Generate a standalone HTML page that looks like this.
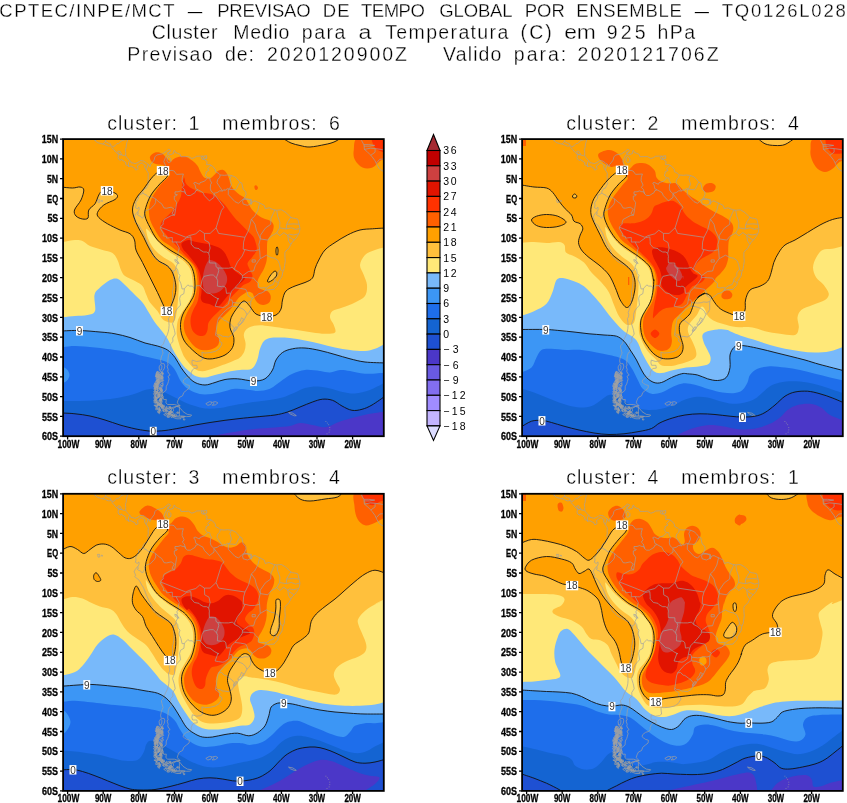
<!DOCTYPE html>
<html lang="pt"><head><meta charset="utf-8"><title>CPTEC/INPE/MCT - Previsao de Tempo Global por Ensemble</title>
<style>html,body{margin:0;padding:0;background:#fff}body{width:847px;height:803px;overflow:hidden}svg{display:block;will-change:transform}text{font-family:"Liberation Sans",sans-serif;fill:#000}.tk{font-weight:bold;font-size:10.4px;stroke:#000;stroke-width:.3px}.tt{stroke:#fff;stroke-width:.3px}.cl{font-size:10px;fill:#333}.cb{font-size:10.5px;font-weight:normal}</style></head><body>
<svg width="847" height="803" viewBox="0 0 847 803">
<rect width="847" height="803" fill="#fff"/>
<text class="tt" x="-0.67" y="16.8" font-size="18.5" textLength="175.18" lengthAdjust="spacing">CPTEC/INPE/MCT</text>
<text class="tt" x="187.85" y="16.8" font-size="18.5" textLength="14.53" lengthAdjust="spacingAndGlyphs">—</text>
<text class="tt" x="217.2" y="16.8" font-size="18.5" textLength="93.43" lengthAdjust="spacing">PREVISAO</text>
<text class="tt" x="322.87" y="16.8" font-size="18.5" textLength="26.71" lengthAdjust="spacing">DE</text>
<text class="tt" x="361.06" y="16.8" font-size="18.5" textLength="63.76" lengthAdjust="spacing">TEMPO</text>
<text class="tt" x="439.24" y="16.8" font-size="18.5" textLength="73.37" lengthAdjust="spacing">GLOBAL</text>
<text class="tt" x="524.87" y="16.8" font-size="18.5" textLength="39.9" lengthAdjust="spacing">POR</text>
<text class="tt" x="576.2" y="16.8" font-size="18.5" textLength="105.64" lengthAdjust="spacing">ENSEMBLE</text>
<text class="tt" x="694.7" y="16.8" font-size="18.5" textLength="14.25" lengthAdjust="spacingAndGlyphs">—</text>
<text class="tt" x="721.72" y="16.8" font-size="18.5" textLength="124.03" lengthAdjust="spacing">TQ0126L028</text>
<text class="tt" x="151.66" y="38.8" font-size="19.5" textLength="65.75" lengthAdjust="spacing">Cluster</text>
<text class="tt" x="233.31" y="38.8" font-size="19.5" textLength="55.99" lengthAdjust="spacing">Medio</text>
<text class="tt" x="301.82" y="38.8" font-size="19.5" textLength="43.63" lengthAdjust="spacing">para</text>
<text class="tt" x="358.44" y="38.8" font-size="19.5" textLength="12.89" lengthAdjust="spacingAndGlyphs">a</text>
<text class="tt" x="385.25" y="38.8" font-size="19.5" textLength="123" lengthAdjust="spacing">Temperatura</text>
<text class="tt" x="520.56" y="38.8" font-size="19.5" textLength="31.26" lengthAdjust="spacing">(C)</text>
<text class="tt" x="564.17" y="38.8" font-size="19.5" textLength="31.78" lengthAdjust="spacingAndGlyphs">em</text>
<text class="tt" x="606.74" y="38.8" font-size="19.5" textLength="38.99" lengthAdjust="spacing">925</text>
<text class="tt" x="657.38" y="38.8" font-size="19.5" textLength="37.85" lengthAdjust="spacing">hPa</text>
<text class="tt" x="127.31" y="60.6" font-size="19.5" textLength="85.38" lengthAdjust="spacing">Previsao</text>
<text class="tt" x="224.88" y="60.6" font-size="19.5" textLength="28.97" lengthAdjust="spacing">de:</text>
<text class="tt" x="266.92" y="60.6" font-size="19.5" textLength="140.08" lengthAdjust="spacing">2020120900Z</text>
<text class="tt" x="443.1" y="60.6" font-size="19.5" textLength="58.29" lengthAdjust="spacing">Valido</text>
<text class="tt" x="513.86" y="60.6" font-size="19.5" textLength="52.33" lengthAdjust="spacing">para:</text>
<text class="tt" x="577.6" y="60.6" font-size="19.5" textLength="141.04" lengthAdjust="spacing">2020121706Z</text>
<defs>
<clipPath id="cp1"><rect x="63.1" y="139.1" width="320.7" height="297.1"/></clipPath>
<clipPath id="cp2"><rect x="522.1" y="139.1" width="320.7" height="297.1"/></clipPath>
<clipPath id="cp3"><rect x="63.1" y="493.8" width="320.7" height="297.1"/></clipPath>
<clipPath id="cp4"><rect x="522.1" y="493.8" width="320.7" height="297.1"/></clipPath>
<g id="map" fill="none" stroke="#a0a0a0" stroke-width="0.7" stroke-linejoin="round">
<path d="M148.3 164.2L149.9 166.8L150.6 164.5L152 162.9L154.1 160.1L154.9 156.9L156.6 155.1L159.1 154.5L162.7 153.8L166.3 151.4L168.4 149.2L170.5 150.2L169.8 151.8L167.5 152.6L168.8 155.1L170.9 154.5L173.7 153.4L173.4 151.6L174.5 150.2L175.3 152.4L177.3 153.2L180.2 154.4L180.9 156.7L185.1 156.7L188.4 156.5L191.9 158.5L194.8 157.5L196.5 156.3L200.5 156.1L203.3 156.1L201.2 157.3L201.9 159.1L204.4 159.5L207.2 161.7L206.5 164.7L210.1 164.7L213.3 166.8L215.4 169.6L215.4 171.6L219 173.6L220.2 175L224.3 175.3L227.5 175L231.5 175.5L235 176.9L237.5 179.1L239.8 182.1L241.8 183.1L243.2 189.4L245.7 191.6L246.1 194.2L244.3 198.5L248.2 199.1L251.4 199.7L251.1 204.5L252.8 201.3L255 200.9L257.8 202.3L261.4 203.9L264.3 205.5L265.3 208.8L267.1 208.2L269.2 207.8L273.2 209.6L276.7 210.2L281.4 209.8L284.9 211.8L286.7 213.2L289.9 216.5L292 217.9L295.6 218.5L297.7 219.1L298.6 222.3L299.5 226.1L299.9 228.4L299.5 231.8L298.1 235L296 238.1L294.2 240.1L292 242.5L290.6 244.9L288.5 248.8L286.7 250L284.9 252.4L284.9 257.1L285.3 261.1L284.6 265.5L284.2 268.6L282.8 271.8L282.1 276.2L280.6 278.5L278.5 281.7L277.8 285.3L274.6 288.4L274.2 289.4L270.3 289.6L267.1 289.8L265 290.8L262.1 292.8L258.9 293.6L256.4 295.6L253.2 297.9L251.4 299.5L250.7 302.3L250.7 306.3L250.7 309.4L249.3 312.2L246.8 314.6L245 318.2L242.9 322.1L240 324.9L238.2 326.1L236.5 329.6L233.6 332.2L232.2 334.8L228.3 337L224.7 336.4L222.9 336.4L220.4 335L217.6 334.8L215.8 333.2L215.4 335.2L218.6 337.2L220.1 339.1L219.4 341.1L221.8 342.7L221.8 344.7L219 349.1L215.1 351.4L210.1 352.6L204.7 353L201.9 352.2L202.2 356.2L202.6 359.4L200.5 360.9L196.5 361.5L192.3 360.1L191.9 362.9L192.6 365.3L196.9 365.3L197.3 368.1L194.1 368.5L192.3 370L191.2 372.8L191.2 375.2L189.8 376.8L186.6 377.6L183.7 379.9L183 381.9L184.8 383.5L186.6 384.7L189.4 385.5L189.1 388.3L186.6 390.2L183.7 392.6L182.6 395.8L179.4 397.4L178 400.2L177.3 402.9L178.4 404.1L180.2 405.9L176.2 406.5L172.7 407.3L171.2 410.1L170.2 411.8L167.3 410.8L163.8 408.5L160.9 406.9L157.7 404.5L157 402.5L155.6 398.6L154.9 394.6L154.9 390.6L155.6 387.9L158.4 386.7L154.5 383.5L156.3 380.7L158.8 379.6L160.2 376.8L160.9 373.6L162.7 370.8L164.1 368.9L164.8 366.1L164.1 363.7L161.3 363.7L160.6 360.9L161.3 357L162.3 354.6L163.1 353L162 349.1L161.4 345.9L163.4 343.9L164.5 340.7L165.5 338.4L167.3 334.8L168.4 331.2L168.8 328.8L169.1 325.3L168.8 321.3L168.4 318.5L169.5 317L169.8 314.2L169.1 312.6L170.5 309L171.2 305.9L172.3 301.9L172.7 298.7L172.7 294.8L172.3 291.6L173 290L173.7 286.1L174.1 281.7L173.9 278.5L173.4 274.6L173.2 271.4L171.2 269.4L169.5 267.4L167 265.9L164.1 264.3L160.9 262.7L157.7 260.7L155.6 258.7L153.1 256L152 253.6L152 251.6L150.2 248L149 246.3L147.7 243.3L146.3 240.1L144.9 236.5L143.5 233L141.7 230.2L139.9 227L138.8 225.1L135.6 222.7L134.7 221.9L135.6 220.7L134.9 218.7L134.1 217.1L135.3 214.8L137 212.4L138.1 211.8L139.2 209.2L138.8 207.2L137.4 208.8L135.4 207.6L136 205.3L135.6 202.7L137 200.9L137.2 199.9L138.5 198.5L138.6 195.4L140.6 194.4L142.7 193.4L142.9 191.4L144.5 188.6L146.3 188.2L147.7 185.4L148.8 183.1L147.7 181.9L148.3 178.7L148.1 176.3L148.4 173.6L147.7 172L146.3 170"/>
<path d="M146.3 170L145.2 168.4L144.5 166.4L145.4 165.2L144.2 164.8L142.4 163.1L140.6 163.1L139.5 164.5L137.4 165.8L138.1 168.4L137.4 169.6L135.6 170L134.9 168L133.1 167.2L131 166L128.5 166.6L128.1 165.6L126 165L125.6 164.1L126 162.9L123.9 161.1L122.1 160.3L121.4 159.1L120.6 160.5L118.7 159.3L118 157.3L118.5 155.1L118.2 154.2L115.7 152L113.9 149.8L111.7 147.4L112.5 146.2L111 145.8L108.5 146.2L105.7 145L103.2 144.1L100.3 143.5L97.8 142.7L95.3 140.9L93.2 138.3"/>
<path d="M148.3 164.2L146.7 163.3L144.2 161.3L142.4 160.7L140.2 160.7L139.2 161.7L137 162.9L134.9 163.7L132.8 162.9L131 162.9L131 161.7L129.6 160.5L128.1 158.9L126.3 156.9L125.6 155.1L125.8 152.6L125.3 149.8L126.2 147.4L126.3 145L127.1 141.9L127.6 139.1L127.4 137.9"/>
<path d="M128.5 166.6L128.5 162.9L129.6 160.5"/>
<path d="M118.5 154.5L121.4 154.9L124.6 155.7L125.6 155.1"/>
<path d="M112.8 147L114.9 145.8L117.1 143.5L118.5 143.7L121 141.1L122.8 140.3L127.6 139.1"/>
<path d="M111 145.4L110.3 143.5L108.5 143.1L105.5 141.5L106 138.3"/>
<path d="M102.8 144.1L104.3 142.7L105.5 141.5"/>
<path d="M95.3 140.9L95.7 138.3"/>
<path d="M146.3 170L148.3 164.2"/>
<path d="M169.6 151.6L167.3 154.5L165.5 157.3L163.8 161.7L165.5 165.2L165.9 168.8L167.3 170.8L172 170.4L174.1 171L176.6 174.4L183.4 174L182.3 177.5L182.1 180.7L184.1 185.1L182.3 187.4L184.4 189.4L185.5 193.8"/>
<path d="M185.5 193.8L184.8 191.8L181.9 191.6L180.9 190.8L178 191.8L175 191.8L175 194.3L177.3 194.6L176.6 195.7L174.3 196.2L174.3 199.3L176.6 202.5L176.4 204.5L174.6 215.2"/>
<path d="M174.6 215.2L172 213.6L174.3 209.2L171.2 207.2L166.6 208.2L164.1 208L161.6 203.7L159.1 202.1L155.6 198.9"/>
<path d="M155.6 198.9L154.5 198.3L152 196.9L148.1 196.9L147 195.4L143.8 193.8L142.9 192.8"/>
<path d="M155.6 198.9L155.7 202.3L154.5 204.7L150.6 208.8L146.5 210.4L144.5 212L144.9 214L143.5 216.7L142.4 218.3L140.6 216.3L138.5 215.6L137.2 214.4L138.3 214L137.8 212"/>
<path d="M174.6 215.2L171.6 215.4L164.1 219.5L163.1 222.5L163.2 224.3L161.1 225.9L160.2 228.2L163.8 234.2L163.1 235.8L166.3 236.4L166.6 238.1L172.3 237.5L172.3 242.1L176 241.9"/>
<path d="M176 241.9L179.3 248L178 252.4L178.4 254.8L176.8 257.1L177.5 259.1L176.6 260.3L178 262.7L175.9 267.1L176.2 267.8"/>
<path d="M176.2 267.8L175.2 270.2L173.2 271.2"/>
<path d="M176.2 267.8L177.7 269.8L178.2 273.4L180 275.4L178.9 279.3L180.9 283.7L182.1 289L184.4 288.8"/>
<path d="M176 241.9L178.7 242.1L180.5 242.1L186.6 237.7L190.8 236.9L191.2 241.7L191.2 244.1L194.4 247.8L199 248.6L200.1 250L203.7 252L206.5 252L208.7 253.2L209.4 256.4L209.2 258.3L209.4 262.9L215.8 263.1L216 266.7L217.9 268L218.8 270.6L217.9 273.8L216.7 277L216.7 278.3"/>
<path d="M216.7 278.3L213.3 275L210.1 275L203.9 276.4L202.1 279.9L200.6 286.7"/>
<path d="M200.6 286.7L200.1 285.7L196 285.7L194.8 289L192.4 286.1L189.6 286.1L187.8 284.9L185.1 287.8L184.4 288.8"/>
<path d="M184.4 288.8L183.9 293.6L180.5 295.6L179.6 298.7L180.2 302.3L180.5 305.1L177.7 308.2L175.7 311L174.6 314.2L174.5 318.9L173.4 321.7L172.5 323.7L174.1 328.8L174.5 330.4L175.2 334L172.7 338L173 341.5L170.5 343.9L171.1 351.8L169.5 352.6L168.4 355.4L168 359L167.7 363.3L168.2 365.3L167 366.1L168.2 369.6L167.7 371.2L168.8 373.6L170.2 374.8L168 376.4L169.1 378.8L168.4 381.5L167.7 383.9L166.3 386.3L166.1 390.2L162 393.8L163.2 397.8L163.8 399.6L166.3 399.4L165.9 402.9L167.7 404.5L174.5 404.5L176.2 405.1L180 405.9"/>
<path d="M200.6 286.7L206.5 292.8L210.1 293.6L214.4 296.8L218.6 299.1L218.1 298.3L215.1 306.3L218.6 306.9L222.9 307.5L224.7 306.9L228.6 304.1L229.3 299.9"/>
<path d="M216.7 278.3L217.7 280.7L217.4 286.1L221.8 286.7L222.9 286.1L224.9 286.9L225.8 288.2L226.5 293.4L229.3 293L230.6 293.8L229.3 299.9"/>
<path d="M229.3 299.9L231.8 299.9L232.7 302.3L232.2 306.1L227.9 308.6L225.4 310.6L223.3 312.6L218.6 318.2"/>
<path d="M218.6 318.2L221.5 317.8L224.3 320.5L225.8 320.7L229.3 323.3L232.2 325.5L234.3 328.1L233.6 332.2"/>
<path d="M218.6 318.2L217.6 321.3L216.9 325.3L216.5 329.2L215.8 333.2"/>
<path d="M210.1 164.7L210.8 165.6L207.6 168.8L209 170.4L206 172L206.2 174L205.1 175L207.6 177.9"/>
<path d="M207.6 177.9L204.7 181.1L200.1 182.7L199.4 184.3L195.1 182.3L193.7 183.1L195.1 185.1L195.8 188.6L198 189.8L195.7 190.8L195.1 192.6L191.2 195L190.3 195.5L187.6 195.5L185.5 193.8"/>
<path d="M207.6 177.9L209.7 177.9L210.3 180.7L211.7 182.9L210.6 184.3L210.3 188.2L211 191L213.7 193.4L217.2 192.6L219.7 190.8L222.6 191"/>
<path d="M220.2 175L219.7 177.5L217.6 179.5L217 182.7L218.6 185.2L220.1 187.4L222.6 191"/>
<path d="M222.6 191L224.3 189.4L224.7 190.6L227.9 188.4L229.3 189.4"/>
<path d="M231.5 175.5L229.9 178.7L231.5 184.3L229.3 189.4"/>
<path d="M229.3 189.4L232.2 189.4L235.4 189.8L236.6 188.2L239.8 182.1"/>
<path d="M214 193.8L224 207.2L221.5 210.4L216.1 227.8"/>
<path d="M198 189.8L203 192.6L204.4 195.7L209.4 200.9L214 197.3L214 193.8"/>
<path d="M160.9 227.4L185.9 237.3"/>
<path d="M185.9 237.3L188.7 235.8L195.8 233.8L199.8 230.2L204.4 233.4"/>
<path d="M204.4 233.4L210.1 233.4L216.1 227.8"/>
<path d="M216.1 227.8L218.6 233.4L245 237.3"/>
<path d="M245 237.3L248.6 230.2L251.4 219.1L254.6 216.3L257.8 210.4L259.6 202.9"/>
<path d="M228.3 189L228.3 194.6L235 201.7L238.6 203.3L242.2 199.7L244.3 198.5"/>
<path d="M274.9 210L271 218.3L270.7 224.3L265.3 228.2L260.3 235.4L260.3 238.9"/>
<path d="M251.4 219.1L255 224.3L256.4 230.2L260.3 238.9"/>
<path d="M276.7 210.2L277.8 216.3L279.9 222.3L279.6 227.8"/>
<path d="M279.6 227.8L276.7 233L271 236.2L267.8 240.1L260.3 238.9"/>
<path d="M291 217.1L288.1 221.5L286.7 224.3L286.3 228.2L286 229L279.6 227.8"/>
<path d="M299.2 224.3L293.8 223.9L286.7 224.3"/>
<path d="M299.7 228.4L295.6 229.4L291.3 227.8L286 229"/>
<path d="M298.5 233.8L293.8 235L289.2 234.2L287.8 235.4"/>
<path d="M294.2 240.1L289.2 236.9L287.8 235.4"/>
<path d="M290.6 244.1L288.5 240.9L287.8 235.4L283.8 232.6L279.9 235.8L276.7 233"/>
<path d="M260.3 238.9L258.9 244.5L259.6 249.6L260 255.2L260.3 258.7"/>
<path d="M260.3 258.7L266.4 255.2L271 257.5L274.9 258.3L278.1 260.7L279.6 264.3L280.6 269.4L282.4 271.2"/>
<path d="M245 237.3L243.6 242.1L243.2 249.2L245 249.6"/>
<path d="M245 249.6L250 250.8L254.6 250.8L259.6 249.6"/>
<path d="M245 249.6L242.2 256L237.5 261.9L234.7 267.8L234.7 269.8"/>
<path d="M234.7 269.8L238.6 271.8L242.2 275L242.5 275.8"/>
<path d="M242.5 275.8L248.6 271.4L253.6 271L255.3 265.5L260 258.7"/>
<path d="M252.1 259.9L255.3 259.9L255.3 262.1L252.1 262.1L252.1 259.9"/>
<path d="M217.9 268L224.3 268.2L228.6 268.2L232.5 267.4L234.7 269.8"/>
<path d="M204.4 233.4L204.7 240.1L209 242.5L210.1 248L208.7 253.2"/>
<path d="M242.5 275.8L242.2 278.9L239 283.3L235 287.6L231.5 291.2L230.6 293.8"/>
<path d="M242.5 277.4L248.2 277.7L253.6 278.1L255.7 280.9L258.5 283.3L258.2 287.3L261 288L264.3 287.6L266.4 288L264.6 291"/>
<path d="M266.4 288L269.6 285.7L273.2 284.5L274.6 281.3L275.3 280.9L277.8 282.9"/>
<path d="M274.6 281.3L274.9 278.9L277.8 275.8L277.8 273L279.2 270.6L280.6 269.4"/>
<path d="M235 287.8L240.4 288.4L245.7 289.4L247.1 292L248.2 296L251.1 297.6L252.5 298.7"/>
<path d="M232.5 302.5L238.6 303.1L242.2 302.7L244.7 301.9L247.9 302.3L250.7 301.5"/>
<path d="M232.2 306.1L236.8 306.7L240.4 307.9L242.9 309L245.7 311.8L246.8 314.6"/>
<path d="M179.4 407.1L179.4 416"/>
<path d="M363.3 137.9L361.5 140.3L364 145L364.4 149.4L366.9 151.4L370.4 154.9L372.2 156.9L375.1 160.9L376.9 164.8L379.3 168.8L382.9 171.2L384.7 172.4"/>
<path d="M364 144.6L368.7 144.6L374.7 145.4"/>
<path d="M364 146.2L369.4 146.2L374.7 145.4"/>
<path d="M364.4 149.4L370.4 148.2L375.1 148.6L375.1 152.2L370.8 155.3"/>
<path d="M375.1 148.6L381.1 149.4L384.7 150.2"/>
<path d="M376.5 162.9L379.7 159.3L384.7 158.9"/>
<path d="M382.9 171.2L384.7 167.6"/>
<path d="M168.8 156.5L170.9 158.9L170.9 161.7L168.4 162.7L167 160.5L167.3 157.7Z"/>
<path d="M118.2 153.8L121 154.9L121.7 154.2L119.6 151L117.8 151.4Z"/>
<path d="M174.8 259.5L176.9 260.3L179.1 263.5L177.7 263.1L175.2 261.5Z"/>
<path d="M241.4 317.8L243.6 318.9L241.1 323.3L238.2 325.3L237.9 324.1L240.4 320.9Z"/>
<path d="M236.1 326.5L233.2 330.4L234.3 331.2L236.5 328.1Z"/>
<path d="M203.3 158.7L206.7 158.5L206.7 155.7L204 156.1Z"/>
<path d="M243.6 199.3L247.9 199.3L251.1 200.5L250.7 203.7L247.5 205.3L243.2 204.1L242.5 201.3Z"/>
<path d="M179.4 407.1L180.5 408.5L183 411.6L187.3 414.4L191.6 415L190.5 416.4L186.6 416.6L181.6 416L179.4 416L174.5 416L170.9 414.8L167.7 414L171.2 412.8L173.7 410.8L173 408.5L176.6 406.5Z"/>
<path d="M180.9 416.4L184.8 416.4L184.1 417.6L181.2 417.4Z"/>
<path d="M174.5 416.8L180.2 417.2L180.9 418.8L176.9 418.8L173.4 417.6Z"/>
<path d="M183 418.8L185.1 419.2L184.1 420.4Z"/>
<path d="M205.8 403.7L209.4 401.7L211.9 402.1L210.8 404.5L207.9 405.3Z"/>
<path d="M212.6 402.1L215.8 401.7L217.9 402.9L215.4 404.9L212.2 405.3L213.7 403.7Z"/>
<path d="M288.5 412.4L292.8 413.2L296.3 415.6L294.5 415.8L290.6 414.2Z"/>
<path d="M160.6 364.3L162 365.7L161.6 369.6L159.5 370.4L159.1 366.9Z"/>
<path d="M97.5 199.7L99.6 199.7L100 202.1L98.2 202.5Z"/>
<path d="M101.4 200.5L102.5 200.7L102.1 201.7Z"/>
<path d="M163 373.1L162.7 371.9L162.3 372.9L162.6 374.3Z"/>
<path d="M162.4 373.4L161.6 372.5L161.2 373.6L161.6 374.3Z"/>
<path d="M158.4 372.5L158.1 371.3L157.5 371.4L157.2 372.3L157.5 373.5L158.1 373.2Z"/>
<path d="M157.5 372.2L157.2 371.5L156.6 371.8L156.6 372.8L157 373Z"/>
<path d="M161.5 372.5L160.9 370.8L160.1 371.5L159.6 373.1L160.6 374Z"/>
<path d="M159.1 372.8L158.7 372L157.6 372L156.7 372.4L157.2 373.3L158.5 373.7Z"/>
<path d="M157.4 374.2L157 373.7L156 374L156.3 374.5L156.9 374.8Z"/>
<path d="M159.9 374L159.4 373.6L158.4 373.7L158.6 374.3L159.4 374.5Z"/>
<path d="M163.7 374.1L163.1 373.2L162.1 373.3L162 374.2L162.7 374.6Z"/>
<path d="M156.8 374.5L156.4 372.9L156.1 373.3L155.8 374.3L156.1 375.5L156.5 375.9Z"/>
<path d="M160.2 375.2L159.4 374.4L158.8 374.4L158.1 374.9L158.6 375.9L159.5 375.7Z"/>
<path d="M160.8 375.2L159.5 374.4L158.6 375.4L159.4 376.3Z"/>
<path d="M158.9 375.5L158.2 374.1L157.1 374.9L156.8 376.6L158.1 377.6Z"/>
<path d="M161.5 376.5L160.6 375.3L159.3 375.6L158.6 376L159.2 377L161 376.8Z"/>
<path d="M159.7 374.9L158.6 374L157.4 374.8L158.6 375.5Z"/>
<path d="M157.2 375.2L156.8 374.1L156.4 374.2L156.3 375.2L156.5 376.3L157 376.4Z"/>
<path d="M163.2 377.3L162.6 375.9L161.2 376.1L160.9 377.5L161.3 378.5L162.1 379.1Z"/>
<path d="M158 376.7L157.3 375.6L156 376.5L156.1 377.1L156.9 377.8Z"/>
<path d="M156.2 376.1L156.1 375.5L155.5 375.5L155.3 376L155.6 377.1L156.2 376.8Z"/>
<path d="M157.8 377L157.6 376L156.2 376.3L156.2 377.2L157.4 377.5Z"/>
<path d="M162.7 375.7L162.3 374.7L161.5 375.1L161.7 376.8L162.3 377.2Z"/>
<path d="M159.2 377.1L158.5 376.1L157.4 376.5L157.9 377.8L158.4 377.9Z"/>
<path d="M161.9 376.9L161.8 376.3L161.1 376.2L161 376.9L161.2 377.9L161.6 378.2Z"/>
<path d="M162.7 378.7L161.5 378L160.5 378.6L161.6 379.2Z"/>
<path d="M156.9 378.5L156.6 378L156 378.3L156 379.2L156.4 379.1Z"/>
<path d="M160.4 377.5L159.7 376.6L158.5 377L158.5 377.8L159.8 377.9Z"/>
<path d="M163 377.4L162.4 376.9L160.9 377.4L160.7 378.1L162.1 378.6Z"/>
<path d="M160.5 379.1L160.1 378.2L159.7 378.7L159.8 379.5L160.1 379.5Z"/>
<path d="M159.2 379.3L158.7 378.9L157.9 378.8L157.4 379.3L157.6 380L158.9 379.8Z"/>
<path d="M163.1 378.6L162.7 377.6L162 377.4L161.2 379.2L161.8 380.3L162.6 380.2Z"/>
<path d="M160.7 378.6L159.7 377.4L159.1 377.8L157.8 379L158.7 379.9L159.6 379.8Z"/>
<path d="M160.2 379.6L159.5 378.7L158.8 379.5L159.5 380.5Z"/>
<path d="M158.2 379L157.8 377.7L157 378.4L157.2 379.7L157.6 380.1Z"/>
<path d="M161 381.5L160.7 380.3L159.9 380.3L159.1 381.4L159.8 382.1L160.5 382.2Z"/>
<path d="M158.9 381.5L157.8 380.1L157.1 380L157 382L158.1 382.9Z"/>
<path d="M158.3 381.3L157.7 380.2L157 380.6L157 381.8L157.7 382.2Z"/>
<path d="M159 380.7L158.1 379.5L157 380.8L158 382.3Z"/>
<path d="M159.3 381.1L159 380.6L158.6 380.6L158.2 381L158.6 381.7L159.1 381.6Z"/>
<path d="M163.8 380.6L163.5 380.1L161.9 380L161.7 380.6L162.1 381L163.1 381.1Z"/>
<path d="M159.3 382.6L158.8 380.9L157.8 382.4L158.9 383.9Z"/>
<path d="M159.5 382.5L159.2 381.9L158.6 382.2L158.6 382.9L159.2 383Z"/>
<path d="M158.5 381.8L157.8 380.3L157 380.9L156.8 382.1L157.9 382.9Z"/>
<path d="M162.4 381.3L162 380.9L161.8 380.8L161.5 381.5L161.7 381.8L162.2 381.7Z"/>
<path d="M157.3 381.1L157 380L156.6 379.7L156.1 381L156.5 382.4L156.8 382.4Z"/>
<path d="M160.8 381.5L160.7 381.2L160.2 381.1L159.9 381.8L160 382.2L160.5 382.2Z"/>
<path d="M157 383.4L155.8 382.9L154.5 383.5L155.7 383.8Z"/>
<path d="M159.2 383.3L158.7 382.6L157.1 382.9L157.2 383.7L158.5 384Z"/>
<path d="M163.2 383.1L162.9 382.4L162.4 382.9L162.2 383.7L162.9 383.8Z"/>
<path d="M159.6 382.8L159.1 382.2L158.4 383L159 383.5Z"/>
<path d="M158.9 383.7L158.4 383.1L157.9 383.3L158 383.9L158.6 383.9Z"/>
<path d="M157.7 384.4L157.6 383.7L156.6 384L156.4 384.3L156.8 385.2L157.7 385.3Z"/>
<path d="M159.6 384.8L158.2 383.9L156.8 384.4L156.9 386L158.2 386.3Z"/>
<path d="M157.4 383.9L156.8 383.1L155.7 382.9L155.5 385L156.5 385.4Z"/>
<path d="M163.4 384.9L162.6 384L161.7 383.5L160.5 384.5L161.6 386L162.4 385.5Z"/>
<path d="M157.4 384.8L156.1 383.8L155 384.6L156.5 385.7Z"/>
<path d="M158.4 385.1L158 384.4L157.1 384.6L157.2 385.3L158.2 385.6Z"/>
<path d="M158.5 384.6L157.5 382.6L156 384L157.2 385.3Z"/>
<path d="M163.2 385.9L162.6 385.2L160.7 385.7L160.7 386.4L161.9 387.3Z"/>
<path d="M156.1 385.6L155.1 384.5L154 384.4L153.8 386.3L155.5 386.8Z"/>
<path d="M156.7 385.9L156.3 384.8L154.9 385.2L154.8 386.3L156.4 386.8Z"/>
<path d="M158.3 386.4L157.6 385.8L156.3 386.4L157.5 386.9Z"/>
<path d="M156.1 386.4L155.4 385.8L154.4 385.6L153.9 386.6L154.2 387.4L155.7 387Z"/>
<path d="M162.3 387.7L161.5 387.1L160.3 387.4L159.9 388L160.2 388.7L161.8 388.4Z"/>
<path d="M157.4 387.6L156.1 386.6L155.1 387.6L156.3 388.3Z"/>
<path d="M157.8 387.3L157.4 386.2L156.4 386.4L156.4 387.8L157.5 388.5Z"/>
<path d="M159 387.1L158.5 385.8L156.9 386.4L157.3 387.7L158.1 388.7Z"/>
<path d="M157.5 386.7L157.2 386L156.5 386.1L156.6 387.3L157.2 387.8Z"/>
<path d="M160.4 388L160 387L159.5 387.3L159.1 388.2L159.5 389.1L160.2 389.3Z"/>
<path d="M155.3 389.2L155 387.8L154.5 388.1L154.1 389.4L154.5 390.3L155.2 390.5Z"/>
<path d="M158.1 388.7L156.8 387.3L155.4 387.9L155.2 389.1L156.5 389.9Z"/>
<path d="M158 388L156.9 387.4L155.9 387.2L155.2 388.2L155.5 389.1L157.1 389Z"/>
<path d="M155.7 388.6L155.2 387.6L154.5 387.5L154.1 388.1L154.5 389.1L155.1 389.5Z"/>
<path d="M158.1 389.9L157.9 389.1L157.4 389.2L157.3 390L157.4 390.8L157.8 391.1Z"/>
<path d="M162.5 390.7L161.6 389.2L160.4 390.6L161.5 391.5Z"/>
<path d="M158.1 390.5L157.7 389.2L156.5 389.1L155.2 390.2L156 391.7L157.3 392.1Z"/>
<path d="M162.4 389.1L162 388.6L161.5 388.6L161.2 389.2L161.6 389.5L162 389.5Z"/>
<path d="M161.3 389.2L160.4 388.2L159.2 388.7L159.6 389.8L161 389.9Z"/>
<path d="M162.3 389.7L161.5 388.8L160.6 389.3L160.1 390.4L161.4 391.3Z"/>
<path d="M155.6 391.6L154.7 391.2L153.5 391.8L154.9 392.1Z"/>
<path d="M162.3 390.5L160.9 389.8L160.2 390.5L161.5 391.1Z"/>
<path d="M159.4 391.8L158.8 390.8L157.3 390.8L157.3 392.3L158.9 392.7Z"/>
<path d="M161.5 390.9L161.3 390.2L160.8 390.4L160.9 391.6L161.3 391.8Z"/>
<path d="M157.3 392L156.9 391.2L156.2 391.9L156.7 393.1Z"/>
<path d="M158 392.6L156.7 391.6L155.8 392.9L156.6 393.7Z"/>
<path d="M162.7 392L162.6 390.9L161.2 391L160.8 392L161.2 392.6L162.6 392.6Z"/>
<path d="M160.4 392.6L159.9 392.1L158.9 392.4L158.9 392.9L159.9 393.1Z"/>
<path d="M157.4 392.5L155.8 391.3L155 392.6L156.3 393.9Z"/>
<path d="M156.5 393.4L155.8 392.9L155.3 393.5L155.7 394.1Z"/>
<path d="M155.8 393.6L155.5 393.1L154.2 393.2L153.4 393.7L154.3 395.1L155.6 395.1Z"/>
<path d="M161.1 393.2L160.3 392.4L159.2 392.3L158.5 393.2L159.2 394.7L160.4 394.3Z"/>
<path d="M159.1 393.7L158.1 393L157.5 392.8L157 394L157.3 394.4L158.6 394.7Z"/>
<path d="M159.3 395.7L158.9 394.7L158.1 394.6L157.3 395.6L157.9 396.5L159.4 396.5Z"/>
<path d="M159.9 395.1L159.3 393.8L158.7 394.8L159.2 395.8Z"/>
<path d="M162.4 395L161.9 393.9L161.4 394.5L161.3 396L162.1 396Z"/>
<path d="M161 394.4L159.9 393.6L158.8 394.2L158.7 395.2L160.5 395.4Z"/>
<path d="M159.5 394.7L159 393.8L157.6 393.9L156.9 394.8L157.3 395.3L159.2 395.3Z"/>
<path d="M159.7 396.2L158.8 395.6L157.8 396.4L158.8 397.7Z"/>
<path d="M157.1 395.7L156.3 395L154.8 395.1L154.4 395.6L155 396.4L156.4 396.4Z"/>
<path d="M159.5 396.7L158.9 396L158.5 396.4L158.3 397.2L158.9 397.3Z"/>
<path d="M160.8 396.4L160.4 395.5L159.5 396L159.3 397L160.3 397.1Z"/>
<path d="M163.1 396.6L162.4 395.2L161.4 396.5L162.4 397.8Z"/>
<path d="M157.5 398L157 397.4L156.2 397.5L156.3 398.4L157 398.3Z"/>
<path d="M158 398L157 396.8L156.2 397.9L156.7 399.3Z"/>
<path d="M158.7 397.2L158.5 396.2L157.9 396.3L157.7 397L157.9 398.2L158.3 398.1Z"/>
<path d="M155.9 397L155.4 396L153.8 396.8L153.8 397.5L155.3 398.4Z"/>
<path d="M162.8 397.6L161.9 396.7L160.9 396.7L160.9 399L161.9 398.9Z"/>
<path d="M156.5 399.4L156 397.8L154.1 397.9L154.2 399.4L155.6 399.9Z"/>
<path d="M160.6 399.3L160.4 398.3L160 398.3L159.7 399.6L160.1 400.5L160.3 400.5Z"/>
<path d="M162.3 398.6L161.5 397.8L160.8 398L160.6 399.2L161.8 399.3Z"/>
<path d="M162 399.2L161.1 398.2L159.9 398.7L159.8 399.8L161.2 400.4Z"/>
<path d="M161.9 399.9L161.5 399.4L160.9 399.4L160.9 400.2L161.5 400.4Z"/>
<path d="M157.7 401L156.2 399.2L155 400.5L156.8 402.1Z"/>
<path d="M161.4 400.1L160.8 399L159.9 399.5L159.9 401L160.7 401.2Z"/>
<path d="M161.1 399.7L160.7 399.1L159.6 399.6L159.6 400.2L160.5 400.3Z"/>
<path d="M156.8 399.7L156.3 398.8L155.2 399.2L155.3 400.5L156 401Z"/>
<path d="M155.9 400.4L154.7 400L153.6 400.5L154.7 401.3Z"/>
<path d="M157 402.5L156.5 401.6L155.8 402.3L156.7 403.1Z"/>
<path d="M160.7 400.9L159.6 400.3L158.7 400.6L158.2 401.2L160.1 401.3Z"/>
<path d="M155.4 401.7L154.7 400.4L153.8 402.1L154.6 403.1Z"/>
<path d="M161.6 400.9L160.9 400.2L160 400.2L159.3 400.8L160 401.8L161.2 401.5Z"/>
<path d="M162.3 400.7L161.5 400L161.2 401.1L161.8 402.7Z"/>
<path d="M159.2 403.2L158.4 402.4L157.3 402.1L157 403.1L157.5 403.9L158.4 404.2Z"/>
<path d="M157.4 402.3L156.8 401.9L156.1 402.2L156.2 402.7L156.9 402.9Z"/>
<path d="M157.3 403.4L155.8 401.9L154.8 403.3L156.4 404.3Z"/>
<path d="M161.3 403.2L161.2 402.8L160.6 402.8L160.3 403.2L160.5 403.4L161.2 403.6Z"/>
<path d="M161 404.5L160.8 404L160.1 403.8L160 404.8L160.3 405.8L160.9 405.8Z"/>
<path d="M159.5 405.1L158.8 404.1L158 404.1L157.4 405L157.7 405.8L158.9 405.7Z"/>
<path d="M161.4 403.5L160.4 403L159.7 402.8L159.1 403.7L159.7 404.3L160.5 404.3Z"/>
<path d="M160.2 405.1L159.3 403.8L158.6 405L159.3 405.7Z"/>
<path d="M158.5 404.6L158.1 403.9L157.7 403.9L157.5 404.7L158.2 404.9Z"/>
<path d="M159.6 403.9L159.2 402.5L158.7 402.3L158.5 404L158.6 404.8L159.3 405.3Z"/>
<path d="M161.8 403.7L160.7 402.2L159.5 403.9L160.5 404.6Z"/>
<path d="M155.9 405.6L154.8 405.1L153.9 405.4L155.2 406Z"/>
<path d="M162.9 405.3L161.8 404.4L160.6 404.3L160.1 405.6L160.4 406.3L161.7 406.5Z"/>
<path d="M162.6 405.2L162.4 404.4L161.5 404.7L161.2 405.3L161.8 406.3L162.4 406.4Z"/>
<path d="M157.2 405.8L156.5 405L155.9 405L155 405.7L155.6 406.6L156.6 406.7Z"/>
<path d="M157.8 406L157.2 404.7L156.4 406.1L156.9 407.1Z"/>
<path d="M162.7 406.2L162.4 405.2L161.3 405L160.9 406.8L161.4 407.9L162.6 407.8Z"/>
<path d="M164.7 406.4L163.8 404.8L162.7 406L164 407.5Z"/>
<path d="M170.3 407.1L169.7 406.6L168.5 406.8L168.8 407.5L169.9 407.8Z"/>
<path d="M163.3 407.1L163 405.7L161.5 406.1L161.5 408.4L162.5 408.4Z"/>
<path d="M170.7 407.7L170.5 406.5L169.8 406.8L169.9 408.3L170.4 408.4Z"/>
<path d="M167.2 407L166.8 406.3L166.2 406.9L166.9 407.4Z"/>
<path d="M164.3 406.5L164 406L162.9 405.9L161.7 406.4L162.4 407.2L164.2 407.2Z"/>
<path d="M167.1 408.1L166 407.5L164.8 408.1L166.3 408.8Z"/>
<path d="M157.7 409L157.3 408.2L155.9 408L155.7 409.7L157.4 409.8Z"/>
<path d="M159.6 408.5L159.4 408.2L158.2 408L157.6 408.6L158.2 408.9L159.4 409Z"/>
<path d="M168.1 408.1L167.5 407.7L166.9 408.4L167.3 409.1Z"/>
<path d="M168.6 409.1L168 408.2L167.5 409L168 409.6Z"/>
<path d="M172.4 408L171.5 407.5L170.1 407.8L170.3 408.6L171.2 408.8Z"/>
<path d="M157.5 407.5L157 406.9L156.1 406.7L156.1 407.9L156.8 408.3Z"/>
<path d="M163.5 409.6L163.2 408.2L162.7 409.5L163.3 411.3Z"/>
<path d="M160.4 409.8L159.5 409L158.6 409L158 409.8L158.7 410.5L159.5 410.4Z"/>
<path d="M167.2 410.1L166.3 409.2L165.4 409.2L164.8 409.8L165.2 410.5L166.5 410.3Z"/>
<path d="M159.9 408.6L159.6 407.7L159.2 407.2L159 408.7L159.3 410.2L159.8 410.1Z"/>
<path d="M170.3 408.6L170 408.1L169.2 407.8L168.8 408.7L169.2 409.3L169.8 409.6Z"/>
<path d="M167.7 411.4L167.2 410.8L166.7 411.5L167.3 412Z"/>
<path d="M165.1 410.8L164.6 409.4L163.7 409.8L162.7 411L163.2 411.4L164.5 412Z"/>
<path d="M161.2 410L160.2 409.6L159.2 409.6L158.7 410.2L159.1 410.5L160.6 410.6Z"/>
<path d="M167.3 410.7L166.9 410.1L165.7 410L165.1 410.8L165.4 411.5L166.6 411.3Z"/>
<path d="M161 411.4L160.3 410.5L159.5 411.4L160.1 412.4Z"/>
<path d="M171.3 412.2L170.6 411.1L169.8 412.2L170.7 413.5Z"/>
<path d="M172.1 411.6L171.7 411.1L171 410.9L170.5 411.6L170.8 412L171.7 412.1Z"/>
<path d="M159.6 413.1L159.2 411.1L158.9 411.5L158.8 413.5L159.3 413.8Z"/>
<path d="M171.5 411.6L171.2 410.6L170.2 410.4L169.4 411.5L170.1 413.3L171.2 413Z"/>
<path d="M159 411.9L158.4 410.7L157.6 411.1L157.7 412.4L158.2 412.9Z"/>
<path d="M178.1 412.3L177.1 411.8L176.4 412.5L177.2 413.6Z"/>
<path d="M179.4 413L178.5 412L177.7 412.4L177.7 413.3L178.6 413.4Z"/>
<path d="M170.3 413.2L169.1 411.5L168.1 413.1L169.4 414.6Z"/>
<path d="M170.2 413.1L169.3 412.8L168.2 412.9L168.2 413.6L169.7 413.8Z"/>
<path d="M173.5 413.4L172.7 412.1L172 413.3L172.9 415.4Z"/>
<path d="M169 413.9L168 413.1L167.3 413.9L167.8 414.5Z"/>
<path d="M167.3 413.3L166.5 412.6L165.5 412.8L165.4 413.5L165.7 414L167 414Z"/>
<path d="M170.8 414.3L169.9 412.6L168.9 414L169.6 415.5Z"/>
<path d="M172.5 414.9L171.9 414L171.4 414L171.4 415.7L172.4 416.4Z"/>
<path d="M175.1 415.3L174.5 414.9L174 414.9L173.5 415.4L173.7 416.1L174.7 415.9Z"/>
<path d="M166.5 414.5L165.5 413.8L163.7 414.5L165.5 415.9Z"/>
<path d="M172.9 416.1L172.3 415.4L170.5 415.4L171.1 417.1L172 417.9Z"/>
<path d="M174.4 416.2L173.5 415.6L172.8 415.8L172.8 416.6L173.4 416.7Z"/>
<path d="M168.9 416.1L168.3 415.3L167.2 415.3L167.2 416.6L168.4 416.7Z"/>
<path d="M170.2 416.6L168.7 416L167.6 415.8L166.8 416.9L167.8 417.5L169 417.4Z"/>
<path d="M176.5 415.1L175.9 414L174.2 414.3L174.4 416.1L175.9 416.6Z"/>
<path d="M325.5 421.5L326.3 421.5"/>
<path d="M326.9 423.1L327.7 423.1"/>
<path d="M328.3 424.7L329.1 424.7"/>
<path d="M329.4 427.5L330.2 427.5"/>
<path d="M329.4 429.9L330.2 429.9"/>
<path d="M328.7 432.2L329.5 432.2"/>
<path d="M326.6 433.8L327.4 433.8"/>
</g>
</defs>
<g clip-path="url(#cp1)">
<rect x="63.1" y="139.1" width="320.7" height="297.1" fill="#ffa000"/>
<path d="M386 228C383.8 228.1 376.8 228.4 372.5 228.8C368.2 229.1 364.2 229 360 230C355.8 231 351.7 232.9 347.5 235C343.3 237.1 338.8 240 335 242.5C331.2 245 327.7 247.1 325 250C322.3 252.9 320.4 256.9 318.8 260C317.1 263.1 316 265.8 315 268.8C314 271.8 314.2 275.7 312.5 278C310.8 280.3 307.9 281.2 305 282.5C302.1 283.8 298.2 284.6 295 286C291.8 287.4 288.1 288.7 286 291C283.9 293.3 283.3 297 282.5 300C281.7 303 282.1 306.5 281 309C279.9 311.5 278.4 313.8 276 315C273.6 316.2 270.1 316.7 266.8 316.5C263.4 316.3 258.8 315.7 256 314C253.2 312.3 252 308.7 250 306.5C248 304.3 245.8 300.8 243.8 301C241.7 301.2 239.6 304.8 237.5 307.5C235.4 310.2 232.5 314.2 231.2 317.5C230 320.8 229.6 324.2 230 327.5C230.4 330.8 233.3 334.2 233.8 337.5C234.2 340.8 234 344.6 232.5 347.5C231 350.4 228.3 353.1 225 355C221.7 356.9 216.2 358.3 212.5 358.8C208.8 359.2 205.8 359 202.5 357.5C199.2 356 195.6 352.9 192.5 350C189.4 347.1 185.8 343.8 183.8 340C181.8 336.2 180.7 331.7 180.5 327.5C180.3 323.3 180.9 319.2 182.5 315C184.1 310.8 188 306.2 190 302.5C192 298.8 193.8 296.7 194.5 292.5C195.2 288.3 195.1 281.9 194.5 277.5C193.9 273.1 193 269.3 191 266C189 262.7 186 260.2 182.5 257.5C179 254.8 174.2 252.9 170 250C165.8 247.1 160.8 243.8 157.5 240C154.2 236.2 152.1 231.5 150 227.5C147.9 223.5 145.7 219.3 145 216C144.3 212.7 144.8 211 145.8 207.5C146.8 204 148.6 199 151 195C153.4 191 157.2 186.9 160 183.8C162.8 180.6 166.7 178.2 167.5 176C168.3 173.8 166.7 171.1 165 170.5C163.3 169.9 159.8 171.1 157.5 172.5C155.2 173.9 153.3 176 151 178.8C148.7 181.5 146.2 185.4 143.8 188.8C141.2 192.1 137.9 195.2 136 198.8C134.1 202.3 132.5 206 132.5 210C132.5 214 134.1 217.9 136 222.5C137.9 227.1 141.4 232.9 143.8 237.5C146.1 242.1 147.7 246.2 150 250C152.3 253.8 154.6 257.3 157.5 260C160.4 262.7 164.9 263.7 167.5 266C170.1 268.3 171.6 270.6 173 273.8C174.4 276.9 175.4 281.5 175.8 285C176.1 288.5 175.8 291.5 175 295C174.2 298.5 172.3 303.2 171 306C169.7 308.8 168.2 312 167 312C165.8 312 165.3 309.2 163.8 306C162.2 302.8 159.8 297.2 157.5 292.5C155.2 287.8 152.5 282.5 150 277.5C147.5 272.5 144.8 267.1 142.5 262.5C140.2 257.9 137.3 253.8 136 250C134.7 246.2 135.5 242.7 134.5 240C133.5 237.3 132.4 235.4 130 233.8C127.6 232.1 123.8 231.7 120 230C116.2 228.3 111 225.8 107.5 223.8C104 221.7 100.4 219.4 98.8 217.5C97.1 215.6 96.7 214.6 97.5 212.5C98.3 210.4 100.8 207.2 103.8 205C106.7 202.8 112.7 201.1 115 199.5C117.3 197.9 117.7 196.7 117.5 195.5C117.3 194.3 115.5 193.3 113.8 192.5C112 191.7 109 190.8 107 190.5C105 190.2 103.4 190.2 102 191C100.6 191.8 99.9 192.9 98.8 195C97.6 197.1 96.7 201.2 95 203.8C93.3 206.2 89.9 207.6 88.8 210C87.6 212.4 89 216.5 88 218C87 219.5 84.5 219.3 82.5 219C80.5 218.7 77.3 217.5 76 216C74.7 214.5 73.7 212.7 74.5 210C75.3 207.3 79.5 203.3 81 200C82.5 196.7 83.9 192.2 83.8 190C83.6 187.8 81.9 187.3 80 187C78.1 186.7 75.7 188 72.5 188C69.3 188 62.9 187.2 61 187L61 438L386 438Z" fill="#ffc03c"/>
<path d="M61 242.5C63.3 242.1 71.4 240.2 75 240C78.6 239.8 80 240 82.5 241C85 242 86.7 244.5 90 246C93.3 247.5 98.8 248.8 102.5 250C106.2 251.2 110 251.3 112.5 253C115 254.7 116.1 257.2 117.5 260C118.9 262.8 119.8 267.3 121 270C122.2 272.7 122.7 274.2 125 276C127.3 277.8 132.1 279.3 135 281C137.9 282.7 140.7 283.8 142.5 286C144.3 288.2 144.8 291.2 146 294C147.2 296.8 148.1 299.7 150 302.5C151.9 305.3 155.4 308.2 157.5 311C159.6 313.8 160.8 317.2 162.5 319C164.2 320.8 166.2 321.5 168 322C169.8 322.5 172.1 323.2 173.5 322C174.9 320.8 175.5 318.7 176.2 315C177 311.3 177.6 305 178 300C178.4 295 178.8 289.6 178.8 285C178.7 280.4 178.3 276 177.5 272.5C176.7 269 176 266.2 173.8 263.8C171.5 261.2 166.9 259.8 163.8 257.5C160.6 255.2 157.5 252.9 155 250C152.5 247.1 150.2 243.5 148.8 240C147.3 236.5 145.6 229.6 146.2 228.8C146.9 227.9 150.2 232.5 152.5 235C154.8 237.5 157.1 240.8 160 243.8C162.9 246.7 166.2 249.8 170 252.5C173.8 255.2 179.2 257.3 182.5 260C185.8 262.7 188.3 265.4 190 268.8C191.7 272.1 192.1 276 192.5 280C192.9 284 193.2 288.8 192.5 292.5C191.8 296.2 190.4 298.9 188.5 302.5C186.6 306.1 182.8 310.8 181 314C179.2 317.2 178.2 318.8 177.5 322C176.8 325.2 176.5 329.7 176.7 333C176.9 336.3 177.7 339.2 178.5 342C179.3 344.8 180.3 347.6 181.2 350C182.2 352.4 182.8 354.4 184 356.5C185.2 358.6 186.7 360.4 188.5 362.5C190.3 364.6 192.7 367.5 195 369C197.3 370.5 199.6 371.3 202.5 371.2C205.4 371.2 209.2 369.8 212.5 368.8C215.8 367.7 219.2 366.2 222.5 365C225.8 363.8 229.6 362.5 232.5 361.2C235.4 360 238 359.2 240 357.5C242 355.8 243.5 353.5 244.4 351.2C245.3 349 245.7 346.5 245.6 343.8C245.5 341 243.6 337.4 243.8 335C243.9 332.6 244.8 330.9 246.2 329.4C247.7 327.9 250.2 326.9 252.5 326.2C254.8 325.6 257.1 325.2 260 325.2C262.9 325.2 267.2 325.9 270 326.2C272.8 326.6 274.1 326.8 277 327.2C279.9 327.6 283.7 328.2 287.5 328.8C291.3 329.3 295.8 329.9 300 330.5C304.2 331.1 308.3 332 312.5 332.5C316.7 333 321.2 333.8 325 333.8C328.8 333.8 333.5 334 335 332.5C336.5 331 334.6 327.5 333.8 325C332.9 322.5 330.2 319.8 330 317.5C329.8 315.2 330.4 312.7 332.5 311C334.6 309.3 338.8 308.9 342.5 307.5C346.2 306.1 351.2 304.4 355 302.5C358.8 300.6 363 298.9 365 296C367 293.1 367.2 288.5 367 285C366.8 281.5 364.9 278.3 363.8 275C362.6 271.7 359.8 268.3 360 265C360.2 261.7 362.5 257.5 365 255C367.5 252.5 371.5 251.3 375 250C378.5 248.7 384.2 247.5 386 247L386 438L61 438Z" fill="#ffe878"/>
<path d="M61 317.5C63.3 317.2 70.6 316.4 75 316C79.4 315.6 84.2 315.8 87.5 315C90.8 314.2 93.8 314.3 95 311C96.2 307.7 93.7 298.9 94.5 295C95.3 291.1 97.4 290 100 287.5C102.6 285 107.1 281.5 110 280C112.9 278.5 115 277.9 117.5 278.8C120 279.6 122.1 282.3 125 285C127.9 287.7 132.1 292.1 135 295C137.9 297.9 140.2 299.6 142.5 302.5C144.8 305.4 146.7 309.2 148.8 312.5C150.8 315.8 153 319.6 155 322.5C157 325.4 158.9 327.3 161 330C163.1 332.7 165.6 335.6 167.5 338.8C169.4 341.9 170.8 345.6 172.5 348.8C174.2 351.9 175.6 354.6 177.5 357.5C179.4 360.4 181.7 363.9 183.8 366.2C185.8 368.6 187.9 370.2 190 371.9C192.1 373.6 193.8 375.3 196.2 376.2C198.8 377.2 201.9 377.7 205 377.5C208.1 377.3 211.2 375.9 215 375C218.8 374.1 223.3 372.7 227.5 371.9C231.7 371.1 236.2 370.4 240 370C243.8 369.6 247.5 370.2 250 369.4C252.5 368.6 253.7 367 255 365C256.3 363 257.2 360.2 258 357.5C258.8 354.8 259 351.5 260 348.8C261 346 262.1 343 263.8 341.2C265.4 339.5 267.3 338.6 270 338C272.7 337.4 276.7 337.5 280 337.5C283.3 337.5 285.8 337.5 290 338C294.2 338.5 300 339.5 305 340.5C310 341.5 315 342.6 320 343.8C325 344.9 330 346.5 335 347.5C340 348.5 345 349.4 350 350C355 350.6 360.8 351.2 365 351C369.2 350.8 371.5 350.1 375 348.8C378.5 347.4 384.2 344 386 343L386 438L61 438Z" fill="#78b9fa"/>
<path d="M61 331C64.1 330.9 73 330.3 79.5 330.5C86 330.7 94.1 331.5 100 332C105.9 332.5 110 332.8 115 333.8C120 334.7 125 336 130 337.5C135 339 140.4 341.6 145 343C149.6 344.4 153.8 344.8 157.5 346C161.2 347.2 164.6 348.1 167.5 350C170.4 351.9 172.8 354.6 175 357.5C177.2 360.4 178.9 364.4 181 367.5C183.1 370.6 185.2 373.5 187.5 376C189.8 378.5 192.1 381 195 382.5C197.9 384 201.7 385 205 385C208.3 385 211.7 383.4 215 382.5C218.3 381.6 221.2 380.1 225 379.5C228.8 378.9 232.8 378.5 237.5 378.8C242.2 379 248.9 381 253.5 381C258.1 381 261.8 380.6 265 378.8C268.2 376.9 270.7 373.1 272.5 370C274.3 366.9 274.3 362.9 276 360C277.7 357.1 279.8 354.4 282.5 352.5C285.2 350.6 288.8 349.5 292.5 348.8C296.2 348 300.4 347.7 305 348C309.6 348.3 315 349.4 320 350.5C325 351.6 330 353.1 335 354.5C340 355.9 345 357.5 350 358.8C355 360 359 361.3 365 362C371 362.7 382.5 362.8 386 363L386 438L61 438Z" fill="#3c96f5"/>
<path d="M61 347.5C63.3 347.2 69.3 346 75 346C80.7 346 88.3 346.8 95 347.5C101.7 348.2 109.2 349.2 115 350C120.8 350.8 125.4 351.5 130 352.5C134.6 353.5 138.3 355 142.5 356C146.7 357 150.8 357.7 155 358.8C159.2 359.8 164.2 360.6 167.5 362.5C170.8 364.4 172.9 367.1 175 370C177.1 372.9 178.2 377.1 180 380C181.8 382.9 183.5 385.4 186 387.5C188.5 389.6 191.8 391.3 195 392.5C198.2 393.7 200.8 394.5 205 394.5C209.2 394.5 215 393.5 220 392.5C225 391.5 230 389.2 235 388.8C240 388.3 246.2 389.6 250 390C253.8 390.4 254.7 391.2 258 391C261.3 390.8 265.9 390.6 270 388.8C274.1 386.9 278.8 382.5 282.5 380C286.2 377.5 288.8 375.4 292.5 373.8C296.2 372.1 300.4 370.5 305 370C309.6 369.5 315.8 370.6 320 371C324.2 371.4 326.7 372.7 330 372.5C333.3 372.3 336.7 370.2 340 370C343.3 369.8 345.8 370.4 350 371C354.2 371.6 359 373.5 365 373.8C371 374 382.5 372.7 386 372.5L386 438L61 438Z" fill="#1e6eeb"/>
<path d="M62 368C62.8 365.9 65.8 368.3 67 369.5C68.2 370.7 69.5 373.2 69.5 375C69.5 376.8 68.2 379.3 67 380.5C65.8 381.7 62.8 384.1 62 382C61.2 379.9 61.2 370.1 62 368Z" fill="#3c96f5"/>
<path d="M61 401C64.2 401 73.5 401.2 80 401C86.5 400.8 93.3 400.6 100 400C106.7 399.4 114.2 398.5 120 397.5C125.8 396.5 130.8 395 135 393.8C139.2 392.5 141.7 390.8 145 390C148.3 389.2 151.7 388.3 155 388.8C158.3 389.2 161.7 391 165 392.5C168.3 394 171.7 395.8 175 397.5C178.3 399.2 181.7 401.1 185 402.5C188.3 403.9 191.7 405 195 406C198.3 407 200.8 408.2 205 408.5C209.2 408.8 215 408.6 220 408C225 407.4 230 405.9 235 405C240 404.1 245.5 403.2 250 402.5C254.5 401.8 258.7 401.4 262 401C265.3 400.6 266.6 400.6 270 400C273.4 399.4 278.3 398.8 282.5 397.5C286.7 396.2 291.2 394.1 295 392.5C298.8 390.9 301.2 389 305 388C308.8 387 313.3 386.4 317.5 386.5C321.7 386.6 325.8 387.6 330 388.5C334.2 389.4 338.3 391.2 342.5 392C346.7 392.8 350.4 393.8 355 393.5C359.6 393.2 364.8 391.9 370 390C375.2 388.1 383.3 383.3 386 382L386 438L61 438Z" fill="#1464d2"/>
<path d="M61 413C63.3 413.1 70.2 413.2 75 413.8C79.8 414.2 85 415 90 416C95 417 100 418.5 105 420C110 421.5 115 423.5 120 425C125 426.5 130.8 427.8 135 428.8C139.2 429.7 142 430.1 145 430.5C148 430.9 149.9 431.2 153.2 431.2C156.6 431.2 160.5 431 165 430.5C169.5 430 175 428.9 180 428C185 427.1 190 425.9 195 425C200 424.1 205 423.3 210 422.5C215 421.7 220 421 225 420.3C230 419.6 235 419.1 240 418.5C245 417.9 249.2 417.6 255 417C260.8 416.4 269.6 415.8 275 415C280.4 414.2 283.3 413.3 287.5 412C291.7 410.7 295.8 408.7 300 407C304.2 405.3 308.8 403.3 312.5 402C316.2 400.7 319.2 399.5 322.5 399.2C325.8 398.9 329.2 399.2 332.5 400.3C335.8 401.4 338.8 404.3 342 406C345.2 407.7 348.7 409.8 352 410.3C355.3 410.9 358.7 410.2 362 409.3C365.3 408.4 368 407.3 372 405C376 402.7 383.7 397.1 386 395.5L386 438L61 438Z" fill="#1e50d2"/>
<path d="M207.5 437C210.4 436.4 217.9 434.8 225 433.5C232.1 432.2 241.7 430.5 250 429.5C258.3 428.5 268.3 428.1 275 427.5C281.7 426.9 285.8 426.8 290 426C294.2 425.2 296.2 423.2 300 423C303.8 422.8 308.8 424.3 312.5 425C316.2 425.7 319.6 427 322.5 427.2C325.4 427.4 327.4 426.8 330 426C332.6 425.2 334.7 423.6 338 422.3C341.3 421.1 346 419.6 350 418.5C354 417.4 357.8 416.3 362 415.4C366.2 414.5 371 413.6 375 413C379 412.4 384.2 411.8 386 411.5L386 438Z" fill="#4b37c8"/>
<path d="M150 156.7C150.6 155.2 153.1 153.1 155 152.5C156.9 151.9 159.8 152.3 161.7 153.3C163.6 154.3 165.2 156.9 166.7 158.3C168.2 159.7 169.7 161.3 170.8 161.5C171.9 161.7 171.9 160 173.3 159.2C174.7 158.4 177.1 157.1 179.2 156.7C181.3 156.3 183.6 156 185.8 156.7C188 157.4 190.6 159.3 192.5 160.8C194.4 162.3 196.1 163.9 197.5 165.8C198.9 167.8 199.7 170.6 200.8 172.5C201.9 174.4 202.7 176.5 204.2 177.5C205.7 178.5 208.3 178.7 210 178.3C211.7 177.9 212.8 176.2 214.2 175C215.6 173.8 216.8 171.6 218.3 170.8C219.8 170 221.9 169.6 223.3 170C224.7 170.4 225.7 171.8 226.7 173.3C227.7 174.8 228.5 177.2 229.2 179.2C229.9 181.1 229.8 183.1 230.8 185C231.8 186.9 233.5 189.1 235 190.8C236.5 192.5 238.3 193.8 240 195C241.7 196.2 243.6 196.9 245 198.3C246.4 199.7 247.2 201.5 248.3 203.3C249.4 205.1 250.3 207.4 251.7 209.2C253.1 211 254.8 212.7 256.7 214.2C258.6 215.7 261.1 217.2 263.3 218.3C265.5 219.4 268.3 219.8 270 220.8C271.7 221.8 272.8 222.8 273.3 224.2C273.9 225.6 273.7 227.4 273.3 229.2C272.9 231 271.8 233.1 270.8 235C269.8 236.9 268.1 238.3 267.5 240.8C266.9 243.3 267.1 246.8 267 250C266.9 253.2 267.2 256.9 266.7 260C266.2 263.1 265.3 265.7 264.2 268.3C263.1 270.9 261.1 273.6 260 275.8C258.9 278 257.8 279.8 257.5 281.7C257.2 283.6 257.3 286.1 258.3 287.5C259.3 288.9 261.6 289.3 263.3 290C265 290.7 267.1 290.6 268.3 291.7C269.6 292.8 270.7 294.9 270.8 296.7C270.9 298.5 270.4 301.1 269.2 302.5C267.9 303.9 265.1 304.9 263.3 305C261.5 305.1 259.7 304.3 258.3 303.3C256.9 302.3 256 300.9 255 299.2C254 297.5 253.6 294.6 252.5 293.3C251.4 292.1 249.8 291.6 248.3 291.7C246.8 291.8 245 293.1 243.3 294.2C241.6 295.3 239.8 296.6 238.3 298.3C236.8 300 235.7 302.1 234.2 304.2C232.7 306.3 230.9 308.9 229.2 310.8C227.5 312.7 225.9 314.1 224.2 315.8C222.5 317.5 220.4 319 219.2 320.8C217.9 322.6 217.1 324.6 216.7 326.7C216.3 328.8 216.3 331.1 216.7 333.3C217.1 335.5 219.1 337.9 219.2 340C219.3 342.1 218.8 344.3 217.5 345.8C216.2 347.3 214.1 348.4 211.7 349.2C209.3 349.9 206 350.6 203.3 350.3C200.7 350 198.1 349.1 195.8 347.5C193.5 345.9 191.5 343.3 189.7 340.8C187.9 338.3 186 335.6 185 332.5C184 329.4 183.4 326 183.8 322.5C184.2 319 185.9 315.2 187.5 311.7C189.1 308.2 191.8 305.3 193.3 301.7C194.8 298.1 196 293.8 196.7 290C197.4 286.2 197.6 282.8 197.3 279.2C197 275.6 196.3 271.4 195 268.3C193.7 265.2 191.7 263.3 189.2 260.8C186.7 258.3 183.2 255.8 180 253.3C176.8 250.8 173.1 248 170 245.8C166.9 243.6 164.2 242.6 161.7 240C159.2 237.4 156.8 233.1 155 230C153.2 226.9 151.8 224.2 150.8 221.7C149.8 219.2 149.5 217.5 149.2 215C148.9 212.5 148.8 209.5 149.2 206.7C149.6 203.9 150.4 201.1 151.7 198.3C152.9 195.5 155 192.5 156.7 190C158.4 187.5 159.9 185.3 161.7 183.3C163.5 181.3 166.1 179.7 167.5 178C168.9 176.3 170.4 175 170 173C169.6 171 167.2 167.5 165 166C162.8 164.5 158.9 164.9 156.7 164.2C154.5 163.5 152.8 162.9 151.7 161.7C150.6 160.4 149.4 158.2 150 156.7Z" fill="#ff6000"/>
<path d="M184.2 177.5C184.8 177.5 184.8 181.6 185.8 183.3C186.8 185 188.5 186.4 190 187.5C191.5 188.6 193.3 189.2 195 190C196.7 190.8 198.1 191.9 200 192.5C201.9 193.1 204.5 192.9 206.7 193.3C208.9 193.7 211.1 193.9 213.3 195C215.5 196.1 218.1 198.3 220 200C221.9 201.7 223.3 203.1 225 205C226.7 206.9 228.3 209.5 230 211.7C231.7 213.9 233.1 216.1 235 218.3C236.9 220.5 239.5 222.8 241.7 225C243.9 227.2 246.4 229.8 248.3 231.7C250.2 233.6 252.1 234.8 253.3 236.7C254.6 238.6 255.2 241.1 255.8 243.3C256.4 245.5 257.2 247.8 256.7 250C256.1 252.2 254 254.5 252.5 256.7C251 258.9 247.9 261.1 247.5 263.3C247.1 265.5 249.2 267.9 250 270C250.8 272.1 252.5 273.9 252.5 275.8C252.5 277.8 251.5 280.2 250 281.7C248.5 283.2 245.2 283.6 243.3 285C241.4 286.4 240 288.3 238.3 290C236.6 291.7 235 293.2 233.3 295C231.6 296.8 230 298.9 228.3 300.8C226.6 302.8 225.2 304.6 223.3 306.7C221.4 308.8 218.6 311.4 216.7 313.3C214.8 315.2 213.1 316.6 211.7 318.3C210.3 320 209 321.4 208.3 323.3C207.6 325.2 208.1 328.1 207.5 330C206.9 331.9 206.4 334 205 335C203.6 336 201.1 336.4 199.2 335.8C197.2 335.2 194.7 333.5 193.3 331.7C191.9 329.9 191.2 327.4 190.8 325C190.4 322.6 190.4 320 190.8 317.5C191.2 315 192.2 312.6 193.3 310C194.4 307.4 196.5 304.8 197.5 301.7C198.5 298.6 198.9 295 199.2 291.7C199.5 288.4 199.6 285.3 199.3 281.7C199 278.1 198.5 273.3 197.3 270C196.1 266.7 194.1 264.5 192 262C189.9 259.5 187.4 257.6 185 255C182.6 252.4 179.9 249.2 177.5 246.7C175.1 244.2 172.9 242.2 170.8 240C168.7 237.8 166.7 235.5 165 233.3C163.3 231.1 161.4 228.6 160.8 226.7C160.2 224.8 160.7 223.4 161.7 221.7C162.7 220 164.8 218.6 166.7 216.7C168.6 214.8 171.5 212.2 173.3 210C175.1 207.8 176.2 205.5 177.5 203.3C178.8 201.1 180.1 198.9 180.8 196.7C181.5 194.5 181.4 192.2 181.7 190C182 187.8 182.1 185.4 182.5 183.3C182.9 181.2 183.6 177.5 184.2 177.5Z" fill="#ff3200"/>
<path d="M181.7 243.3C182.6 241.8 186.1 240.3 188.3 240C190.5 239.7 192.5 241.1 195 241.7C197.5 242.2 200.5 242.8 203.3 243.3C206.1 243.9 208.9 244.2 211.7 245C214.5 245.8 217.8 246.9 220 248.3C222.2 249.7 223.6 251.4 225 253.3C226.4 255.2 227.3 257.8 228.3 260C229.3 262.2 229.6 264.8 230.8 266.7C232.1 268.6 234.1 270.2 235.8 271.7C237.5 273.2 239.5 274.5 241 275.5C242.5 276.5 244.6 276.6 245 277.5C245.4 278.4 244.4 279.6 243.3 280.8C242.2 282.1 240 283.5 238.3 285C236.6 286.5 235 288.3 233.3 290C231.6 291.7 229.8 293.3 228.3 295C226.8 296.7 225.6 298.3 224.2 300C222.8 301.7 221.4 303.9 220 305C218.6 306.1 217.5 306.8 215.8 306.7C214.1 306.6 212.1 304.9 210 304.2C207.9 303.5 204.8 303.5 203.3 302.5C201.8 301.5 201.1 300.1 200.8 298.3C200.5 296.5 201.4 294.5 201.5 291.7C201.6 288.9 201.8 285 201.5 281.7C201.2 278.4 200.6 274.8 199.5 271.7C198.4 268.6 196.9 266.1 195 263.3C193.1 260.5 190.3 257.4 188.3 255C186.3 252.6 184.1 250.9 183 249C181.9 247.1 180.8 244.8 181.7 243.3Z" fill="#e11400"/>
<path d="M210 260C211.7 259.9 214.6 261.1 216.7 262.5C218.8 263.9 220.8 266.1 222.5 268.3C224.2 270.5 226 273.4 226.7 275.8C227.4 278.2 227.3 280.4 226.7 282.5C226.1 284.6 224.8 286.6 223.3 288.3C221.8 290 219.7 291.7 217.5 292.5C215.3 293.3 212.2 293.7 210 293.3C207.8 292.9 205.7 291.5 204.5 290C203.3 288.5 203.1 286.3 202.8 284.2C202.5 282.1 202.6 279.9 202.8 277.5C203 275.1 203.5 272.4 204.2 270C204.8 267.6 205.7 265 206.7 263.3C207.7 261.6 208.3 260.1 210 260Z" fill="#cd4040"/>
<path d="M358.8 137C353 139.2 354.4 146.2 353.8 150C353.1 153.8 353.5 157.1 355 160C356.5 162.9 359.6 166.2 362.5 167.5C365.4 168.8 369.6 168.6 372.5 167.5C375.4 166.4 377.4 162.9 380 161C382.6 159.1 386.7 160 388 156C389.3 152 392.9 140.2 388 137C383.1 133.8 364.5 134.8 358.8 137Z" fill="#ff6000"/>
<path d="M372.5 137C370.2 138.5 372.9 143.8 374 146C375.1 148.2 376.7 149.5 379 150.5C381.3 151.5 386.5 154.2 388 152C389.5 149.8 390.6 139.5 388 137C385.4 134.5 374.8 135.5 372.5 137Z" fill="#ff3200"/>
<path d="M254.5 186C254.8 185.4 255.9 185.2 256.5 185.5C257.1 185.8 258 187.2 258 188C258 188.8 257 189.8 256.5 190C256 190.2 255.1 189.7 254.8 189C254.5 188.3 254.2 186.6 254.5 186Z" fill="#ff6000"/>
<path d="M282.5 138C283.9 138.8 288.1 141.8 291 143C293.9 144.2 296.8 144.8 300 145.5C303.2 146.2 305.8 147.2 310 147C314.2 146.8 321 145.3 325 144.5C329 143.7 331.3 143.1 334 142C336.7 140.9 339.8 138.7 341 138Z" fill="#ffc03c"/>
<path d="M267.5 281C267.7 280 268.9 277.6 270 276C271.1 274.4 272.9 272.2 274 271.5C275.1 270.8 276.1 271.2 276.5 272C276.9 272.8 277 274.7 276.3 276C275.6 277.3 273.7 279 272.5 280C271.3 281 269.8 281.8 269 282C268.2 282.2 267.3 282 267.5 281Z" fill="#ffc03c"/>
<path d="M276.3 248C276.5 247.2 277 246.7 277.3 247C277.6 247.3 277.9 248.8 278 250C278.1 251.2 277.8 253.7 277.6 254.5C277.4 255.3 276.9 255.4 276.6 255C276.3 254.6 276.1 253.2 276 252C275.9 250.8 276.1 248.8 276.3 248Z" fill="#ffc03c"/>
<use href="#map" x="0" y="0"/>
<path d="M386 228C383.8 228.1 376.8 228.4 372.5 228.8C368.2 229.1 364.2 229 360 230C355.8 231 351.7 232.9 347.5 235C343.3 237.1 338.8 240 335 242.5C331.2 245 327.7 247.1 325 250C322.3 252.9 320.4 256.9 318.8 260C317.1 263.1 316 265.8 315 268.8C314 271.8 314.2 275.7 312.5 278C310.8 280.3 307.9 281.2 305 282.5C302.1 283.8 298.2 284.6 295 286C291.8 287.4 288.1 288.7 286 291C283.9 293.3 283.3 297 282.5 300C281.7 303 282.1 306.5 281 309C279.9 311.5 278.4 313.8 276 315C273.6 316.2 270.1 316.7 266.8 316.5C263.4 316.3 258.8 315.7 256 314C253.2 312.3 252 308.7 250 306.5C248 304.3 245.8 300.8 243.8 301C241.7 301.2 239.6 304.8 237.5 307.5C235.4 310.2 232.5 314.2 231.2 317.5C230 320.8 229.6 324.2 230 327.5C230.4 330.8 233.3 334.2 233.8 337.5C234.2 340.8 234 344.6 232.5 347.5C231 350.4 228.3 353.1 225 355C221.7 356.9 216.2 358.3 212.5 358.8C208.8 359.2 205.8 359 202.5 357.5C199.2 356 195.6 352.9 192.5 350C189.4 347.1 185.8 343.8 183.8 340C181.8 336.2 180.7 331.7 180.5 327.5C180.3 323.3 180.9 319.2 182.5 315C184.1 310.8 188 306.2 190 302.5C192 298.8 193.8 296.7 194.5 292.5C195.2 288.3 195.1 281.9 194.5 277.5C193.9 273.1 193 269.3 191 266C189 262.7 186 260.2 182.5 257.5C179 254.8 174.2 252.9 170 250C165.8 247.1 160.8 243.8 157.5 240C154.2 236.2 152.1 231.5 150 227.5C147.9 223.5 145.7 219.3 145 216C144.3 212.7 144.8 211 145.8 207.5C146.8 204 148.6 199 151 195C153.4 191 157.2 186.9 160 183.8C162.8 180.6 166.7 178.2 167.5 176C168.3 173.8 166.7 171.1 165 170.5C163.3 169.9 159.8 171.1 157.5 172.5C155.2 173.9 153.3 176 151 178.8C148.7 181.5 146.2 185.4 143.8 188.8C141.2 192.1 137.9 195.2 136 198.8C134.1 202.3 132.5 206 132.5 210C132.5 214 134.1 217.9 136 222.5C137.9 227.1 141.4 232.9 143.8 237.5C146.1 242.1 147.7 246.2 150 250C152.3 253.8 154.6 257.3 157.5 260C160.4 262.7 164.9 263.7 167.5 266C170.1 268.3 171.6 270.6 173 273.8C174.4 276.9 175.4 281.5 175.8 285C176.1 288.5 175.8 291.5 175 295C174.2 298.5 172.3 303.2 171 306C169.7 308.8 168.2 312 167 312C165.8 312 165.3 309.2 163.8 306C162.2 302.8 159.8 297.2 157.5 292.5C155.2 287.8 152.5 282.5 150 277.5C147.5 272.5 144.8 267.1 142.5 262.5C140.2 257.9 137.3 253.8 136 250C134.7 246.2 135.5 242.7 134.5 240C133.5 237.3 132.4 235.4 130 233.8C127.6 232.1 123.8 231.7 120 230C116.2 228.3 111 225.8 107.5 223.8C104 221.7 100.4 219.4 98.8 217.5C97.1 215.6 96.7 214.6 97.5 212.5C98.3 210.4 100.8 207.2 103.8 205C106.7 202.8 112.7 201.1 115 199.5C117.3 197.9 117.7 196.7 117.5 195.5C117.3 194.3 115.5 193.3 113.8 192.5C112 191.7 109 190.8 107 190.5C105 190.2 103.4 190.2 102 191C100.6 191.8 99.9 192.9 98.8 195C97.6 197.1 96.7 201.2 95 203.8C93.3 206.2 89.9 207.6 88.8 210C87.6 212.4 89 216.5 88 218C87 219.5 84.5 219.3 82.5 219C80.5 218.7 77.3 217.5 76 216C74.7 214.5 73.7 212.7 74.5 210C75.3 207.3 79.5 203.3 81 200C82.5 196.7 83.9 192.2 83.8 190C83.6 187.8 81.9 187.3 80 187C78.1 186.7 75.7 188 72.5 188C69.3 188 62.9 187.2 61 187" fill="none" stroke="#111" stroke-width="0.9"/>
<path d="M61 331C64.1 330.9 73 330.3 79.5 330.5C86 330.7 94.1 331.5 100 332C105.9 332.5 110 332.8 115 333.8C120 334.7 125 336 130 337.5C135 339 140.4 341.6 145 343C149.6 344.4 153.8 344.8 157.5 346C161.2 347.2 164.6 348.1 167.5 350C170.4 351.9 172.8 354.6 175 357.5C177.2 360.4 178.9 364.4 181 367.5C183.1 370.6 185.2 373.5 187.5 376C189.8 378.5 192.1 381 195 382.5C197.9 384 201.7 385 205 385C208.3 385 211.7 383.4 215 382.5C218.3 381.6 221.2 380.1 225 379.5C228.8 378.9 232.8 378.5 237.5 378.8C242.2 379 248.9 381 253.5 381C258.1 381 261.8 380.6 265 378.8C268.2 376.9 270.7 373.1 272.5 370C274.3 366.9 274.3 362.9 276 360C277.7 357.1 279.8 354.4 282.5 352.5C285.2 350.6 288.8 349.5 292.5 348.8C296.2 348 300.4 347.7 305 348C309.6 348.3 315 349.4 320 350.5C325 351.6 330 353.1 335 354.5C340 355.9 345 357.5 350 358.8C355 360 359 361.3 365 362C371 362.7 382.5 362.8 386 363" fill="none" stroke="#111" stroke-width="0.9"/>
<path d="M61 413C63.3 413.1 70.2 413.2 75 413.8C79.8 414.2 85 415 90 416C95 417 100 418.5 105 420C110 421.5 115 423.5 120 425C125 426.5 130.8 427.8 135 428.8C139.2 429.7 142 430.1 145 430.5C148 430.9 149.9 431.2 153.2 431.2C156.6 431.2 160.5 431 165 430.5C169.5 430 175 428.9 180 428C185 427.1 190 425.9 195 425C200 424.1 205 423.3 210 422.5C215 421.7 220 421 225 420.3C230 419.6 235 419.1 240 418.5C245 417.9 249.2 417.6 255 417C260.8 416.4 269.6 415.8 275 415C280.4 414.2 283.3 413.3 287.5 412C291.7 410.7 295.8 408.7 300 407C304.2 405.3 308.8 403.3 312.5 402C316.2 400.7 319.2 399.5 322.5 399.2C325.8 398.9 329.2 399.2 332.5 400.3C335.8 401.4 338.8 404.3 342 406C345.2 407.7 348.7 409.8 352 410.3C355.3 410.9 358.7 410.2 362 409.3C365.3 408.4 368 407.3 372 405C376 402.7 383.7 397.1 386 395.5" fill="none" stroke="#111" stroke-width="0.9"/>
<path d="M282.5 138C283.9 138.8 288.1 141.8 291 143C293.9 144.2 296.8 144.8 300 145.5C303.2 146.2 305.8 147.2 310 147C314.2 146.8 321 145.3 325 144.5C329 143.7 331.3 143.1 334 142C336.7 140.9 339.8 138.7 341 138" fill="none" stroke="#111" stroke-width="0.9"/>
<path d="M267.5 281C267.7 280 268.9 277.6 270 276C271.1 274.4 272.9 272.2 274 271.5C275.1 270.8 276.1 271.2 276.5 272C276.9 272.8 277 274.7 276.3 276C275.6 277.3 273.7 279 272.5 280C271.3 281 269.8 281.8 269 282C268.2 282.2 267.3 282 267.5 281Z" fill="none" stroke="#111" stroke-width="0.9"/>
<path d="M276.3 248C276.5 247.2 277 246.7 277.3 247C277.6 247.3 277.9 248.8 278 250C278.1 251.2 277.8 253.7 277.6 254.5C277.4 255.3 276.9 255.4 276.6 255C276.3 254.6 276.1 253.2 276 252C275.9 250.8 276.1 248.8 276.3 248Z" fill="none" stroke="#111" stroke-width="0.9"/>
<rect x="100.8" y="186.1" width="12.4" height="9.4" fill="#fff"/>
<text class="cl" x="107" y="194.6" text-anchor="middle">18</text>
<rect x="156.8" y="166.1" width="12.4" height="9.4" fill="#fff"/>
<text class="cl" x="163" y="174.6" text-anchor="middle">18</text>
<rect x="160.6" y="306.6" width="12.4" height="9.4" fill="#fff"/>
<text class="cl" x="166.8" y="315.1" text-anchor="middle">18</text>
<rect x="260.6" y="312.1" width="12.4" height="9.4" fill="#fff"/>
<text class="cl" x="266.8" y="320.6" text-anchor="middle">18</text>
<rect x="76" y="326.1" width="6.9" height="9.4" fill="#fff"/>
<text class="cl" x="79.5" y="334.6" text-anchor="middle">9</text>
<rect x="250.1" y="376.6" width="6.9" height="9.4" fill="#fff"/>
<text class="cl" x="253.5" y="385.1" text-anchor="middle">9</text>
<rect x="149.8" y="426.8" width="6.9" height="9.4" fill="#fff"/>
<text class="cl" x="153.2" y="435.3" text-anchor="middle">0</text>
</g>
<rect x="63.1" y="139.1" width="320.7" height="297.1" fill="none" stroke="#000" stroke-width="1.8"/>
<text class="tk" x="41.8" y="143.2" textLength="16.3" lengthAdjust="spacingAndGlyphs">15N</text>
<text class="tk" x="41.8" y="163" textLength="16.3" lengthAdjust="spacingAndGlyphs">10N</text>
<text class="tk" x="47" y="182.8" textLength="11.1" lengthAdjust="spacingAndGlyphs">5N</text>
<text class="tk" x="47.1" y="202.6" textLength="11" lengthAdjust="spacingAndGlyphs">EQ</text>
<text class="tk" x="47.4" y="222.4" textLength="10.8" lengthAdjust="spacingAndGlyphs">5S</text>
<text class="tk" x="42.1" y="242.2" textLength="16" lengthAdjust="spacingAndGlyphs">10S</text>
<text class="tk" x="42.1" y="262" textLength="16" lengthAdjust="spacingAndGlyphs">15S</text>
<text class="tk" x="42.1" y="281.8" textLength="16" lengthAdjust="spacingAndGlyphs">20S</text>
<text class="tk" x="42.1" y="301.7" textLength="16" lengthAdjust="spacingAndGlyphs">25S</text>
<text class="tk" x="42.1" y="321.5" textLength="16" lengthAdjust="spacingAndGlyphs">30S</text>
<text class="tk" x="42.1" y="341.3" textLength="16" lengthAdjust="spacingAndGlyphs">35S</text>
<text class="tk" x="42.1" y="361.1" textLength="16" lengthAdjust="spacingAndGlyphs">40S</text>
<text class="tk" x="42.1" y="380.9" textLength="16" lengthAdjust="spacingAndGlyphs">45S</text>
<text class="tk" x="42.1" y="400.7" textLength="16" lengthAdjust="spacingAndGlyphs">50S</text>
<text class="tk" x="42.1" y="420.5" textLength="16" lengthAdjust="spacingAndGlyphs">55S</text>
<text class="tk" x="42.1" y="440.3" textLength="16" lengthAdjust="spacingAndGlyphs">60S</text>
<text class="tk" x="57.5" y="447.7" textLength="21.8" lengthAdjust="spacingAndGlyphs">100W</text>
<text class="tk" x="94.9" y="447.7" textLength="16.5" lengthAdjust="spacingAndGlyphs">90W</text>
<text class="tk" x="130.6" y="447.7" textLength="16.5" lengthAdjust="spacingAndGlyphs">80W</text>
<text class="tk" x="166.2" y="447.7" textLength="16.5" lengthAdjust="spacingAndGlyphs">70W</text>
<text class="tk" x="201.8" y="447.7" textLength="16.5" lengthAdjust="spacingAndGlyphs">60W</text>
<text class="tk" x="237.5" y="447.7" textLength="16.5" lengthAdjust="spacingAndGlyphs">50W</text>
<text class="tk" x="273.1" y="447.7" textLength="16.5" lengthAdjust="spacingAndGlyphs">40W</text>
<text class="tk" x="308.7" y="447.7" textLength="16.5" lengthAdjust="spacingAndGlyphs">30W</text>
<text class="tk" x="344.4" y="447.7" textLength="16.5" lengthAdjust="spacingAndGlyphs">20W</text>
<path d="M63.1 139.1h-3.1M63.1 158.9h-3.1M63.1 178.7h-3.1M63.1 198.5h-3.1M63.1 218.3h-3.1M63.1 238.1h-3.1M63.1 257.9h-3.1M63.1 277.7h-3.1M63.1 297.6h-3.1M63.1 317.4h-3.1M63.1 337.2h-3.1M63.1 357h-3.1M63.1 376.8h-3.1M63.1 396.6h-3.1M63.1 416.4h-3.1M63.1 436.2h-3.1M67.6 436.2v3.2M103.2 436.2v3.2M138.8 436.2v3.2M174.5 436.2v3.2M210.1 436.2v3.2M245.7 436.2v3.2M281.4 436.2v3.2M317 436.2v3.2M352.6 436.2v3.2" stroke="#000" stroke-width="1.3" fill="none"/>
<text class="tt" x="107.37" y="129.6" font-size="19.5" textLength="69.48" lengthAdjust="spacing">cluster:</text>
<text class="tt" x="222.3" y="129.6" font-size="19.5" textLength="94.4" lengthAdjust="spacing">membros:</text>
<text class="tt" x="188.4" y="129.6" font-size="19.5">1</text>
<text class="tt" x="329.1" y="129.6" font-size="19.5">6</text>
<g clip-path="url(#cp2)">
<rect x="522.1" y="139.1" width="320.7" height="297.1" fill="#ffa000"/>
<path d="M845 217C842.9 217.4 836.7 218.2 832.5 219.5C828.3 220.8 824.2 222.8 820 225C815.8 227.2 811.7 230 807.5 232.5C803.3 235 798.8 237.9 795 240C791.2 242.1 787.7 242.9 785 245C782.3 247.1 780.6 249.6 778.8 252.5C776.9 255.4 775 259.2 773.8 262.5C772.5 265.8 772.3 269.4 771.2 272.5C770.2 275.6 769.4 279 767.5 281.2C765.6 283.5 762.9 284.8 760 286.2C757.1 287.7 752.4 287.7 750 290C747.6 292.3 746.3 296.7 745.5 300C744.7 303.3 745.9 307.3 745 310C744.1 312.7 743.1 315.9 740 316.2C736.9 316.6 729.8 313.5 726.2 312C722.7 310.5 720.8 309.3 718.8 307.5C716.7 305.7 715.3 303.3 713.8 301.2C712.2 299.2 711.2 296.2 709.5 295C707.8 293.8 705.8 293.3 703.8 293.8C701.8 294.2 697.3 297.6 697.5 297.5C697.7 297.4 704.6 293.4 705 293.1C705.4 292.8 701.7 294.3 700 295.6C698.3 297 696.2 299.3 695 301.2C693.8 303.2 693.3 305.4 692.5 307.5C691.7 309.6 691.2 311.9 690 313.8C688.8 315.6 686.7 317.1 685 318.8C683.3 320.4 680.9 321.7 680 323.8C679.1 325.8 679.2 328.8 679.4 331.2C679.6 333.8 680.6 336.2 681.2 338.8C681.9 341.2 683 344 683.1 346.2C683.2 348.5 682.8 350.7 681.9 352.5C680.9 354.3 679.5 355.8 677.5 356.9C675.5 357.9 672.7 358.5 670 358.8C667.3 359 664 359 661.2 358.1C658.5 357.3 656 355.7 653.8 353.8C651.5 351.8 649.4 349 647.5 346.2C645.6 343.5 643.6 340.6 642.5 337.5C641.4 334.4 640.8 330.6 640.6 327.5C640.4 324.4 640.5 321.5 641.2 318.8C642 316 643.4 314.2 645 311.2C646.6 308.3 649.3 304.8 650.6 301.2C652 297.7 652.6 293.5 653.1 290C653.6 286.5 653.7 281.7 653.8 280C653.8 278.3 654.1 282.1 653.5 280C652.9 277.9 652.2 271 650.2 267.5C648.2 264 645 261.7 641.5 258.8C638 255.8 633 252.9 629 250C625 247.1 621.1 244.8 617.8 241.2C614.4 237.7 611.3 232.9 609 228.8C606.7 224.6 604.6 219.8 604 216.2C603.4 212.7 604.2 211 605.2 207.5C606.3 204 608 199 610.2 195C612.5 191 616.3 186.9 619 183.8C621.7 180.6 625.9 178.3 626.5 176.2C627.1 174.2 624.4 171.9 622.8 171.2C621.1 170.6 619 171 616.5 172.5C614 174 610.7 176.9 607.8 180C604.8 183.1 601.5 187.7 599 191.2C596.5 194.8 594.1 197.7 592.8 201.2C591.4 204.8 590.5 209 590.8 212.5C591 216 592.4 218.8 594 222.5C595.6 226.2 598.2 230.8 600.2 235C602.3 239.2 604.2 244 606.5 247.5C608.8 251 611.1 253.5 614 256.2C616.9 259 621.1 261.2 624 263.8C626.9 266.2 629.7 268.5 631.5 271.2C633.3 274 634.2 276.9 634.8 280C635.3 283.1 635.3 286.2 634.8 290C634.2 293.8 632.9 299.6 631.5 302.5C630.1 305.4 628.4 307.9 626.5 307.5C624.6 307.1 622.1 303.3 620.2 300C618.4 296.7 617.1 291.7 615.2 287.5C613.4 283.3 611.7 278.8 609 275C606.3 271.2 602.3 267.9 599 265C595.7 262.1 591.9 260 589 257.5C586.1 255 583.2 252.5 581.5 250C579.8 247.5 578.7 245 578.5 242.5C578.3 240 579.5 237.3 580.2 235C581 232.7 582.8 230.6 582.8 228.8C582.8 226.9 581.7 225 580.2 223.8C578.8 222.5 575.5 222.7 574 221.2C572.5 219.8 573 217.1 571.5 215C570 212.9 567.3 211 565.2 208.8C563.2 206.5 561.1 204 559 201.2C556.9 198.5 554.8 194.7 552.8 192.5C550.7 190.3 549.6 188.9 546.5 188C543.4 187.1 538.4 187.5 534 187C529.6 186.5 522.5 185.1 520.2 184.8L520 438L845 438Z" fill="#ffc03c"/>
<path d="M531.5 220C531.5 218.5 534 217.2 536.5 216.2C539 215.3 543 214.5 546.5 214.5C550 214.5 554.5 215 557.8 216.2C561 217.5 565.8 220.3 566 222C566.2 223.7 562.2 225.3 559 226.2C555.8 227.2 550.2 227.6 546.5 227.5C542.8 227.4 539 226.8 536.5 225.5C534 224.2 531.5 221.5 531.5 220Z" fill="#ffa000"/>
<path d="M572.5 196C572.7 195.4 573.8 194 574.5 194C575.2 194 576.5 195.1 576.8 195.8C577 196.4 576.6 197.4 576 197.8C575.4 198.1 573.8 198 573.2 197.8C572.7 197.5 572.3 196.6 572.5 196Z" fill="#ffc03c"/>
<path d="M522 139L526 139L526 146L522 146Z" fill="#ff6000"/>
<path d="M628 277L629.3 277L629.3 285L628 285Z" fill="#ff6000"/>
<path d="M520.2 243C522.5 242.8 529.6 242 534 242C538.4 242 542.3 243 546.5 243C550.7 243 556 241.7 559 242C562 242.3 563.3 243.2 564.5 245C565.7 246.8 564.4 250.6 566 252.5C567.6 254.4 571 254.6 574 256.2C577 257.9 581.1 259.8 584 262.5C586.9 265.2 588.6 269.2 591.5 272.5C594.4 275.8 598.6 279.2 601.5 282.5C604.4 285.8 606.9 288.8 609 292.5C611.1 296.2 612.3 301 614 305C615.7 309 617.1 313.1 619 316.2C620.9 319.4 623.5 322.3 625.2 323.8C627 325.2 628 325.2 629.5 325C631 324.8 632.9 324.6 634 322.5C635.1 320.4 635.4 316.7 636 312.5C636.6 308.3 637.3 302.5 637.8 297.5C638.2 292.5 638.7 286.7 638.5 282.5C638.3 278.3 637.7 275.6 636.5 272.5C635.3 269.4 634 266.5 631.5 263.8C629 261 624.6 259 621.5 256.2C618.4 253.5 615.2 250.6 612.8 247.5C610.3 244.4 608.2 240.8 607 237.5C605.8 234.2 605.1 228.8 605.2 227.5C605.4 226.2 606.3 228.1 607.8 230C609.2 231.9 611.5 235.8 614 238.8C616.5 241.7 619.4 244.8 622.8 247.5C626.1 250.2 630.5 252.5 634 255C637.5 257.5 641.3 259.8 644 262.5C646.7 265.2 648.9 267.9 650.2 271.2C651.6 274.6 651.7 278.5 652 282.5C652.3 286.5 652.7 290.9 652 295C651.3 299.1 649.5 303.3 647.8 307C646 310.7 643 313.6 641.5 317C640 320.4 638.9 324 638.8 327.5C638.6 331 639.3 334.2 640.8 338C642.2 341.8 644.6 346.8 647.2 350.5C649.9 354.2 654.2 357.5 656.5 360C658.8 362.5 658.8 364.2 661.2 365.2C663.7 366.2 668.1 366.2 671.2 366C674.4 365.8 677.1 364.8 680 364C682.9 363.2 686.2 362.3 688.8 361.2C691.3 360.2 694 359.3 695.2 357.8C696.5 356.2 696.6 354.3 696.2 351.9C695.9 349.4 694.3 345.8 693.1 343.1C692 340.4 690.3 337.8 689.4 335.6C688.5 333.4 687.9 331.8 687.8 330C687.6 328.2 688 326.7 688.8 325C689.5 323.3 691.1 321.7 692.5 320C693.9 318.3 695.7 316.7 696.9 315C698 313.3 698.5 311.4 699.4 310C700.2 308.6 700.9 306.7 701.9 306.6C702.8 306.5 704 307.8 705 309.4C706 311 706.5 314.3 708.1 316.2C709.8 318.2 712.2 319.9 715 321.2C717.8 322.6 721.5 323.4 725 324.4C728.5 325.3 731.3 326.4 735.9 326.9C740.5 327.4 747.6 326.8 752.5 327.5C757.4 328.2 760.4 330.2 765 331.2C769.6 332.3 775 333.1 780 333.8C785 334.4 791.9 336 795 335C798.1 334 798.3 330.4 798.8 327.5C799.2 324.6 797.1 320.4 797.5 317.5C797.9 314.6 798.8 312.1 801.2 310C803.8 307.9 808.5 306.7 812.5 305C816.5 303.3 822.3 301.9 825 300C827.7 298.1 829 296.2 828.8 293.8C828.5 291.2 825.8 287.7 823.8 285C821.7 282.3 818 280.4 816.2 277.5C814.5 274.6 813 270.8 813 267.5C813 264.2 814.7 260.4 816.2 257.5C817.8 254.6 819.8 251.5 822.5 250C825.2 248.5 828.8 249.5 832.5 248.8C836.2 248 842.9 246 845 245.5L845 438L520 438Z" fill="#ffe878"/>
<path d="M520.2 316.2C522.5 315.4 529.6 313.3 534 311.2C538.4 309.2 543.4 307.1 546.5 303.8C549.6 300.4 551.1 295.2 552.8 291.2C554.4 287.3 554.8 282.2 556.5 280C558.2 277.8 559.8 277.8 562.8 278C565.7 278.2 570.5 279.9 574 281.2C577.5 282.6 580.7 283.8 584 286.2C587.3 288.8 591.1 293.1 594 296.2C596.9 299.4 599 301.9 601.5 305C604 308.1 606.5 311.9 609 315C611.5 318.1 614 321 616.5 323.8C619 326.5 620.7 328.5 624 331.2C627.3 334 633.2 336.2 636.2 340C639.3 343.8 640.4 349.6 642.5 353.8C644.6 357.9 646.9 362.1 648.8 365C650.6 367.9 651.7 369.9 653.8 371.2C655.8 372.6 657.9 373.3 661.2 373.1C664.6 372.9 669.6 370.9 673.8 370C677.9 369.1 681.9 368.1 686.2 367.5C690.6 366.9 696.2 366.9 700 366.2C703.8 365.6 707 365.2 708.8 363.8C710.5 362.3 710.8 359.8 710.6 357.5C710.4 355.2 708.6 352.5 707.5 350C706.4 347.5 704.6 345 703.8 342.5C702.9 340 701.9 336.9 702.5 335C703.1 333.1 705 332.2 707.5 331.2C710 330.3 714.2 329.6 717.5 329.4C720.8 329.2 725.4 329.7 727.5 330C729.6 330.3 727.5 330.2 730 331.2C732.5 332.3 738.3 334.8 742.5 336.2C746.7 337.7 750.4 338.5 755 340C759.6 341.5 765 343.5 770 345C775 346.5 780 347.7 785 348.8C790 349.8 795 350.6 800 351.2C805 351.9 810 352.5 815 352.5C820 352.5 825 352.3 830 351.2C835 350.2 842.5 347.1 845 346.2L845 438L520 438Z" fill="#78b9fa"/>
<path d="M520.2 329.5C524.5 329.5 539.3 329.3 545.8 329.5C552.2 329.7 554.3 330.1 559 330.5C563.7 330.9 569 331.5 574 332C579 332.5 584 333.2 589 333.8C594 334.2 599.4 334.6 604 335C608.6 335.4 613.2 335.2 616.5 336.2C619.8 337.3 621.7 339 624 341.2C626.3 343.5 628.2 346.9 630.2 350C632.3 353.1 634.6 356.7 636.5 360C638.4 363.3 639.8 367.1 641.5 370C643.2 372.9 644.4 375.4 646.5 377.5C648.6 379.6 651.5 381.7 654 382.5C656.5 383.3 658.6 383.3 661.5 382.5C664.4 381.7 668.2 379 671.5 377.5C674.8 376 678.8 374.4 681.5 373.8C684.2 373.1 684.8 373.5 687.5 373.8C690.2 374 694.2 374.2 697.5 375C700.8 375.8 704.2 377.8 707.5 378.8C710.8 379.7 714.4 380.7 717.5 380.5C720.6 380.3 724.2 379.7 726.2 377.5C728.3 375.3 729.4 371.2 730 367.5C730.6 363.8 729.4 358.3 730 355C730.6 351.7 732.3 349.1 733.8 347.5C735.2 345.9 736.5 345.7 738.8 345.5C741 345.3 744 345.7 747.5 346.2C751 346.8 755.4 347.7 760 348.8C764.6 349.8 770 351.2 775 352.5C780 353.8 785 355 790 356.2C795 357.5 800 358.6 805 360C810 361.4 813.3 362.7 820 364.5C826.7 366.3 840.8 369.9 845 371L845 438L520 438Z" fill="#3c96f5"/>
<path d="M520.2 373C522.1 372.1 528.8 370.1 531.5 367.5C534.2 364.9 534.8 360.4 536.5 357.5C538.2 354.6 539 351.5 541.5 350C544 348.5 547.3 348.8 551.5 348.8C555.7 348.8 561.5 349.8 566.5 350C571.5 350.2 576.5 349.6 581.5 350C586.5 350.4 591.9 351.7 596.5 352.5C601.1 353.3 605.2 354.2 609 355C612.8 355.8 616.1 356.5 619 357.5C621.9 358.5 624.2 359.2 626.5 361.2C628.8 363.3 630.9 366.9 632.8 370C634.6 373.1 636.1 376.9 637.8 380C639.4 383.1 640.5 386.5 642.8 388.8C645 391 648.4 393.1 651.5 393.8C654.6 394.4 658.2 393.5 661.5 392.5C664.8 391.5 668.2 389 671.5 387.5C674.8 386 678.4 384.4 681.5 383.8C684.6 383.1 686.9 383.3 690 383.8C693.1 384.2 696.7 385.3 700 386.2C703.3 387.2 706.2 388.5 710 389.5C713.8 390.5 718.3 391.9 722.5 392.5C726.7 393.1 731.7 393.4 735 393C738.3 392.6 740.4 391.8 742.5 390C744.6 388.2 746.2 385 747.5 382.5C748.8 380 748.3 377.3 750 375C751.7 372.7 754.2 370.2 757.5 368.8C760.8 367.3 765.4 366.5 770 366.2C774.6 366 780 366.9 785 367.5C790 368.1 795 369 800 370C805 371 810 372.5 815 373.8C820 375 825 376.3 830 377.5C835 378.7 842.5 380.4 845 381L845 438L520 438Z" fill="#1e6eeb"/>
<path d="M520.2 388.2C522.5 389 529.6 391 534 392.5C538.4 394 542.3 395.8 546.5 397.5C550.7 399.2 554.8 401 559 402.5C563.2 404 567.3 405.4 571.5 406.2C575.7 407.1 580.2 407.7 584 407.5C587.8 407.3 590.9 406.5 594 405C597.1 403.5 600.2 400.4 602.8 398.8C605.2 397.1 606.7 395.4 609 395C611.3 394.6 613.6 395 616.5 396.2C619.4 397.5 623.2 400.6 626.5 402.5C629.8 404.4 632.8 406.2 636.5 407.5C640.2 408.8 644.8 409.8 649 410C653.2 410.2 657.3 409.6 661.5 408.8C665.7 407.9 670.2 406.5 674 405C677.8 403.5 680.5 401.3 684 400C687.5 398.7 691.1 397.4 695 397C698.9 396.6 703.3 396.8 707.5 397.5C711.7 398.2 715.8 400.2 720 401.2C724.2 402.3 728.3 403.5 732.5 403.8C736.7 404 741.2 403.3 745 402.5C748.8 401.7 752.1 400.4 755 398.8C757.9 397.1 760 394.6 762.5 392.5C765 390.4 767.1 387.9 770 386.2C772.9 384.6 776.2 383.3 780 382.5C783.8 381.7 787.9 381.2 792.5 381.2C797.1 381.2 802.5 381.7 807.5 382.5C812.5 383.3 816.2 384.4 822.5 386.2C828.8 388.1 841.2 392.5 845 393.8L845 438L520 438Z" fill="#1464d2"/>
<path d="M520.2 427.5C522.1 426.5 527.9 422.4 531.5 421.2C535.1 420.1 538.7 420.3 542 420.5C545.3 420.7 547.8 421.5 551.5 422.5C555.2 423.5 559.4 425 564 426.2C568.6 427.5 574 428.9 579 430C584 431.1 589 432.2 594 433C599 433.8 604 434.4 609 434.5C614 434.6 619 434.2 624 433.8C629 433.2 634.4 432.4 639 431.5C643.6 430.6 648 430 651.5 428.5C655 427 656.5 424.5 660 422.8C663.5 421 668.3 419.3 672.5 418C676.7 416.7 680.4 415.7 685 415C689.6 414.3 695 413.8 700 413.8C705 413.7 710 414.1 715 414.5C720 414.9 725.4 415.8 730 416.2C734.6 416.7 738.3 417 742.5 417C746.7 417 751.2 417 755 416.2C758.8 415.5 761.7 414.4 765 412.5C768.3 410.6 771.7 407.7 775 405C778.3 402.3 781.7 398.4 785 396.2C788.3 394.1 791.2 392.8 795 392C798.8 391.2 803.3 391 807.5 391.2C811.7 391.5 815.8 392.6 820 393.8C824.2 394.9 828.3 396.4 832.5 398C836.7 399.6 842.9 402.4 845 403.2L845 438L520 438Z" fill="#1e50d2"/>
<path d="M672.5 438C674.6 436.9 680.8 433.1 685 431.2C689.2 429.4 693.3 428 697.5 427C701.7 426 705.8 425.1 710 425C714.2 424.9 718.3 425.6 722.5 426.2C726.7 426.9 731.2 428.2 735 428.8C738.8 429.3 741.2 429.6 745 429.5C748.8 429.4 753.3 429 757.5 428C761.7 427 766.2 425.5 770 423.8C773.8 422 777.1 419.8 780 417.5C782.9 415.2 784.6 412.1 787.5 410C790.4 407.9 793.8 406 797.5 405C801.2 404 806 403.3 810 403.8C814 404.2 817.9 405.6 821.2 407.5C824.6 409.4 826 412.8 830 415C834 417.2 842.5 420 845 421L845 438Z" fill="#4b37c8"/>
<path d="M599 153.3C600.7 151.9 605.9 150 609 150C612.1 150 615.1 151.7 617.3 153.3C619.6 155 621.2 157.9 622.3 160C623.4 162.1 623 164.2 624 165.8C625 167.5 626.4 170.3 628.2 170C630 169.7 632.5 165.3 634.8 164.2C637.2 163 640 162.9 642.3 163C644.7 163.1 646.9 163.7 649 165C651.1 166.3 653.6 168.8 654.8 170.8C656.1 172.9 655.4 175.7 656.5 177.5C657.6 179.3 659.4 180.7 661.5 181.7C663.6 182.6 666.6 183.1 669 183.3C671.4 183.6 673.7 182.6 675.7 183.3C677.6 184 679 186 680.7 187.5C682.3 189 683.7 190.8 685.7 192.5C687.6 194.2 690.1 196 692.3 197.5C694.6 199 696.8 200.1 699 201.7C701.2 203.2 703.2 205 705.7 206.7C708.2 208.3 711.2 210.1 714 211.7C716.8 213.2 719.7 214.3 722.3 215.8C725 217.4 728 219 729.8 220.8C731.6 222.6 732.8 224.6 733.2 226.7C733.6 228.8 733 231.1 732.3 233.3C731.6 235.6 729.7 237.2 729 240C728.3 242.8 728.3 246.9 728.2 250C728 253.1 728.6 255.6 728.2 258.3C727.8 261.1 726.9 264.2 725.7 266.7C724.4 269.2 722.3 271.4 720.7 273.3C719 275.3 717.1 276.6 715.7 278.3C714.3 280.1 716.8 279.2 712.3 283.7C707.8 288.1 693.5 300.6 688.8 305C684 309.4 685.4 308.3 683.8 310C682.1 311.7 680.4 313.3 678.8 315C677.1 316.7 674.9 318.1 673.8 320C672.6 321.9 672.3 324 671.9 326.2C671.5 328.5 671.2 331.2 671.2 333.8C671.2 336.2 672.1 339 671.9 341.2C671.7 343.5 671.1 345.9 670 347.5C668.9 349.1 667.1 350.2 665 350.6C662.9 351 660 351.1 657.5 350C655 348.9 652.1 346 650 343.8C647.9 341.5 646.1 339 645 336.2C643.9 333.5 643.3 330.6 643.1 327.5C642.9 324.4 643 320.4 643.8 317.5C644.5 314.6 646 312.7 647.5 310C649 307.3 651.1 304.6 652.5 301.2C653.9 297.9 655 293.5 655.6 290C656.2 286.5 656.5 283.3 656.2 280C656 276.7 655.2 272.8 654 270C652.8 267.2 651.1 265.7 649 263.3C646.9 261 644.3 258.3 641.5 255.8C638.7 253.3 635.5 250.8 632.3 248.3C629.1 245.8 625.1 243.6 622.3 240.8C619.6 238.1 617.6 234.6 615.7 231.7C613.7 228.8 611.9 226 610.7 223.3C609.4 220.7 608.6 218.3 608.2 215.8C607.8 213.3 607.6 211 608.2 208.3C608.7 205.7 610 202.8 611.5 200C613 197.2 615.2 194.4 617.3 191.7C619.4 188.9 622.3 185.5 624 183.3C625.7 181.2 627.4 180.3 627.7 178.7C627.9 177 626.8 175.5 625.7 173.3C624.5 171.2 622.3 167 620.7 165.8C619 164.7 617.3 166.2 615.7 166.3C614 166.5 612.6 167.2 610.7 166.7C608.7 166.2 605.9 164.7 604 163.3C602.1 161.9 599.8 160 599 158.3C598.2 156.7 597.3 154.7 599 153.3Z" fill="#ff6000"/>
<path d="M654 206.7C655.2 205.1 657.1 205 659 204.2C660.9 203.3 663.4 202.2 665.7 201.7C667.9 201.1 670.4 200.6 672.3 200.8C674.3 201.1 675.8 202.2 677.3 203.3C678.9 204.4 680.4 206 681.5 207.5C682.6 209 682.8 210.7 684 212.5C685.2 214.3 687.1 216.5 689 218.3C690.9 220.1 693.4 221.9 695.7 223.3C697.9 224.7 700.1 225.6 702.3 226.7C704.6 227.8 706.9 228.6 709 230C711.1 231.4 713.4 233.2 714.8 235C716.2 236.8 717.1 238.7 717.3 240.8C717.6 242.9 716.6 246.2 716.5 247.5C716.4 248.8 717.3 247.4 716.5 248.3C715.7 249.3 713.9 251.7 711.5 253.3C709.1 255 705 256.4 702.3 258.3C699.7 260.3 696.9 262.8 695.7 265C694.4 267.2 694 270 694.8 271.7C695.7 273.3 699 274.1 700.7 275C702.3 275.9 704.6 275.9 704.8 277C705.1 278.1 703.9 280.3 702.3 281.7C700.8 283 697.6 283.9 695.7 285C693.7 286.1 692.7 285.6 690.7 288.3C688.7 291 685.5 298.5 683.8 301.2C682 304 681.7 304.1 680 305C678.3 305.9 676 306.4 673.8 306.9C671.5 307.4 668.5 307.4 666.2 308.1C664 308.9 661.9 309.9 660 311.2C658.1 312.6 656.2 315.2 655 316.2C653.8 317.3 653 319.4 652.9 317.5C652.8 315.6 653.7 309.2 654.4 305C655 300.8 656.3 296.7 656.9 292.5C657.4 288.3 658.1 283.9 657.8 280C657.4 276.1 656.2 272.2 654.8 269.2C653.5 266.1 651.9 264.2 649.8 261.7C647.8 259.2 645.1 256.8 642.3 254.2C639.6 251.5 635.8 248.5 633.2 245.8C630.5 243.2 628.4 240.7 626.5 238.3C624.6 236 622.6 233.8 621.5 231.7C620.4 229.6 619.4 227.2 619.8 225.8C620.2 224.4 621.9 223.7 624 223.3C626.1 222.9 629.6 223.6 632.3 223.3C635.1 223.1 638.2 222.5 640.7 221.7C643.2 220.8 645.5 219.7 647.3 218.3C649.1 216.9 650.4 215.3 651.5 213.3C652.6 211.4 652.8 208.2 654 206.7Z" fill="#ff3200"/>
<path d="M652.3 250C653 248.5 655.4 247.9 657.3 247.5C659.3 247.1 661.8 247.2 664 247.5C666.2 247.8 668.4 248.5 670.7 249.2C672.9 249.9 675.2 250.6 677.3 251.7C679.4 252.8 681.5 254.2 683.2 255.8C684.8 257.5 686.2 259.6 687.3 261.7C688.4 263.8 688.9 266.4 689.8 268.3C690.8 270.3 691.9 271.9 693.2 273.3C694.4 274.7 698.7 274.3 697.3 276.7C696 279 687.3 284.9 685 287.5C682.7 290.1 684.8 291.2 683.8 292.5C682.7 293.8 680.6 294.7 678.8 295C676.9 295.3 674.6 295 672.5 294.4C670.4 293.8 668 292.6 666.2 291.2C664.5 289.9 662.7 288.1 661.9 286.2C661 284.4 661.3 281.6 661.2 280C661.2 278.4 661.7 278.3 661.5 276.7C661.3 275 660.7 272.2 659.8 270C659 267.8 657.6 265.6 656.5 263.3C655.4 261.1 653.9 258.9 653.2 256.7C652.5 254.4 651.6 251.5 652.3 250Z" fill="#e11400"/>
<path d="M669 263.3C670.2 262.8 672.5 263.5 674 264.2C675.5 264.9 676.9 266 678.2 267.5C679.4 269 680.7 271.4 681.5 273.3C682.3 275.3 682.9 278.7 683.2 279.2C683.4 279.6 683.7 275.6 683.2 275.8C682.6 276.1 681.1 280.1 679.8 280.8C678.6 281.5 677.2 280.8 675.7 280C674.1 279.2 672.2 277.5 670.7 275.8C669.1 274.2 667.2 271.7 666.5 270C665.8 268.3 666.2 266.2 666.2 265.8C666.2 265.4 666 267.9 666.5 267.5C667 267.1 667.8 263.9 669 263.3Z" fill="#cd4040"/>
<path d="M655 329.4C656.5 329.4 659.4 332.3 659.4 333.8C659.4 335.2 656.5 338.1 655 338.1C653.5 338.1 650.6 335.2 650.6 333.8C650.6 332.3 653.5 329.4 655 329.4Z" fill="#ff3200"/>
<path d="M703.2 187.5C703.5 186.2 705 184.5 706.5 183.8C708 183.1 710.8 182.9 712.3 183.3C713.9 183.8 715.4 185.1 715.7 186.3C715.9 187.6 715.2 189.8 714 190.8C712.8 191.9 709.8 192.4 708.2 192.5C706.6 192.6 705.2 192.2 704.3 191.3C703.5 190.5 702.8 188.8 703.2 187.5Z" fill="#ff6000"/>
<path d="M721.5 295C721.8 293.9 722.8 292 724 291.3C725.2 290.6 727.6 290.4 729 290.8C730.4 291.3 732.1 292.9 732.3 294.2C732.6 295.4 731.8 297.5 730.7 298.3C729.6 299.2 727.1 299.4 725.7 299.3C724.3 299.3 723 298.7 722.3 298C721.6 297.3 721.2 296.1 721.5 295Z" fill="#ff6000"/>
<path d="M815 137.5C809 139.6 811 146.2 810.5 150C810 153.8 810.8 156.9 812 160C813.2 163.1 815.3 166.8 817.5 168.8C819.7 170.8 822.5 172 825 172C827.5 172 830.2 170.3 832.5 168.8C834.8 167.2 836.5 164.4 838.8 162.5C841 160.6 845 161.7 846.2 157.5C847.5 153.3 851.5 140.8 846.2 137.5C841 134.2 821 135.4 815 137.5Z" fill="#ff6000"/>
<path d="M827.5 137.5C824.2 138.8 825.8 142.7 826.2 145C826.7 147.3 828.5 149.8 830 151.2C831.5 152.7 832.3 153.8 835 153.8C837.7 153.8 844.4 154 846.2 151.2C848.1 148.5 849.4 139.8 846.2 137.5C843.1 135.2 830.8 136.2 827.5 137.5Z" fill="#ff3200"/>
<path d="M757.5 138C758.8 139 762.1 142.5 765 143.8C767.9 145 771.7 145.4 775 145.5C778.3 145.6 781.7 145.8 785 144.5C788.3 143.2 793.3 139.1 795 138Z" fill="#ffc03c"/>
<use href="#map" x="459" y="0"/>
<path d="M845 217C842.9 217.4 836.7 218.2 832.5 219.5C828.3 220.8 824.2 222.8 820 225C815.8 227.2 811.7 230 807.5 232.5C803.3 235 798.8 237.9 795 240C791.2 242.1 787.7 242.9 785 245C782.3 247.1 780.6 249.6 778.8 252.5C776.9 255.4 775 259.2 773.8 262.5C772.5 265.8 772.3 269.4 771.2 272.5C770.2 275.6 769.4 279 767.5 281.2C765.6 283.5 762.9 284.8 760 286.2C757.1 287.7 752.4 287.7 750 290C747.6 292.3 746.3 296.7 745.5 300C744.7 303.3 745.9 307.3 745 310C744.1 312.7 743.1 315.9 740 316.2C736.9 316.6 729.8 313.5 726.2 312C722.7 310.5 720.8 309.3 718.8 307.5C716.7 305.7 715.3 303.3 713.8 301.2C712.2 299.2 711.2 296.2 709.5 295C707.8 293.8 705.8 293.3 703.8 293.8C701.8 294.2 697.3 297.6 697.5 297.5C697.7 297.4 704.6 293.4 705 293.1C705.4 292.8 701.7 294.3 700 295.6C698.3 297 696.2 299.3 695 301.2C693.8 303.2 693.3 305.4 692.5 307.5C691.7 309.6 691.2 311.9 690 313.8C688.8 315.6 686.7 317.1 685 318.8C683.3 320.4 680.9 321.7 680 323.8C679.1 325.8 679.2 328.8 679.4 331.2C679.6 333.8 680.6 336.2 681.2 338.8C681.9 341.2 683 344 683.1 346.2C683.2 348.5 682.8 350.7 681.9 352.5C680.9 354.3 679.5 355.8 677.5 356.9C675.5 357.9 672.7 358.5 670 358.8C667.3 359 664 359 661.2 358.1C658.5 357.3 656 355.7 653.8 353.8C651.5 351.8 649.4 349 647.5 346.2C645.6 343.5 643.6 340.6 642.5 337.5C641.4 334.4 640.8 330.6 640.6 327.5C640.4 324.4 640.5 321.5 641.2 318.8C642 316 643.4 314.2 645 311.2C646.6 308.3 649.3 304.8 650.6 301.2C652 297.7 652.6 293.5 653.1 290C653.6 286.5 653.7 281.7 653.8 280C653.8 278.3 654.1 282.1 653.5 280C652.9 277.9 652.2 271 650.2 267.5C648.2 264 645 261.7 641.5 258.8C638 255.8 633 252.9 629 250C625 247.1 621.1 244.8 617.8 241.2C614.4 237.7 611.3 232.9 609 228.8C606.7 224.6 604.6 219.8 604 216.2C603.4 212.7 604.2 211 605.2 207.5C606.3 204 608 199 610.2 195C612.5 191 616.3 186.9 619 183.8C621.7 180.6 625.9 178.3 626.5 176.2C627.1 174.2 624.4 171.9 622.8 171.2C621.1 170.6 619 171 616.5 172.5C614 174 610.7 176.9 607.8 180C604.8 183.1 601.5 187.7 599 191.2C596.5 194.8 594.1 197.7 592.8 201.2C591.4 204.8 590.5 209 590.8 212.5C591 216 592.4 218.8 594 222.5C595.6 226.2 598.2 230.8 600.2 235C602.3 239.2 604.2 244 606.5 247.5C608.8 251 611.1 253.5 614 256.2C616.9 259 621.1 261.2 624 263.8C626.9 266.2 629.7 268.5 631.5 271.2C633.3 274 634.2 276.9 634.8 280C635.3 283.1 635.3 286.2 634.8 290C634.2 293.8 632.9 299.6 631.5 302.5C630.1 305.4 628.4 307.9 626.5 307.5C624.6 307.1 622.1 303.3 620.2 300C618.4 296.7 617.1 291.7 615.2 287.5C613.4 283.3 611.7 278.8 609 275C606.3 271.2 602.3 267.9 599 265C595.7 262.1 591.9 260 589 257.5C586.1 255 583.2 252.5 581.5 250C579.8 247.5 578.7 245 578.5 242.5C578.3 240 579.5 237.3 580.2 235C581 232.7 582.8 230.6 582.8 228.8C582.8 226.9 581.7 225 580.2 223.8C578.8 222.5 575.5 222.7 574 221.2C572.5 219.8 573 217.1 571.5 215C570 212.9 567.3 211 565.2 208.8C563.2 206.5 561.1 204 559 201.2C556.9 198.5 554.8 194.7 552.8 192.5C550.7 190.3 549.6 188.9 546.5 188C543.4 187.1 538.4 187.5 534 187C529.6 186.5 522.5 185.1 520.2 184.8" fill="none" stroke="#111" stroke-width="0.9"/>
<path d="M531.5 220C531.5 218.5 534 217.2 536.5 216.2C539 215.3 543 214.5 546.5 214.5C550 214.5 554.5 215 557.8 216.2C561 217.5 565.8 220.3 566 222C566.2 223.7 562.2 225.3 559 226.2C555.8 227.2 550.2 227.6 546.5 227.5C542.8 227.4 539 226.8 536.5 225.5C534 224.2 531.5 221.5 531.5 220Z" fill="none" stroke="#111" stroke-width="0.9"/>
<path d="M572.5 196C572.7 195.4 573.8 194 574.5 194C575.2 194 576.5 195.1 576.8 195.8C577 196.4 576.6 197.4 576 197.8C575.4 198.1 573.8 198 573.2 197.8C572.7 197.5 572.3 196.6 572.5 196Z" fill="none" stroke="#111" stroke-width="0.9"/>
<path d="M520.2 329.5C524.5 329.5 539.3 329.3 545.8 329.5C552.2 329.7 554.3 330.1 559 330.5C563.7 330.9 569 331.5 574 332C579 332.5 584 333.2 589 333.8C594 334.2 599.4 334.6 604 335C608.6 335.4 613.2 335.2 616.5 336.2C619.8 337.3 621.7 339 624 341.2C626.3 343.5 628.2 346.9 630.2 350C632.3 353.1 634.6 356.7 636.5 360C638.4 363.3 639.8 367.1 641.5 370C643.2 372.9 644.4 375.4 646.5 377.5C648.6 379.6 651.5 381.7 654 382.5C656.5 383.3 658.6 383.3 661.5 382.5C664.4 381.7 668.2 379 671.5 377.5C674.8 376 678.8 374.4 681.5 373.8C684.2 373.1 684.8 373.5 687.5 373.8C690.2 374 694.2 374.2 697.5 375C700.8 375.8 704.2 377.8 707.5 378.8C710.8 379.7 714.4 380.7 717.5 380.5C720.6 380.3 724.2 379.7 726.2 377.5C728.3 375.3 729.4 371.2 730 367.5C730.6 363.8 729.4 358.3 730 355C730.6 351.7 732.3 349.1 733.8 347.5C735.2 345.9 736.5 345.7 738.8 345.5C741 345.3 744 345.7 747.5 346.2C751 346.8 755.4 347.7 760 348.8C764.6 349.8 770 351.2 775 352.5C780 353.8 785 355 790 356.2C795 357.5 800 358.6 805 360C810 361.4 813.3 362.7 820 364.5C826.7 366.3 840.8 369.9 845 371" fill="none" stroke="#111" stroke-width="0.9"/>
<path d="M520.2 427.5C522.1 426.5 527.9 422.4 531.5 421.2C535.1 420.1 538.7 420.3 542 420.5C545.3 420.7 547.8 421.5 551.5 422.5C555.2 423.5 559.4 425 564 426.2C568.6 427.5 574 428.9 579 430C584 431.1 589 432.2 594 433C599 433.8 604 434.4 609 434.5C614 434.6 619 434.2 624 433.8C629 433.2 634.4 432.4 639 431.5C643.6 430.6 648 430 651.5 428.5C655 427 656.5 424.5 660 422.8C663.5 421 668.3 419.3 672.5 418C676.7 416.7 680.4 415.7 685 415C689.6 414.3 695 413.8 700 413.8C705 413.7 710 414.1 715 414.5C720 414.9 725.4 415.8 730 416.2C734.6 416.7 738.3 417 742.5 417C746.7 417 751.2 417 755 416.2C758.8 415.5 761.7 414.4 765 412.5C768.3 410.6 771.7 407.7 775 405C778.3 402.3 781.7 398.4 785 396.2C788.3 394.1 791.2 392.8 795 392C798.8 391.2 803.3 391 807.5 391.2C811.7 391.5 815.8 392.6 820 393.8C824.2 394.9 828.3 396.4 832.5 398C836.7 399.6 842.9 402.4 845 403.2" fill="none" stroke="#111" stroke-width="0.9"/>
<path d="M757.5 138C758.8 139 762.1 142.5 765 143.8C767.9 145 771.7 145.4 775 145.5C778.3 145.6 781.7 145.8 785 144.5C788.3 143.2 793.3 139.1 795 138" fill="none" stroke="#111" stroke-width="0.9"/>
<rect x="615.8" y="165.6" width="12.4" height="9.4" fill="#fff"/>
<text class="cl" x="622" y="174.1" text-anchor="middle">18</text>
<rect x="733" y="311.4" width="12.4" height="9.4" fill="#fff"/>
<text class="cl" x="739.2" y="319.9" text-anchor="middle">18</text>
<rect x="542.3" y="325.1" width="6.9" height="9.4" fill="#fff"/>
<text class="cl" x="545.8" y="333.6" text-anchor="middle">9</text>
<rect x="735.3" y="341.1" width="6.9" height="9.4" fill="#fff"/>
<text class="cl" x="738.8" y="349.6" text-anchor="middle">9</text>
<rect x="538.5" y="416.1" width="6.9" height="9.4" fill="#fff"/>
<text class="cl" x="542" y="424.6" text-anchor="middle">0</text>
<rect x="739" y="412.6" width="6.9" height="9.4" fill="#fff"/>
<text class="cl" x="742.5" y="421.1" text-anchor="middle">0</text>
</g>
<rect x="522.1" y="139.1" width="320.7" height="297.1" fill="none" stroke="#000" stroke-width="1.8"/>
<text class="tk" x="500.8" y="143.2" textLength="16.3" lengthAdjust="spacingAndGlyphs">15N</text>
<text class="tk" x="500.8" y="163" textLength="16.3" lengthAdjust="spacingAndGlyphs">10N</text>
<text class="tk" x="506.1" y="182.8" textLength="11.1" lengthAdjust="spacingAndGlyphs">5N</text>
<text class="tk" x="506.1" y="202.6" textLength="11" lengthAdjust="spacingAndGlyphs">EQ</text>
<text class="tk" x="506.4" y="222.4" textLength="10.8" lengthAdjust="spacingAndGlyphs">5S</text>
<text class="tk" x="501.1" y="242.2" textLength="16" lengthAdjust="spacingAndGlyphs">10S</text>
<text class="tk" x="501.1" y="262" textLength="16" lengthAdjust="spacingAndGlyphs">15S</text>
<text class="tk" x="501.1" y="281.8" textLength="16" lengthAdjust="spacingAndGlyphs">20S</text>
<text class="tk" x="501.1" y="301.7" textLength="16" lengthAdjust="spacingAndGlyphs">25S</text>
<text class="tk" x="501.1" y="321.5" textLength="16" lengthAdjust="spacingAndGlyphs">30S</text>
<text class="tk" x="501.1" y="341.3" textLength="16" lengthAdjust="spacingAndGlyphs">35S</text>
<text class="tk" x="501.1" y="361.1" textLength="16" lengthAdjust="spacingAndGlyphs">40S</text>
<text class="tk" x="501.1" y="380.9" textLength="16" lengthAdjust="spacingAndGlyphs">45S</text>
<text class="tk" x="501.1" y="400.7" textLength="16" lengthAdjust="spacingAndGlyphs">50S</text>
<text class="tk" x="501.1" y="420.5" textLength="16" lengthAdjust="spacingAndGlyphs">55S</text>
<text class="tk" x="501.1" y="440.3" textLength="16" lengthAdjust="spacingAndGlyphs">60S</text>
<text class="tk" x="516.5" y="447.7" textLength="21.8" lengthAdjust="spacingAndGlyphs">100W</text>
<text class="tk" x="553.9" y="447.7" textLength="16.5" lengthAdjust="spacingAndGlyphs">90W</text>
<text class="tk" x="589.6" y="447.7" textLength="16.5" lengthAdjust="spacingAndGlyphs">80W</text>
<text class="tk" x="625.2" y="447.7" textLength="16.5" lengthAdjust="spacingAndGlyphs">70W</text>
<text class="tk" x="660.8" y="447.7" textLength="16.5" lengthAdjust="spacingAndGlyphs">60W</text>
<text class="tk" x="696.5" y="447.7" textLength="16.5" lengthAdjust="spacingAndGlyphs">50W</text>
<text class="tk" x="732.1" y="447.7" textLength="16.5" lengthAdjust="spacingAndGlyphs">40W</text>
<text class="tk" x="767.7" y="447.7" textLength="16.5" lengthAdjust="spacingAndGlyphs">30W</text>
<text class="tk" x="803.4" y="447.7" textLength="16.5" lengthAdjust="spacingAndGlyphs">20W</text>
<path d="M522.1 139.1h-3.1M522.1 158.9h-3.1M522.1 178.7h-3.1M522.1 198.5h-3.1M522.1 218.3h-3.1M522.1 238.1h-3.1M522.1 257.9h-3.1M522.1 277.7h-3.1M522.1 297.6h-3.1M522.1 317.4h-3.1M522.1 337.2h-3.1M522.1 357h-3.1M522.1 376.8h-3.1M522.1 396.6h-3.1M522.1 416.4h-3.1M522.1 436.2h-3.1M526.6 436.2v3.2M562.2 436.2v3.2M597.8 436.2v3.2M633.5 436.2v3.2M669.1 436.2v3.2M704.7 436.2v3.2M740.4 436.2v3.2M776 436.2v3.2M811.6 436.2v3.2" stroke="#000" stroke-width="1.3" fill="none"/>
<text class="tt" x="566.37" y="129.6" font-size="19.5" textLength="69.48" lengthAdjust="spacing">cluster:</text>
<text class="tt" x="681.3" y="129.6" font-size="19.5" textLength="94.4" lengthAdjust="spacing">membros:</text>
<text class="tt" x="647.4" y="129.6" font-size="19.5">2</text>
<text class="tt" x="788.1" y="129.6" font-size="19.5">4</text>
<g clip-path="url(#cp3)">
<rect x="63.1" y="493.8" width="320.7" height="297.1" fill="#ffa000"/>
<path d="M386.2 573.5C384.4 573 378.5 570.2 375 570.2C371.5 570.3 368.3 572.1 365 574C361.7 575.9 358.3 578.8 355 581.5C351.7 584.2 348.3 587.3 345 590.2C341.7 593.2 338.3 596.3 335 599C331.7 601.7 328.1 604 325 606.5C321.9 609 318.5 611.5 316.2 614C314 616.5 312.5 618.4 311.2 621.5C310 624.6 310.2 629.8 308.8 632.8C307.3 635.7 305 636.9 302.5 639C300 641.1 296 642.8 293.8 645.2C291.5 647.8 290.4 651.1 288.8 654C287.1 656.9 285.6 660 283.8 662.8C281.9 665.5 279.7 668.5 277.5 670.2C275.3 672 273 673.2 270.5 673.2C268 673.3 264.9 671.8 262.5 670.7C260.1 669.5 257.6 668.2 255.8 666.5C254 664.8 252.8 662.5 251.7 660.7C250.6 658.8 250.4 656.5 249.2 655.3C247.9 654.2 245.8 653.3 244.2 653.7C242.5 654 240.8 655.6 239.2 657.3C237.5 659.1 235.8 661.5 234.2 664C232.5 666.5 230.3 669.6 229.2 672.3C228.1 675.1 227.4 677.9 227.5 680.7C227.6 683.4 229 685.9 229.7 689C230.3 692.1 231.6 695.9 231.3 699C231.1 702.1 230.1 705 228.3 707.3C226.6 709.7 223.6 711.8 220.8 713.2C218.1 714.5 214.9 715.5 211.7 715.3C208.5 715.2 204.7 713.9 201.7 712.3C198.6 710.7 195.8 708.2 193.3 705.7C190.8 703.2 188.5 700.4 186.7 697.3C184.9 694.3 183.3 690.8 182.5 687.3C181.7 683.9 181.2 679.8 181.7 676.5C182.1 673.2 183.5 670.4 185 667.3C186.5 664.3 189.3 661.5 190.8 658.2C192.4 654.8 193.4 651.1 194.2 647.3C194.9 643.6 195.5 639.4 195.3 635.7C195.2 631.9 194.6 628 193.3 624.8C192 621.6 189.3 618.7 187.5 616.5C185.7 614.3 185.6 613.8 182.5 611.5C179.4 609.2 172.9 605.7 168.8 602.8C164.6 599.8 160.6 597.3 157.5 594C154.4 590.7 152 586.5 150 582.8C148 579 146.4 575 145.8 571.5C145.1 568 145.3 565.2 146.2 561.5C147.2 557.8 149 553 151.2 549C153.5 545 157.3 540.9 160 537.8C162.7 534.6 166.9 532.3 167.5 530.2C168.1 528.2 165.6 525.7 163.8 525.2C161.9 524.8 158.5 525.9 156.2 527.8C154 529.6 152.1 533.4 150 536.5C147.9 539.6 145.8 543.6 143.8 546.5C141.7 549.4 139.6 552 137.5 554C135.4 556 133.3 557.6 131.2 558.2C129.2 558.9 127.1 558.7 125 557.8C122.9 556.8 121 554.6 118.8 552.8C116.5 550.9 113.8 548 111.2 546.5C108.8 545 106.2 544.2 103.8 544C101.2 543.8 98.5 544.3 96.2 545.2C94 546.2 92.1 548.1 90 549.5C87.9 550.9 85.8 553.5 83.8 553.5C81.7 553.5 79.8 550.7 77.5 549.5C75.2 548.3 72.7 546.3 70 546.5C67.3 546.7 62.7 549.8 61.2 550.5L61 793L386 793Z" fill="#ffc03c"/>
<path d="M136.2 586C137.6 586 139.4 591.2 141.2 594C143.1 596.8 145.2 599.8 147.5 602.8C149.8 605.7 152.3 609 155 611.5C157.7 614 161 615.7 163.8 617.8C166.5 619.8 169.4 621.3 171.2 624C173.1 626.7 174.2 630.7 175 634C175.8 637.3 175.9 640.7 175.8 644C175.6 647.3 175.1 651.2 174.2 654C173.4 656.8 172.3 660.8 170.8 661C169.2 661.2 167 657.7 165 655.2C163 652.8 160.8 649.6 158.8 646.5C156.7 643.4 154.6 639.8 152.5 636.5C150.4 633.2 147.9 629.8 146.2 626.5C144.6 623.2 144.2 619.2 142.5 616.5C140.8 613.8 137.9 612.5 136.2 610.2C134.6 608 133 605.5 132.5 602.8C132 600 132.4 596.8 133 594C133.6 591.2 134.9 586 136.2 586Z" fill="#ffa000"/>
<path d="M93.8 575.2C94.1 574.1 95.3 572.5 96.2 572.8C97.2 573 98.5 575.2 99.2 576.5C100 577.8 101 579.4 100.8 580.2C100.5 581.1 98.6 581.6 97.5 581.5C96.4 581.4 94.9 580.5 94.2 579.5C93.6 578.5 93.4 576.4 93.8 575.2Z" fill="#ffa000"/>
<path d="M276.7 599.3C277.4 599.1 279.4 598.7 280 600.3C280.6 601.9 280.5 605.9 280.3 609C280.2 612.1 279.4 615.9 279.2 619C279 622.1 279.6 624.8 279.2 627.3C278.8 629.8 277.6 632.6 276.7 634C275.7 635.4 274.4 635.8 273.3 635.7C272.3 635.5 270.7 634.6 270.3 633.2C270 631.8 270.7 629.7 271.3 627.3C272 625 273.4 622.1 274.2 619C274.9 615.9 275.6 611.9 275.8 609C276.1 606.1 275.7 603.1 275.8 601.5C276 599.9 276 599.5 276.7 599.3Z" fill="#ffc03c"/>
<path d="M61.2 600C63.1 599.5 69 597.2 72.5 597C76 596.8 79.4 597.5 82.5 598.5C85.6 599.5 88.3 601.4 91.2 602.8C94.2 604.1 96.9 605.5 100 606.5C103.1 607.5 107.3 607.8 110 609C112.7 610.2 114.4 611.7 116.2 614C118.1 616.3 119.4 619.8 121.2 622.8C123.1 625.7 124.8 628.8 127.5 631.5C130.2 634.2 134.4 636.7 137.5 639C140.6 641.3 143.8 642.8 146.2 645.2C148.8 647.8 150.4 650.9 152.5 654C154.6 657.1 156.9 661.3 158.8 664C160.6 666.7 161.9 668.5 163.8 670.2C165.6 672 168.1 674 170 674.5C171.9 675 173.8 675.8 175 673.2C176.2 670.8 176.9 663.9 177.5 659.5C178.1 655.1 178.5 651.2 178.8 647C179 642.8 179.2 638.2 178.8 634C178.3 629.8 177.9 624.8 176.2 621.5C174.6 618.2 171.5 616.5 168.8 614C166 611.5 162.7 609.2 160 606.5C157.3 603.8 154.6 600.7 152.5 597.8C150.4 594.8 148.6 591.9 147.5 589C146.4 586.1 145.5 581.1 145.8 580.2C146 579.4 147 581.7 148.8 584C150.5 586.3 153.3 590.9 156.2 594C159.2 597.1 162.7 600 166.2 602.8C169.8 605.5 174.2 607.8 177.5 610.2C180.8 612.8 183.8 614.8 186.2 617.8C188.7 620.7 190.8 624.2 192 627.8C193.2 631.3 193.3 635.1 193.2 639C193.2 642.9 192.7 647.2 191.5 651C190.3 654.8 187.8 658.1 186 661.5C184.2 664.9 181.8 668.2 180.5 671.2C179.2 674.3 178.6 676.9 178.5 680C178.4 683.1 179.1 686.9 180 690C180.9 693.1 182.3 695.8 183.8 698.8C185.2 701.7 186.9 704.6 188.8 707.5C190.6 710.4 192.7 713.9 195 716.2C197.3 718.6 199.6 720.7 202.5 721.9C205.4 723.1 209.2 723.4 212.5 723.5C215.8 723.6 219.2 723.1 222.5 722.8C225.8 722.4 229.6 722.1 232.5 721.2C235.4 720.4 238.4 719.4 240 717.5C241.6 715.6 242 712.9 242.2 710C242.5 707.1 241.8 703.3 241.2 700C240.7 696.7 239.5 692.9 239 690C238.5 687.1 237.9 684.6 238.1 682.5C238.3 680.4 238.8 678.5 240 677.5C241.2 676.5 243.3 676.3 245 676.2C246.7 676.2 247.1 676.8 250 677.3C252.9 677.8 258.3 678.3 262.5 679C266.7 679.7 270.8 680.4 275 681.3C279.2 682.2 283.3 683.3 287.5 684.5C291.7 685.7 295.8 687.2 300 688.2C304.2 689.3 308.3 689.9 312.5 690.8C316.7 691.6 321 692.6 325 693.2C329 693.9 333.8 695.1 336.2 694.5C338.8 693.9 340 691.6 340 689.5C340 687.4 337.3 684.5 336.2 682C335.2 679.5 333.5 677 333.8 674.5C334 672 335.2 669.3 337.5 667C339.8 664.7 344.2 662.4 347.5 660.8C350.8 659.1 354.6 658.5 357.5 657C360.4 655.5 363.5 654.1 365 652C366.5 649.9 366.7 647.4 366.2 644.5C365.8 641.6 363.8 637.6 362.5 634.5C361.2 631.4 359.5 628.2 358.8 625.8C358 623.2 357.2 621.8 358 619.5C358.8 617.2 361.3 614.3 363.8 612C366.2 609.7 369.8 607.4 372.5 605.8C375.2 604.1 379.6 602.3 380 602C380.4 601.7 374 604.6 375 604C376 603.4 384.4 599.4 386.2 598.5L386 793L61 793Z" fill="#ffe878"/>
<path d="M61.2 675.8C63.5 675.1 71.5 673.7 75 672C78.5 670.3 80 668.5 82.5 665.8C85 663 87.5 659.3 90 655.8C92.5 652.2 94.8 647.6 97.5 644.5C100.2 641.4 103.5 638.7 106.2 637C109 635.3 111 634.1 113.8 634.5C116.5 634.9 119.8 637.4 122.5 639.5C125.2 641.6 127.3 644.3 130 647C132.7 649.7 135.8 652.8 138.8 655.8C141.7 658.7 144.8 661.6 147.5 664.5C150.2 667.4 152.7 670.5 155 673.2C157.3 676 159.2 678.7 161.2 680.8C163.3 682.8 165.4 683.9 167.5 685.8C169.6 687.6 171.9 689.3 173.8 692C175.6 694.7 176.9 698.7 178.8 702C180.6 705.3 182.7 708.7 185 712C187.3 715.3 189.6 719.3 192.5 722C195.4 724.7 198.8 727 202.5 728.2C206.2 729.5 210.8 729.5 215 729.5C219.2 729.5 223.3 728.9 227.5 728.2C231.7 727.6 236.2 726.4 240 725.8C243.8 725.1 247.6 726 250 724.5C252.4 723 254.1 719.9 254.5 717C254.9 714.1 253.2 709.9 252.5 707C251.8 704.1 250 701.8 250 699.5C250 697.2 250.8 694.8 252.5 693.2C254.2 691.7 256.7 690.3 260 690C263.3 689.7 268.3 690.8 272.5 691.5C276.7 692.2 280.4 693.4 285 694.5C289.6 695.6 295 697 300 698.2C305 699.5 310 701 315 702C320 703 325 703.9 330 704.5C335 705.1 340 705.5 345 705.8C350 706 355 706 360 705.8C365 705.5 370.6 705.2 375 704.5C379.4 703.8 384.4 702 386.2 701.5L386 793L61 793Z" fill="#78b9fa"/>
<path d="M61.2 686.2C65.5 686 80.3 684.7 86.8 684.5C93.2 684.3 95.3 684.7 100 685C104.7 685.3 110 686 115 686.5C120 687 125 687.5 130 688.2C135 689 140.4 689.9 145 690.8C149.6 691.6 154 692 157.5 693.2C161 694.5 163.5 696 166.2 698.2C169 700.5 171.5 703.9 173.8 707C176 710.1 177.9 713.7 180 717C182.1 720.3 184 724.3 186.2 727C188.5 729.7 191 731.6 193.8 733.2C196.5 734.9 199.4 736.4 202.5 737C205.6 737.6 208.8 737.4 212.5 737C216.2 736.6 220.8 735.1 225 734.5C229.2 733.9 233.5 733 237.5 733.2C241.5 733.5 245.4 735.8 248.8 735.8C252.1 735.7 254.8 734.4 257.5 732.8C260.2 731.1 263.1 728.6 265 725.8C266.9 722.9 267.7 718.9 268.8 715.8C269.8 712.6 269.8 709.1 271.2 707C272.7 704.9 275.4 703.9 277.5 703.2C279.6 702.6 281.2 703.1 283.8 703.2C286.2 703.4 289 703.4 292.5 704C296 704.6 300.4 706 305 707C309.6 708 315 709.2 320 710C325 710.8 330 711.5 335 712C340 712.5 345 712.9 350 713.2C355 713.6 359 713.9 365 714C371 714.1 382.7 714 386.2 714L386 793L61 793Z" fill="#3c96f5"/>
<path d="M61.2 702C63.5 701.8 70.6 700.8 75 700.8C79.4 700.8 83.3 701.6 87.5 702C91.7 702.4 95.4 702.8 100 703.2C104.6 703.8 110 704.5 115 705C120 705.5 125 706 130 706.5C135 707 140.4 707.5 145 708.2C149.6 709 153.8 709.7 157.5 710.8C161.2 711.8 164.6 712.8 167.5 714.5C170.4 716.2 172.9 718.2 175 720.8C177.1 723.2 178.1 726.6 180 729.5C181.9 732.4 183.8 735.8 186.2 738.2C188.8 740.8 191.9 743 195 744.5C198.1 746 201.2 746.8 205 747C208.8 747.2 213.3 746.4 217.5 745.8C221.7 745.1 225.8 743.7 230 743.2C234.2 742.8 239.2 743 242.5 743.2C245.8 743.5 246.7 745.2 250 745C253.3 744.8 258.8 743.8 262.5 742C266.2 740.2 269.6 737 272.5 734.5C275.4 732 277.5 729.1 280 727C282.5 724.9 284.6 723 287.5 722C290.4 721 294.2 720.3 297.5 720.8C300.8 721.2 303.8 723 307.5 724.5C311.2 726 315.8 727.8 320 729.5C324.2 731.2 328.5 733.2 332.5 734.5C336.5 735.8 340.8 737.4 343.8 737C346.7 736.6 348.1 733.9 350 732C351.9 730.1 352.5 727.2 355 725.8C357.5 724.3 361.7 723.7 365 723.2C368.3 722.8 371.5 723.5 375 723.2C378.5 723 384.4 721.8 386.2 721.5L386 793L61 793Z" fill="#1e6eeb"/>
<path d="M62.5 712C63.2 709 65.7 712.1 67 713.8C68.3 715.4 70.5 719.2 70.5 722C70.5 724.8 68.3 728.6 67 730.2C65.7 731.9 63.2 735 62.5 732C61.8 729 61.8 715 62.5 712Z" fill="#3c96f5"/>
<path d="M61.2 750.8C63.5 750.9 70.6 751.1 75 751.5C79.4 751.9 83.3 752.7 87.5 753.2C91.7 753.8 95.8 754.2 100 755C104.2 755.8 108.3 757.3 112.5 758.2C116.7 759.2 120.8 760.5 125 760.8C129.2 761 134.4 761.5 137.5 760C140.6 758.5 142.3 754.6 143.8 752C145.2 749.4 145.2 746.4 146.2 744.5C147.3 742.6 148.1 741.2 150 740.8C151.9 740.3 154.8 741 157.5 742C160.2 743 163.3 745.3 166.2 747C169.2 748.7 171.9 750.1 175 752C178.1 753.9 181.7 756.4 185 758.2C188.3 760.1 191.2 761.8 195 763.2C198.8 764.7 203.3 766.4 207.5 767C211.7 767.6 215.8 767.4 220 767C224.2 766.6 229.6 765.1 232.5 764.5C235.4 763.9 234.6 763.9 237.5 763.2C240.4 762.6 245.8 761.8 250 760.8C254.2 759.7 258.8 758.7 262.5 757C266.2 755.3 269.6 753 272.5 750.8C275.4 748.5 277.5 745.3 280 743.2C282.5 741.2 284.6 739.5 287.5 738.2C290.4 737 294.2 736 297.5 735.8C300.8 735.5 303.8 736.2 307.5 737C311.2 737.8 315.8 739.3 320 740.8C324.2 742.2 328.3 744.1 332.5 745.8C336.7 747.4 340.8 749.5 345 750.8C349.2 752 353.8 753.2 357.5 753.2C361.2 753.2 364.4 752 367.5 750.8C370.6 749.5 373.1 747.4 376.2 745.8C379.4 744.1 384.6 741.6 386.2 740.8L386 793L61 793Z" fill="#1464d2"/>
<path d="M61.2 770C63.2 769.9 69.5 769.2 73 769.5C76.5 769.8 78.8 770.5 82.5 771.5C86.2 772.5 90.8 774.2 95 775.8C99.2 777.3 103.3 779.1 107.5 780.8C111.7 782.4 116.2 784.4 120 785.8C123.8 787.1 126.7 788.3 130 789C133.3 789.7 135.8 789.9 140 790C144.2 790.1 150 790.1 155 789.5C160 788.9 165 787.7 170 786.5C175 785.3 180.4 783.8 185 782.5C189.6 781.2 193.3 779.8 197.5 779C201.7 778.2 205.8 777.8 210 777.8C214.2 777.8 218.8 778.5 222.5 779C226.2 779.5 229.6 780.4 232.5 780.8C235.4 781.1 237.1 781.1 240 781C242.9 780.9 246.7 780.7 250 780C253.3 779.3 256.7 778.5 260 777C263.3 775.5 267.1 773 270 770.8C272.9 768.5 275 765.8 277.5 763.2C280 760.8 282.1 758 285 755.8C287.9 753.5 291.7 751.4 295 750C298.3 748.6 301.7 748 305 747.5C308.3 747 311.7 746.8 315 747C318.3 747.2 321.7 748 325 749C328.3 750 331.7 751.3 335 752.8C338.3 754.2 341.7 756 345 757.5C348.3 759 351.7 761 355 762C358.3 763 361.7 763.2 365 763.2C368.3 763.2 371.5 762.7 375 762C378.5 761.3 384.4 759.5 386.2 759L386 793L61 793Z" fill="#1e50d2"/>
<path d="M256.2 792C258.5 791 266 787.6 270 785.8C274 783.9 276.7 782.6 280 780.8C283.3 778.9 286.7 776.6 290 774.5C293.3 772.4 296.7 770.1 300 768.2C303.3 766.4 306.7 764.6 310 763.2C313.3 761.9 316.7 760.4 320 760C323.3 759.6 326.7 760 330 760.8C333.3 761.5 336.7 763.1 340 764.5C343.3 765.9 346.7 767.5 350 769C353.3 770.5 356.7 772.1 360 773.2C363.3 774.4 366.8 775 370 775.8C373.2 776.5 378.7 776.1 379.5 777.5C380.3 778.9 377.8 781.6 375 784C372.2 786.4 364.6 790.7 362.5 792Z" fill="#4b37c8"/>
<path d="M140 510.7C141.1 509.3 144.2 506.1 146.7 505.7C149.2 505.2 152.5 506.9 155 508.2C157.5 509.4 160 511.2 161.7 513.2C163.3 515.1 163.7 518 165 519.8C166.3 521.6 167.9 524.3 169.7 524C171.5 523.7 173.7 519.4 175.8 518.2C178 516.9 180.3 516.4 182.5 516.5C184.7 516.6 187.2 517.6 189.2 519C191.1 520.4 192.8 522.9 194.2 524.8C195.6 526.8 196 528.9 197.5 530.7C199 532.5 201.2 534.4 203.3 535.7C205.4 536.9 207.8 537.2 210 538.2C212.2 539.1 214.4 540.2 216.7 541.5C218.9 542.8 221.1 544.6 223.3 545.7C225.6 546.7 227.8 547.7 230 547.7C232.2 547.7 234.7 546.6 236.7 545.7C238.6 544.8 240.1 542.3 241.7 542.3C243.2 542.3 245 544 245.8 545.7C246.7 547.3 246 550.1 246.7 552.3C247.4 554.6 248.3 556.8 250 559C251.7 561.2 254.4 563.9 256.7 565.7C258.9 567.5 261 568.4 263.3 569.8C265.7 571.2 269 572.5 270.8 574C272.6 575.5 273.7 577.1 274.2 579C274.6 580.9 274 583.4 273.3 585.7C272.6 587.9 271 589.8 270 592.3C269 594.8 268.1 598.2 267.5 600.7C266.9 603.2 266.8 604.8 266.7 607.3C266.5 609.8 266.9 612.9 266.7 615.7C266.4 618.4 265.8 621.4 265 624C264.2 626.6 262.8 629.3 261.7 631.5C260.6 633.7 258.9 635.5 258.3 637.3C257.8 639.1 257.6 641.2 258.3 642.3C259 643.4 260.8 643.4 262.5 644C264.2 644.6 266.9 644.7 268.3 645.7C269.8 646.6 271.1 648.3 271.3 649.8C271.6 651.4 271.1 653.4 270 654.8C268.9 656.2 266.9 657.6 265 658.2C263.1 658.7 260.3 658.7 258.3 658.2C256.4 657.6 254.6 656.1 253.3 654.8C252.1 653.6 251.9 651.8 250.8 650.7C249.7 649.6 248.5 648.3 246.7 648.2C244.9 648 241.8 649 240 649.8C238.2 650.7 237.2 651.8 235.8 653.2C234.4 654.6 233.2 656.5 231.7 658.2C230.1 659.8 228.3 661.5 226.7 663.2C225 664.8 223.2 666.4 221.7 668.2C220.1 670 218.5 671.9 217.5 674C216.5 676.1 216 678.4 215.8 680.7C215.7 682.9 216.1 685.1 216.7 687.3C217.2 689.6 219 692.1 219.2 694C219.3 695.9 218.8 697.5 217.5 699C216.2 700.5 213.9 702.2 211.7 703.2C209.4 704.1 206.8 705 204.2 704.8C201.5 704.7 198.3 703.9 195.8 702.3C193.3 700.8 191 698.2 189.2 695.7C187.4 693.2 185.8 690.4 185 687.3C184.2 684.3 183.8 680.5 184.2 677.3C184.6 674.1 186 671.2 187.5 668.2C189 665.1 191.5 662.5 193 659C194.5 655.5 195.6 651.2 196.3 647.3C197.1 643.4 197.7 639.4 197.5 635.7C197.3 631.9 196.7 628.3 195.3 624.8C193.9 621.4 191.7 617.9 189.2 614.8C186.6 611.8 182.6 608.6 180 606.5C177.4 604.4 176.1 604.3 173.3 602.3C170.6 600.4 166.1 597.6 163.3 594.8C160.6 592.1 158.6 588.6 156.7 585.7C154.7 582.8 152.9 580 151.7 577.3C150.4 574.7 149.6 572.3 149.2 569.8C148.8 567.3 148.6 565 149.2 562.3C149.7 559.7 151 556.8 152.5 554C154 551.2 156.2 548.4 158.3 545.7C160.4 542.9 163.3 539.5 165 537.3C166.7 535.2 168.4 534.3 168.7 532.7C168.9 531 167.7 529.4 166.7 527.3C165.6 525.3 164.2 521.5 162.5 520.3C160.8 519.2 158.8 520.5 156.7 520.3C154.6 520.2 152.1 520 150 519.3C147.9 518.7 145.8 517.4 144.2 516.5C142.5 515.6 140.7 515 140 514C139.3 513 138.9 512.1 140 510.7Z" fill="#ff6000"/>
<path d="M183.3 557.3C184.6 555.9 186.1 555 188.3 554.8C190.6 554.7 193.9 555.8 196.7 556.5C199.4 557.2 202.2 558.4 205 559C207.8 559.6 210.6 559.3 213.3 559.8C216.1 560.4 219.4 560.9 221.7 562.3C223.9 563.7 225 566.2 226.7 568.2C228.3 570.1 229.7 572.2 231.7 574C233.6 575.8 236.1 577.6 238.3 579C240.6 580.4 242.8 581.2 245 582.3C247.2 583.4 249.7 584.3 251.7 585.7C253.6 587.1 255.5 588.7 256.7 590.7C257.8 592.6 258.5 595.4 258.7 597.3C258.8 599.3 258.4 600.4 257.5 602.3C256.6 604.3 254.9 607.2 253.3 609C251.8 610.8 249.7 611.5 248.3 613.2C246.9 614.8 245 617.2 245 619C245 620.8 246.9 622.5 248.3 624C249.7 625.5 252.4 626.5 253.3 628.2C254.3 629.8 254.4 631.9 254.2 634C253.9 636.1 252.9 639 251.7 640.7C250.4 642.3 248.6 643 246.7 644C244.7 645 241.9 645.4 240 646.5C238.1 647.6 236.7 649 235 650.7C233.3 652.3 231.7 654.6 230 656.5C228.3 658.4 226.9 660.8 225 662.3C223.1 663.9 220.6 664.8 218.3 665.7C216.1 666.5 213.3 666.2 211.7 667.3C210 668.4 209.3 670.4 208.3 672.3C207.4 674.3 206.4 676.8 205.8 679C205.3 681.2 205.7 684 205 685.7C204.3 687.3 203.1 688.7 201.7 689C200.3 689.3 198.1 688.7 196.7 687.3C195.3 685.9 194.2 683.2 193.3 680.7C192.5 678.2 191.7 675.1 191.7 672.3C191.7 669.6 192.4 666.8 193.3 664C194.3 661.2 196.4 658.7 197.5 655.7C198.6 652.6 199.2 649 199.7 645.7C200.1 642.3 200.3 639.1 200 635.7C199.7 632.2 199.2 628.3 198 624.8C196.8 621.4 194.9 617.8 192.5 614.8C190.1 611.9 186.1 609.7 183.3 607.3C180.6 605 178.2 603 175.8 600.7C173.5 598.3 171.1 595.5 169.2 593.2C167.2 590.8 165.4 588.6 164.2 586.5C162.9 584.4 161.7 582.5 161.7 580.7C161.7 578.9 162.8 577.1 164.2 575.7C165.6 574.3 168.1 573.4 170 572.3C171.9 571.2 174 570.5 175.8 569C177.6 567.5 179.6 565.1 180.8 563.2C182.1 561.2 182.1 558.7 183.3 557.3Z" fill="#ff3200"/>
<path d="M181.7 599C182.2 597.8 184.2 596.9 185.8 596.5C187.5 596.1 189.6 596.1 191.7 596.5C193.8 596.9 196.1 598 198.3 599C200.6 600 202.8 601.6 205 602.3C207.2 603 209.4 603.4 211.7 603.2C213.9 602.9 216.4 601.8 218.3 600.7C220.3 599.6 221.7 597.5 223.3 596.5C225 595.5 226.4 594.8 228.3 594.8C230.3 594.8 233.1 595.7 235 596.5C236.9 597.3 238.6 598.6 240 599.8C241.4 601.1 242.9 603.4 243.3 604C243.7 604.6 242.8 602.2 242.5 603.2C242.2 604.1 242.4 607.8 241.7 609.8C241 611.9 239.2 613.6 238.3 615.7C237.5 617.8 236.3 620.5 236.7 622.3C237.1 624.1 239.2 625.2 240.8 626.5C242.5 627.8 245.1 628.7 246.7 629.8C248.2 630.9 250.3 632.2 250 633.2C249.7 634.1 246.9 634.8 245 635.7C243.1 636.5 240.6 637.1 238.3 638.2C236.1 639.3 233.6 640.9 231.7 642.3C229.7 643.7 228.2 644.8 226.7 646.5C225.1 648.2 224 650.7 222.5 652.3C221 654 219.6 656.1 217.5 656.5C215.4 656.9 212.4 655.5 210 654.8C207.6 654.1 204.9 653.9 203.3 652.3C201.8 650.8 201.1 648.3 200.8 645.7C200.6 643 201.8 639.7 201.7 636.5C201.5 633.3 201 629.7 200 626.5C199 623.3 197.6 620.2 195.8 617.3C194 614.4 190.7 610.2 189.2 609C187.6 607.8 187.8 610.7 186.7 609.8C185.6 609 183.3 605.8 182.5 604C181.7 602.2 181.1 600.2 181.7 599Z" fill="#e11400"/>
<path d="M210 616.5C211.5 615.9 214 616.4 215.8 617.3C217.6 618.3 219.4 620.4 220.8 622.3C222.2 624.3 223.6 626.8 224.2 629C224.7 631.2 224.7 633.6 224.2 635.7C223.6 637.8 222.4 640 220.8 641.5C219.3 643 217.1 644.3 215 644.8C212.9 645.4 210.2 645.5 208.3 644.8C206.4 644.1 204.6 642.5 203.7 640.7C202.7 638.9 202.4 636.4 202.5 634C202.6 631.6 203.5 628.7 204.2 626.5C204.9 624.3 205.7 622.3 206.7 620.7C207.6 619 208.5 617.1 210 616.5Z" fill="#cd4040"/>
<path d="M356.2 491.5C351 494 354.3 501.9 354.5 506.5C354.7 511.1 355.8 515.9 357.5 519C359.2 522.1 362.1 524.6 365 525.2C367.9 525.9 371.5 524.6 375 522.8C378.5 520.9 384.4 519.2 386.2 514C388.1 508.8 391.2 495.2 386.2 491.5C381.2 487.8 361.5 489 356.2 491.5Z" fill="#ff6000"/>
<path d="M363.8 491.5C360.2 493.2 363.5 499.2 365 501.5C366.5 503.8 370 505.2 372.5 505.2C375 505.2 377.7 502.5 380 501.5C382.3 500.5 385.2 500.7 386.2 499C387.3 497.3 390 492.8 386.2 491.5C382.5 490.2 367.3 489.8 363.8 491.5Z" fill="#ff3200"/>
<path d="M292.5 492C293.8 493.2 297.1 497.5 300 499C302.9 500.5 305.8 501 310 501C314.2 501 320.4 499.7 325 499C329.6 498.3 334.5 498.2 337.5 497C340.5 495.8 342.1 492.8 343 492Z" fill="#ffc03c"/>
<use href="#map" x="0" y="354.7"/>
<path d="M386.2 573.5C384.4 573 378.5 570.2 375 570.2C371.5 570.3 368.3 572.1 365 574C361.7 575.9 358.3 578.8 355 581.5C351.7 584.2 348.3 587.3 345 590.2C341.7 593.2 338.3 596.3 335 599C331.7 601.7 328.1 604 325 606.5C321.9 609 318.5 611.5 316.2 614C314 616.5 312.5 618.4 311.2 621.5C310 624.6 310.2 629.8 308.8 632.8C307.3 635.7 305 636.9 302.5 639C300 641.1 296 642.8 293.8 645.2C291.5 647.8 290.4 651.1 288.8 654C287.1 656.9 285.6 660 283.8 662.8C281.9 665.5 279.7 668.5 277.5 670.2C275.3 672 273 673.2 270.5 673.2C268 673.3 264.9 671.8 262.5 670.7C260.1 669.5 257.6 668.2 255.8 666.5C254 664.8 252.8 662.5 251.7 660.7C250.6 658.8 250.4 656.5 249.2 655.3C247.9 654.2 245.8 653.3 244.2 653.7C242.5 654 240.8 655.6 239.2 657.3C237.5 659.1 235.8 661.5 234.2 664C232.5 666.5 230.3 669.6 229.2 672.3C228.1 675.1 227.4 677.9 227.5 680.7C227.6 683.4 229 685.9 229.7 689C230.3 692.1 231.6 695.9 231.3 699C231.1 702.1 230.1 705 228.3 707.3C226.6 709.7 223.6 711.8 220.8 713.2C218.1 714.5 214.9 715.5 211.7 715.3C208.5 715.2 204.7 713.9 201.7 712.3C198.6 710.7 195.8 708.2 193.3 705.7C190.8 703.2 188.5 700.4 186.7 697.3C184.9 694.3 183.3 690.8 182.5 687.3C181.7 683.9 181.2 679.8 181.7 676.5C182.1 673.2 183.5 670.4 185 667.3C186.5 664.3 189.3 661.5 190.8 658.2C192.4 654.8 193.4 651.1 194.2 647.3C194.9 643.6 195.5 639.4 195.3 635.7C195.2 631.9 194.6 628 193.3 624.8C192 621.6 189.3 618.7 187.5 616.5C185.7 614.3 185.6 613.8 182.5 611.5C179.4 609.2 172.9 605.7 168.8 602.8C164.6 599.8 160.6 597.3 157.5 594C154.4 590.7 152 586.5 150 582.8C148 579 146.4 575 145.8 571.5C145.1 568 145.3 565.2 146.2 561.5C147.2 557.8 149 553 151.2 549C153.5 545 157.3 540.9 160 537.8C162.7 534.6 166.9 532.3 167.5 530.2C168.1 528.2 165.6 525.7 163.8 525.2C161.9 524.8 158.5 525.9 156.2 527.8C154 529.6 152.1 533.4 150 536.5C147.9 539.6 145.8 543.6 143.8 546.5C141.7 549.4 139.6 552 137.5 554C135.4 556 133.3 557.6 131.2 558.2C129.2 558.9 127.1 558.7 125 557.8C122.9 556.8 121 554.6 118.8 552.8C116.5 550.9 113.8 548 111.2 546.5C108.8 545 106.2 544.2 103.8 544C101.2 543.8 98.5 544.3 96.2 545.2C94 546.2 92.1 548.1 90 549.5C87.9 550.9 85.8 553.5 83.8 553.5C81.7 553.5 79.8 550.7 77.5 549.5C75.2 548.3 72.7 546.3 70 546.5C67.3 546.7 62.7 549.8 61.2 550.5" fill="none" stroke="#111" stroke-width="0.9"/>
<path d="M136.2 586C137.6 586 139.4 591.2 141.2 594C143.1 596.8 145.2 599.8 147.5 602.8C149.8 605.7 152.3 609 155 611.5C157.7 614 161 615.7 163.8 617.8C166.5 619.8 169.4 621.3 171.2 624C173.1 626.7 174.2 630.7 175 634C175.8 637.3 175.9 640.7 175.8 644C175.6 647.3 175.1 651.2 174.2 654C173.4 656.8 172.3 660.8 170.8 661C169.2 661.2 167 657.7 165 655.2C163 652.8 160.8 649.6 158.8 646.5C156.7 643.4 154.6 639.8 152.5 636.5C150.4 633.2 147.9 629.8 146.2 626.5C144.6 623.2 144.2 619.2 142.5 616.5C140.8 613.8 137.9 612.5 136.2 610.2C134.6 608 133 605.5 132.5 602.8C132 600 132.4 596.8 133 594C133.6 591.2 134.9 586 136.2 586Z" fill="none" stroke="#111" stroke-width="0.9"/>
<path d="M93.8 575.2C94.1 574.1 95.3 572.5 96.2 572.8C97.2 573 98.5 575.2 99.2 576.5C100 577.8 101 579.4 100.8 580.2C100.5 581.1 98.6 581.6 97.5 581.5C96.4 581.4 94.9 580.5 94.2 579.5C93.6 578.5 93.4 576.4 93.8 575.2Z" fill="none" stroke="#111" stroke-width="0.9"/>
<path d="M276.7 599.3C277.4 599.1 279.4 598.7 280 600.3C280.6 601.9 280.5 605.9 280.3 609C280.2 612.1 279.4 615.9 279.2 619C279 622.1 279.6 624.8 279.2 627.3C278.8 629.8 277.6 632.6 276.7 634C275.7 635.4 274.4 635.8 273.3 635.7C272.3 635.5 270.7 634.6 270.3 633.2C270 631.8 270.7 629.7 271.3 627.3C272 625 273.4 622.1 274.2 619C274.9 615.9 275.6 611.9 275.8 609C276.1 606.1 275.7 603.1 275.8 601.5C276 599.9 276 599.5 276.7 599.3Z" fill="none" stroke="#111" stroke-width="0.9"/>
<path d="M61.2 686.2C65.5 686 80.3 684.7 86.8 684.5C93.2 684.3 95.3 684.7 100 685C104.7 685.3 110 686 115 686.5C120 687 125 687.5 130 688.2C135 689 140.4 689.9 145 690.8C149.6 691.6 154 692 157.5 693.2C161 694.5 163.5 696 166.2 698.2C169 700.5 171.5 703.9 173.8 707C176 710.1 177.9 713.7 180 717C182.1 720.3 184 724.3 186.2 727C188.5 729.7 191 731.6 193.8 733.2C196.5 734.9 199.4 736.4 202.5 737C205.6 737.6 208.8 737.4 212.5 737C216.2 736.6 220.8 735.1 225 734.5C229.2 733.9 233.5 733 237.5 733.2C241.5 733.5 245.4 735.8 248.8 735.8C252.1 735.7 254.8 734.4 257.5 732.8C260.2 731.1 263.1 728.6 265 725.8C266.9 722.9 267.7 718.9 268.8 715.8C269.8 712.6 269.8 709.1 271.2 707C272.7 704.9 275.4 703.9 277.5 703.2C279.6 702.6 281.2 703.1 283.8 703.2C286.2 703.4 289 703.4 292.5 704C296 704.6 300.4 706 305 707C309.6 708 315 709.2 320 710C325 710.8 330 711.5 335 712C340 712.5 345 712.9 350 713.2C355 713.6 359 713.9 365 714C371 714.1 382.7 714 386.2 714" fill="none" stroke="#111" stroke-width="0.9"/>
<path d="M61.2 770C63.2 769.9 69.5 769.2 73 769.5C76.5 769.8 78.8 770.5 82.5 771.5C86.2 772.5 90.8 774.2 95 775.8C99.2 777.3 103.3 779.1 107.5 780.8C111.7 782.4 116.2 784.4 120 785.8C123.8 787.1 126.7 788.3 130 789C133.3 789.7 135.8 789.9 140 790C144.2 790.1 150 790.1 155 789.5C160 788.9 165 787.7 170 786.5C175 785.3 180.4 783.8 185 782.5C189.6 781.2 193.3 779.8 197.5 779C201.7 778.2 205.8 777.8 210 777.8C214.2 777.8 218.8 778.5 222.5 779C226.2 779.5 229.6 780.4 232.5 780.8C235.4 781.1 237.1 781.1 240 781C242.9 780.9 246.7 780.7 250 780C253.3 779.3 256.7 778.5 260 777C263.3 775.5 267.1 773 270 770.8C272.9 768.5 275 765.8 277.5 763.2C280 760.8 282.1 758 285 755.8C287.9 753.5 291.7 751.4 295 750C298.3 748.6 301.7 748 305 747.5C308.3 747 311.7 746.8 315 747C318.3 747.2 321.7 748 325 749C328.3 750 331.7 751.3 335 752.8C338.3 754.2 341.7 756 345 757.5C348.3 759 351.7 761 355 762C358.3 763 361.7 763.2 365 763.2C368.3 763.2 371.5 762.7 375 762C378.5 761.3 384.4 759.5 386.2 759" fill="none" stroke="#111" stroke-width="0.9"/>
<path d="M292.5 492C293.8 493.2 297.1 497.5 300 499C302.9 500.5 305.8 501 310 501C314.2 501 320.4 499.7 325 499C329.6 498.3 334.5 498.2 337.5 497C340.5 495.8 342.1 492.8 343 492" fill="none" stroke="#111" stroke-width="0.9"/>
<rect x="156.8" y="519.6" width="12.4" height="9.4" fill="#fff"/>
<text class="cl" x="163" y="528.1" text-anchor="middle">18</text>
<rect x="163.8" y="655.9" width="12.4" height="9.4" fill="#fff"/>
<text class="cl" x="170" y="664.4" text-anchor="middle">18</text>
<rect x="263.8" y="668.4" width="12.4" height="9.4" fill="#fff"/>
<text class="cl" x="270" y="676.9" text-anchor="middle">18</text>
<rect x="83.3" y="680.1" width="6.9" height="9.4" fill="#fff"/>
<text class="cl" x="86.8" y="688.6" text-anchor="middle">9</text>
<rect x="280.3" y="698.9" width="6.9" height="9.4" fill="#fff"/>
<text class="cl" x="283.8" y="707.4" text-anchor="middle">9</text>
<rect x="69.5" y="765.1" width="6.9" height="9.4" fill="#fff"/>
<text class="cl" x="73" y="773.6" text-anchor="middle">0</text>
<rect x="236.6" y="776.6" width="6.9" height="9.4" fill="#fff"/>
<text class="cl" x="240" y="785.1" text-anchor="middle">0</text>
</g>
<rect x="63.1" y="493.8" width="320.7" height="297.1" fill="none" stroke="#000" stroke-width="1.8"/>
<text class="tk" x="41.8" y="497.9" textLength="16.3" lengthAdjust="spacingAndGlyphs">15N</text>
<text class="tk" x="41.8" y="517.7" textLength="16.3" lengthAdjust="spacingAndGlyphs">10N</text>
<text class="tk" x="47" y="537.5" textLength="11.1" lengthAdjust="spacingAndGlyphs">5N</text>
<text class="tk" x="47.1" y="557.3" textLength="11" lengthAdjust="spacingAndGlyphs">EQ</text>
<text class="tk" x="47.4" y="577.1" textLength="10.8" lengthAdjust="spacingAndGlyphs">5S</text>
<text class="tk" x="42.1" y="596.9" textLength="16" lengthAdjust="spacingAndGlyphs">10S</text>
<text class="tk" x="42.1" y="616.7" textLength="16" lengthAdjust="spacingAndGlyphs">15S</text>
<text class="tk" x="42.1" y="636.5" textLength="16" lengthAdjust="spacingAndGlyphs">20S</text>
<text class="tk" x="42.1" y="656.4" textLength="16" lengthAdjust="spacingAndGlyphs">25S</text>
<text class="tk" x="42.1" y="676.2" textLength="16" lengthAdjust="spacingAndGlyphs">30S</text>
<text class="tk" x="42.1" y="696" textLength="16" lengthAdjust="spacingAndGlyphs">35S</text>
<text class="tk" x="42.1" y="715.8" textLength="16" lengthAdjust="spacingAndGlyphs">40S</text>
<text class="tk" x="42.1" y="735.6" textLength="16" lengthAdjust="spacingAndGlyphs">45S</text>
<text class="tk" x="42.1" y="755.4" textLength="16" lengthAdjust="spacingAndGlyphs">50S</text>
<text class="tk" x="42.1" y="775.2" textLength="16" lengthAdjust="spacingAndGlyphs">55S</text>
<text class="tk" x="42.1" y="795" textLength="16" lengthAdjust="spacingAndGlyphs">60S</text>
<text class="tk" x="57.5" y="802.4" textLength="21.8" lengthAdjust="spacingAndGlyphs">100W</text>
<text class="tk" x="94.9" y="802.4" textLength="16.5" lengthAdjust="spacingAndGlyphs">90W</text>
<text class="tk" x="130.6" y="802.4" textLength="16.5" lengthAdjust="spacingAndGlyphs">80W</text>
<text class="tk" x="166.2" y="802.4" textLength="16.5" lengthAdjust="spacingAndGlyphs">70W</text>
<text class="tk" x="201.8" y="802.4" textLength="16.5" lengthAdjust="spacingAndGlyphs">60W</text>
<text class="tk" x="237.5" y="802.4" textLength="16.5" lengthAdjust="spacingAndGlyphs">50W</text>
<text class="tk" x="273.1" y="802.4" textLength="16.5" lengthAdjust="spacingAndGlyphs">40W</text>
<text class="tk" x="308.7" y="802.4" textLength="16.5" lengthAdjust="spacingAndGlyphs">30W</text>
<text class="tk" x="344.4" y="802.4" textLength="16.5" lengthAdjust="spacingAndGlyphs">20W</text>
<path d="M63.1 493.8h-3.1M63.1 513.6h-3.1M63.1 533.4h-3.1M63.1 553.2h-3.1M63.1 573h-3.1M63.1 592.8h-3.1M63.1 612.6h-3.1M63.1 632.4h-3.1M63.1 652.3h-3.1M63.1 672.1h-3.1M63.1 691.9h-3.1M63.1 711.7h-3.1M63.1 731.5h-3.1M63.1 751.3h-3.1M63.1 771.1h-3.1M63.1 790.9h-3.1M67.6 790.9v3.2M103.2 790.9v3.2M138.8 790.9v3.2M174.5 790.9v3.2M210.1 790.9v3.2M245.7 790.9v3.2M281.4 790.9v3.2M317 790.9v3.2M352.6 790.9v3.2" stroke="#000" stroke-width="1.3" fill="none"/>
<text class="tt" x="107.37" y="484.3" font-size="19.5" textLength="69.48" lengthAdjust="spacing">cluster:</text>
<text class="tt" x="222.3" y="484.3" font-size="19.5" textLength="94.4" lengthAdjust="spacing">membros:</text>
<text class="tt" x="188.4" y="484.3" font-size="19.5">3</text>
<text class="tt" x="329.1" y="484.3" font-size="19.5">4</text>
<g clip-path="url(#cp4)">
<rect x="522.1" y="493.8" width="320.7" height="297.1" fill="#ffa000"/>
<path d="M845 579.5C843.3 578.6 837.8 575.6 835 574C832.2 572.4 829.7 569.5 828 569.8C826.3 570 825.7 572.9 825 575.2C824.3 577.6 825.4 581.5 823.8 584C822.1 586.5 818.5 588.6 815 590.2C811.5 591.9 806.7 592.9 802.5 594C798.3 595.1 793.5 595.8 790 597C786.5 598.2 783.8 599.5 781.2 601.5C778.8 603.5 776.5 606.5 775 609C773.5 611.5 772.2 614 772.5 616.5C772.8 619 776.4 621.6 777 624C777.6 626.4 778.7 629.3 776.2 631C773.8 632.7 766.5 632.5 762.5 634C758.5 635.5 755.4 638.4 752.5 640.2C749.6 642.1 746.9 643 745 645.2C743.1 647.5 741.8 652.5 741.2 654C740.7 655.5 742 652.6 741.5 654C741 655.4 739.4 659.8 738.2 662.3C736.9 664.8 735.5 666.8 734 669C732.5 671.2 730.4 673.4 729 675.7C727.6 677.9 726.3 680 725.7 682.3C725.1 684.7 725.8 687.8 725.3 689.8C724.9 691.9 724.5 693.8 723.2 694.8C721.8 695.9 719.7 696 717.3 696C715 696 712.3 695 709 694.8C705.7 694.6 701.2 694.6 697.3 694.8C693.4 695 689.6 695.6 685.7 696C681.8 696.4 677.6 696.9 674 697.3C670.4 697.8 667 698.1 664 698.7C661 699.2 658.5 700.5 656 700.7C653.5 700.9 651.1 700.9 649 699.8C646.9 698.7 644.7 696.4 643.2 694C641.6 691.6 640.4 688.7 639.8 685.7C639.3 682.6 639.1 678.7 639.8 675.7C640.5 672.6 642.3 670.2 644 667.3C645.7 664.4 648.3 661.5 649.8 658.2C651.4 654.8 652.5 651.1 653.2 647.3C653.9 643.6 654.3 639.3 654 635.7C653.7 632.1 652.9 628.7 651.5 625.7C650.1 622.6 647.5 619.9 645.7 617.3C643.8 614.8 643.2 612.7 640.2 610.2C637.3 607.8 631.7 605.7 627.8 602.8C623.8 599.8 619.8 596.5 616.5 592.8C613.2 589 610 584 607.8 580.2C605.5 576.5 603.2 573.4 602.8 570.2C602.3 567.1 604 564.8 605.2 561.5C606.5 558.2 608 554 610.2 550.2C612.5 546.5 616.3 542.3 619 539C621.7 535.7 625.9 532.5 626.5 530.2C627.1 528 624.8 526 622.8 525.8C620.7 525.5 616.5 527 614 529C611.5 531 609.8 534.6 607.8 537.8C605.7 540.9 603.6 544.8 601.5 547.8C599.4 550.7 597.3 553.2 595.2 555.2C593.2 557.3 590.9 559.8 589 560.2C587.1 560.7 586.1 559.2 584 557.8C581.9 556.3 579.4 553.4 576.5 551.5C573.6 549.6 570.2 548 566.5 546.5C562.8 545 558.2 543.8 554 542.8C549.8 541.7 545.2 540.8 541.5 540.2C537.8 539.7 535 539 531.5 539.5C528 540 522.1 542.8 520.2 543.5L520 793L845 793Z" fill="#ffc03c"/>
<path d="M525.2 567.8C526 565.9 528 562.1 531.5 560.2C535 558.4 541.5 556.7 546.5 556.5C551.5 556.3 557.3 558 561.5 559C565.7 560 569.2 561.1 571.5 562.8C573.8 564.4 574 567.2 575.2 569C576.5 570.8 577.5 573.1 579 573.5C580.5 573.9 582.3 572.2 584 571.5C585.7 570.8 587.5 568.4 589 569C590.5 569.6 591.5 572.8 592.8 575.2C594 577.8 595 580.9 596.5 584C598 587.1 599.4 590.7 601.5 594C603.6 597.3 606.1 600.7 609 604C611.9 607.3 615.9 611.1 619 614C622.1 616.9 625.5 618.6 627.8 621.5C630 624.4 631.6 627.8 632.8 631.5C633.9 635.2 634.8 639.8 634.8 644C634.8 648.2 633.6 653.1 632.8 656.5C631.9 659.9 631 662.5 629.8 664.5C628.5 666.5 626.6 668.8 625.2 668.5C623.9 668.2 622.5 665.6 621.5 662.8C620.5 659.9 620 655 619 651.5C618 648 617.1 644.8 615.2 641.5C613.4 638.2 609.7 635 607.8 631.5C605.8 628 604.6 624.2 603.5 620.2C602.4 616.3 602 611.3 601 607.8C600 604.2 599.8 601.7 597.8 599C595.8 596.3 591.9 593.4 589 591.5C586.1 589.6 583.1 588.8 580.2 587.8C577.4 586.8 574.9 586.1 572 585.5C569.1 584.9 565.8 584.9 562.8 584C559.8 583.1 557.1 581.6 554 580.2C550.9 578.9 547.3 577 544 576C540.7 575 536.8 574.8 534 574C531.2 573.2 528.5 572.5 527 571.5C525.5 570.5 524.5 569.6 525.2 567.8Z" fill="#ffa000"/>
<path d="M733.2 604C733.5 602.9 735.1 602.5 735.7 603.2C736.2 603.9 736.6 606.8 736.5 608.2C736.4 609.6 735.8 611.2 735.3 611.5C734.8 611.8 733.9 611.1 733.5 609.8C733.1 608.6 732.8 605.1 733.2 604Z" fill="#ffc03c"/>
<path d="M723.7 634.8C723.9 633.2 725.9 630.2 727.3 628.2C728.8 626.1 730.8 622.5 732.3 622.3C733.9 622.2 735.9 625.4 736.5 627.3C737.1 629.3 736.6 632.3 735.7 634C734.7 635.7 732.3 637.1 730.7 637.7C729 638.3 726.8 638.1 725.7 637.7C724.5 637.2 723.4 636.4 723.7 634.8Z" fill="#ffc03c"/>
<path d="M522 494L526 494L526 501L522 501Z" fill="#ff6000"/>
<path d="M557.8 504C558.2 502.8 560.5 502.1 561.5 502.8C562.5 503.4 563.4 506.3 563.5 507.8C563.6 509.2 562.8 511.1 562 511.5C561.2 511.9 559.2 511.5 558.5 510.2C557.8 509 557.2 505.2 557.8 504Z" fill="#ff6000"/>
<path d="M520.2 594C522.5 594 529.6 594 534 594C538.4 594 542.3 593.8 546.5 594C550.7 594.2 556 594.4 559 595.2C562 596.1 564.1 597.3 564.5 599C564.9 600.7 563.2 603.6 561.5 605.2C559.8 606.9 555.5 607.8 554 609C552.5 610.2 551.9 611.5 552.8 612.8C553.6 614 555.9 615.2 559 616.5C562.1 617.8 567.8 618.6 571.5 620.2C575.2 621.9 579 624.2 581.5 626.5C584 628.8 584.8 631.9 586.5 634C588.2 636.1 589.2 638 591.5 639C593.8 640 597.5 639.2 600.2 640.2C603 641.3 605.9 643 607.8 645.2C609.6 647.5 610 650.9 611.5 654C613 657.1 615 661.1 616.5 664C618 666.9 618.6 669.3 620.2 671.5C621.9 673.7 624.4 676.1 626.5 677C628.6 677.9 631.1 679.1 632.8 677C634.4 674.9 635.5 669.1 636.5 664.5C637.5 659.9 638.1 653.8 638.5 649.5C638.9 645.2 639.2 642.8 639 639C638.8 635.2 638.2 630 637 626.5C635.8 623 634.1 620.5 631.5 617.8C628.9 615 624.6 613 621.5 610.2C618.4 607.5 615.2 604.6 612.8 601.5C610.3 598.4 608.2 594.6 607 591.5C605.8 588.4 605.1 583.8 605.2 582.8C605.4 581.7 606.1 583.4 607.8 585.2C609.4 587.1 612.3 591.1 615.2 594C618.2 596.9 621.7 600 625.2 602.8C628.8 605.5 633.2 607.8 636.5 610.2C639.8 612.8 642.8 614.8 645.2 617.8C647.7 620.7 649.8 624.2 651 627.8C652.2 631.3 652.2 636.3 652.2 639C652.3 641.7 651.8 641.8 651.5 644C651.2 646.2 650.8 650.3 650.3 652.5C649.8 654.7 649.6 655.1 648.5 657C647.4 658.9 645.4 661.6 643.8 663.8C642.1 665.9 639.9 667.7 638.8 670C637.6 672.3 637.1 674.8 636.9 677.5C636.7 680.2 636.9 683.3 637.5 686.2C638.1 689.2 639.4 692.3 640.6 695C641.9 697.7 643.6 700.7 645 702.5C646.4 704.3 646.9 705.1 649 706C651.1 706.9 654 707.4 657.3 707.7C660.7 707.9 664.3 707.7 669 707.3C673.7 706.9 680.1 705.8 685.7 705.3C691.2 704.9 696.8 704.7 702.3 704.8C707.9 704.9 714 705.7 719 706C724 706.3 728.4 706.8 732.3 706.5C736.2 706.2 739.8 705.5 742.3 704C744.8 702.5 745.7 699.3 747.3 697.3C749 695.4 751.1 693.4 752.3 692.3C753.6 691.2 752.9 691.4 755 690.8C757.1 690.1 762.7 690.1 765 688.2C767.3 686.4 768.3 682.6 768.8 679.5C769.2 676.4 767.1 672.2 767.5 669.5C767.9 666.8 768.3 664.7 771.2 663.2C774.2 661.8 780.2 661.3 785 660.8C789.8 660.2 795.4 660.4 800 660C804.6 659.6 809.4 659.6 812.5 658.2C815.6 656.9 817.3 654.7 818.8 652C820.2 649.3 820.6 645.3 821.2 642C821.9 638.7 822.7 635.3 822.5 632C822.3 628.7 820.6 625.1 820 622C819.4 618.9 817.9 615.8 818.8 613.2C819.6 610.8 822.7 608.9 825 607C827.3 605.1 831.2 602.5 832.5 602C833.8 601.5 830.4 604.5 832.5 604C834.6 603.5 842.9 599.8 845 599L845 793L520 793Z" fill="#ffe878"/>
<path d="M520.2 682C522.5 681.9 529.6 681.8 534 681.5C538.4 681.2 542.5 680.5 546.5 680C550.5 679.5 555.5 679.2 557.8 678.2C560 677.3 560.7 677.2 560.2 674.5C559.8 671.8 556.2 666.2 555.2 662C554.3 657.8 554.1 653.7 554.5 649.5C554.9 645.3 556.6 640.1 557.8 637C558.9 633.9 559.8 632.1 561.5 630.8C563.2 629.4 565.7 628.4 567.8 629C569.8 629.6 571.7 632.1 574 634.5C576.3 636.9 579 640.3 581.5 643.2C584 646.2 586.3 649.1 589 652C591.7 654.9 594.8 657.8 597.8 660.8C600.7 663.7 603.8 666.8 606.5 669.5C609.2 672.2 611.7 674.5 614 677C616.3 679.5 618.2 682 620.2 684.5C622.3 687 624.2 689.9 626.5 692C628.8 694.1 631.9 695.3 634 697C636.1 698.7 637.1 699.9 639 702C640.9 704.1 642.8 707.2 645.2 709.5C647.8 711.8 650.9 714.5 654 715.8C657.1 717 660.7 717.2 664 717C667.3 716.8 670.7 715.5 674 714.5C677.3 713.5 680.1 711.4 684 710.8C687.9 710.1 693.2 710.3 697.5 710.8C701.8 711.2 705.8 712.4 710 713.2C714.2 714.1 718.3 715.3 722.5 715.8C726.7 716.2 730.8 716.4 735 715.8C739.2 715.1 743.3 713.5 747.5 712C751.7 710.5 755.8 708.5 760 707C764.2 705.5 768.3 704.2 772.5 703.2C776.7 702.3 780.4 701.9 785 701.5C789.6 701.1 795 700.9 800 700.8C805 700.6 810 700.8 815 700.8C820 700.8 825 700.8 830 700.8C835 700.7 842.5 700.3 845 700.2L845 793L520 793Z" fill="#78b9fa"/>
<path d="M520.2 690C522.5 690.1 529.6 690.5 534 690.8C538.4 691 542.3 691.3 546.5 691.5C550.7 691.7 554.8 691.7 559 692C563.2 692.3 567.8 692.5 571.5 693.2C575.2 694 578.2 695.1 581.5 696.5C584.8 697.9 588.2 700.1 591.5 701.5C594.8 702.9 598.1 704.2 601.5 705C604.9 705.8 608.7 706.2 612 706.2C615.3 706.2 618.7 704.9 621.5 705C624.3 705.1 626.5 705.8 629 707C631.5 708.2 634 710.2 636.5 712C639 713.8 641.5 715.8 644 717.5C646.5 719.2 648.6 720.4 651.5 722C654.4 723.6 658.2 725.8 661.5 727C664.8 728.2 668.6 729.7 671.5 729.5C674.4 729.3 676.9 727.4 679 725.8C681.1 724.1 681.9 721.2 684 719.5C686.1 717.8 688.4 716.4 691.5 715.8C694.6 715.1 698.6 715.3 702.5 715.8C706.4 716.2 710.8 717.3 715 718.2C719.2 719.2 723.3 720.7 727.5 721.5C731.7 722.3 736.5 723 740 723.2C743.5 723.5 745.4 722.8 748.8 722.8C752.1 722.8 756.2 723.4 760 723.2C763.8 723.1 768.3 723 771.2 722C774.2 721 775.6 718.7 777.5 717C779.4 715.3 780 713.2 782.5 712C785 710.8 788.8 710.1 792.5 709.5C796.2 708.9 800.4 708.5 805 708.2C809.6 708 813.3 707.8 820 707.8C826.7 707.8 840.8 708.2 845 708.2L845 793L520 793Z" fill="#3c96f5"/>
<path d="M520.2 700C522.5 700 529.6 699.9 534 700C538.4 700.1 542.3 700.4 546.5 700.8C550.7 701.1 554.4 701.5 559 702C563.6 702.5 569.4 703.2 574 704C578.6 704.8 582.3 705.7 586.5 707C590.7 708.3 595.2 710.8 599 712C602.8 713.2 605.7 714 609 714.5C612.3 715 615.7 714.6 619 715C622.3 715.4 626.1 715.8 629 717C631.9 718.2 634 720.1 636.5 722C639 723.9 641.1 726 644 728.2C646.9 730.5 650.7 733.5 654 735.8C657.3 738 660.2 740.3 664 742C667.8 743.7 672.8 745.5 676.5 745.8C680.2 746 683.8 745.1 686.5 743.2C689.2 741.4 691.3 737.2 692.8 734.5C694.2 731.8 693.2 728.7 695.2 727C697.3 725.3 701.7 724.7 705 724.5C708.3 724.3 711.2 724.9 715 725.8C718.8 726.6 723.3 728.5 727.5 729.5C731.7 730.5 735.8 731.4 740 732C744.2 732.6 748.3 732.8 752.5 733.2C756.7 733.7 760.8 733.9 765 734.5C769.2 735.1 773.3 736 777.5 737C781.7 738 786.2 740.1 790 740.8C793.8 741.4 797.4 741.8 800 740.8C802.6 739.7 805 737.2 805.5 734.5C806 731.8 802.7 727.3 803 724.5C803.3 721.7 804.7 719.1 807.5 717.5C810.3 715.9 813.8 715.5 820 715C826.2 714.5 840.8 714.6 845 714.5L845 793L520 793Z" fill="#1e6eeb"/>
<path d="M520.2 745.8C523 746.4 531.3 748.2 536.5 749.5C541.7 750.8 546.9 752.2 551.5 753.2C556.1 754.3 560.7 754.7 564 755.8C567.3 756.8 569.6 757.8 571.5 759.5C573.4 761.2 573.2 764.1 575.2 765.8C577.3 767.4 580.9 769.1 584 769.5C587.1 769.9 591.1 769.5 594 768.2C596.9 767 599.2 764.3 601.5 762C603.8 759.7 605.7 756.2 607.8 754.5C609.8 752.8 611.7 752 614 752C616.3 752 619 753 621.5 754.5C624 756 626.5 758.9 629 760.8C631.5 762.6 633.6 765.1 636.5 765.8C639.4 766.4 643.2 765.1 646.5 764.5C649.8 763.9 652.8 762.4 656.5 762C660.2 761.6 664.8 761.7 669 762C673.2 762.3 678.8 763.7 681.5 764C684.2 764.3 682.3 764.2 685 764C687.7 763.8 693.3 763.3 697.5 762.5C701.7 761.7 705.8 761 710 759.2C714.2 757.5 718.3 753.8 722.5 751.8C726.7 749.7 730.8 748 735 746.8C739.2 745.5 743.3 744.7 747.5 744.2C751.7 743.8 755.8 743.6 760 744.2C764.2 744.9 768.3 746.8 772.5 748C776.7 749.2 780.8 750.7 785 751.8C789.2 752.8 793.3 754.2 797.5 754.2C801.7 754.2 805.8 753.2 810 751.8C814.2 750.3 818.8 747.8 822.5 745.5C826.2 743.2 828.8 740.8 832.5 738C836.2 735.2 842.9 730.1 845 728.5L845 793L520 793Z" fill="#1464d2"/>
<path d="M520.2 773.5C522.5 774.3 529.6 776.6 534 778.2C538.4 779.9 542.3 781.4 546.5 783.2C550.7 785.1 556.3 788 559 789.5C561.7 791 562.1 792 562.8 792.5L520 793Z" fill="#1e50d2"/>
<path d="M604 792.5C604.6 792.1 605.7 791.4 607.8 790.2C609.8 789.1 613.4 787.3 616.5 785.8C619.6 784.2 623.2 782.2 626.5 780.8C629.8 779.3 632.8 778 636.5 777C640.2 776 644.8 775.1 649 774.5C653.2 773.9 657.3 773.3 661.5 773.2C665.7 773.2 669.8 773.8 674 774C678.2 774.2 682.6 774.4 686.5 774.5C690.4 774.6 693.6 774.7 697.5 774.5C701.4 774.3 705.8 774.1 710 773.2C714.2 772.4 718.3 771.2 722.5 769.5C726.7 767.8 731.2 765.1 735 763.2C738.8 761.4 741 759.5 745 758.2C749 757 755 755.8 758.8 755.8C762.5 755.8 764.8 757 767.5 758.2C770.2 759.5 772.7 761.6 775 763.2C777.3 764.9 778.8 767.3 781.2 768.2C783.8 769.2 786.5 769.2 790 769C793.5 768.8 798.3 767.8 802.5 767C806.7 766.2 811.2 765.2 815 764C818.8 762.8 821.7 761.5 825 759.5C828.3 757.5 831.7 754.6 835 752C838.3 749.4 843.3 745.3 845 744L845 793Z" fill="#1e50d2"/>
<path d="M662.5 792C666.2 791.1 677.9 788.3 685 786.8C692.1 785.2 698.3 784 705 782.5C711.7 781 719.2 779 725 777.5C730.8 776 736 774.6 740 773.8C744 772.9 746.5 772.2 748.8 772.5C751 772.8 752.5 773.8 753.8 775.5C755 777.2 755.6 780.2 756.2 783C756.9 785.8 757.3 790.5 757.5 792Z" fill="#4b37c8"/>
<path d="M770 792C771.2 790.5 774.6 785.3 777.5 783C780.4 780.7 784.2 779.2 787.5 778C790.8 776.8 794.2 775.9 797.5 775.5C800.8 775.1 805.1 774.8 807.5 775.5C809.9 776.2 811 778.2 812 780C813 781.8 812 785.5 813.5 786.5C815 787.5 818.3 786.9 821.2 786.2C824.2 785.6 827.3 783.6 831.2 782.5C835.2 781.4 842.7 780 845 779.5L845 793Z" fill="#4b37c8"/>
<path d="M608.2 512.3C608.6 510.5 610.7 508.4 612.3 507.3C614 506.3 616.2 505.4 618.2 506C620.1 506.6 622.8 508.9 624 510.7C625.2 512.4 626.1 515 625.7 516.5C625.2 518 623.3 519.1 621.5 519.8C619.7 520.5 616.8 520.9 614.8 520.7C612.9 520.4 610.9 519.6 609.8 518.2C608.7 516.8 607.8 514.1 608.2 512.3Z" fill="#ff6000"/>
<path d="M628.2 532.3C629.1 530.1 628.9 526.9 629.8 524.8C630.8 522.8 632.2 520.8 634 519.8C635.8 518.9 638.4 518.6 640.7 519C642.9 519.4 645.5 520.8 647.3 522.3C649.1 523.9 650.2 526.2 651.5 528.2C652.8 530.1 653.3 532.5 654.8 534C656.4 535.5 658.6 536.6 660.7 537.3C662.8 538 665.4 538.2 667.3 538.2C669.3 538.2 670.7 537.1 672.3 537.3C674 537.6 675.7 538.6 677.3 539.8C679 541.1 681.1 544.6 682.3 544.8C683.6 545.1 684.6 543.3 684.8 541.5C685.1 539.7 683.7 536.2 684 534C684.3 531.8 685.1 529.6 686.5 528.2C687.9 526.8 690.4 525.7 692.3 525.7C694.3 525.7 696.8 526.8 698.2 528.2C699.6 529.6 700.7 531.9 700.7 534C700.7 536.1 699.4 538.9 698.2 540.7C696.9 542.5 693.9 543.2 693.2 544.8C692.5 546.5 693 549.1 694 550.7C695 552.2 697.1 554 699 554C700.9 554 703.4 551.7 705.7 550.7C707.9 549.6 710.2 547.5 712.3 547.7C714.4 547.8 716.5 549.6 718.2 551.5C719.8 553.4 721.1 556.4 722.3 559C723.6 561.6 724.4 564.8 725.7 567.3C726.9 569.8 728.4 571.9 729.8 574C731.2 576.1 733.2 577.9 734 579.8C734.8 581.8 735.4 583.9 734.8 585.7C734.3 587.5 732.1 588.9 730.7 590.7C729.3 592.5 727.6 594.3 726.5 596.5C725.4 598.7 724.4 603 724 604C723.6 605 724.3 601.2 724 602.3C723.7 603.4 722.8 607.9 722.3 610.7C721.9 613.4 722.1 616.5 721.5 619C720.9 621.5 719.8 623.4 719 625.7C718.2 627.9 717.1 630.1 716.5 632.3C715.9 634.6 715.2 637.1 715.7 639C716.1 640.9 717.3 642.9 719 644C720.7 645.1 723.9 644.3 725.7 645.7C727.5 647.1 729.6 650.1 729.8 652.3C730.1 654.6 728.9 656.5 727.3 659C725.8 661.5 722.9 664.6 720.7 667.3C718.4 670.1 716.2 673.2 714 675.7C711.8 678.2 709.8 680.7 707.3 682.3C704.8 684 702.1 684.7 699 685.7C695.9 686.6 692.6 687.3 689 688.2C685.4 689 681.2 690 677.3 690.7C673.4 691.4 669.8 691.9 665.7 692.3C661.5 692.8 655.7 693.4 652.3 693.2C649 692.9 647.3 692.1 645.7 690.7C644 689.3 642.9 687.3 642.3 684.8C641.8 682.3 641.6 678.6 642.3 675.7C643 672.8 644.9 670.2 646.5 667.3C648.1 664.4 650.6 661.5 652 658.2C653.4 654.8 654.5 651.1 655.2 647.3C655.8 643.6 656.2 639.3 656 635.7C655.8 632.1 655.3 629 654 625.7C652.7 622.3 650.7 618.7 648.2 615.7C645.7 612.6 641.8 609.6 639 607.3C636.2 605.1 634.4 604.6 631.5 602.3C628.6 600.1 624.3 596.8 621.5 594C618.7 591.2 616.8 588.4 614.8 585.7C612.9 582.9 611 580 609.8 577.3C608.6 574.7 607.9 572.3 607.7 569.8C607.4 567.3 607.5 564.8 608.2 562.3C608.8 559.8 610 557.5 611.5 554.8C613 552.2 615.2 549.3 617.3 546.5C619.4 543.7 622.2 540.5 624 538.2C625.8 535.8 627.2 534.6 628.2 532.3Z" fill="#ff6000"/>
<path d="M647.3 559C649 557.5 650.4 555.9 652.3 554.8C654.3 553.7 656.8 552.8 659 552.3C661.2 551.9 663.4 551.9 665.7 552.3C667.9 552.8 670.4 553.6 672.3 554.8C674.3 556.1 675.9 558 677.3 559.8C678.7 561.6 679.3 563.9 680.7 565.7C682.1 567.5 683.7 569 685.7 570.7C687.6 572.3 690.1 574.4 692.3 575.7C694.6 576.9 696.8 577.3 699 578.2C701.2 579 703.4 579.6 705.7 580.7C707.9 581.8 710.5 583.2 712.3 584.8C714.1 586.5 715.5 588.6 716.5 590.7C717.5 592.8 718 595.4 718.2 597.3C718.3 599.3 718.3 600.5 717.3 602.3C716.3 604.1 714 606.2 712.3 608.2C710.6 610.2 708.4 611.9 707.3 614C706.2 616.1 705.6 618.5 705.7 620.7C705.8 622.9 707.3 625.2 708 627.3C708.7 629.4 709.8 631.1 710 633.2C710.2 635.3 709.8 638.2 709 640C708.2 641.8 706.5 642.5 705 643.8C703.5 645 701.7 646 700 647.5C698.3 649 696.2 650.4 695 652.5C693.8 654.6 692.6 657.6 692.5 660C692.4 662.4 694 665 694.4 667C694.8 669 695.5 670.2 695 672C694.5 673.8 692.9 676 691.2 677.5C689.6 679 687.3 680.2 685 681.2C682.7 682.3 680 683 677.5 683.8C675 684.5 672.5 685.4 670 685.6C667.5 685.8 665 685.3 662.5 685C660 684.7 657.3 684.4 655 683.8C652.7 683.1 650.3 682.5 648.8 681.2C647.2 680 645.9 678.3 645.6 676.2C645.3 674.2 646 671.5 646.9 668.8C647.8 666 649.9 663.1 651.2 660C652.6 656.9 654.1 653.3 655 650C655.9 646.7 656.4 642.4 656.9 640C657.4 637.6 658.2 638.1 658.2 635.7C658.1 633.3 657.8 629.1 656.5 625.7C655.2 622.2 653 618 650.7 614.8C648.3 611.6 645.2 609.1 642.3 606.5C639.4 603.9 635.9 601.6 633.2 599C630.4 596.4 627.9 593.3 625.7 590.7C623.4 588 621.4 585.4 619.8 583.2C618.3 580.9 616.9 579.1 616.5 577.3C616.1 575.5 616.1 572.9 617.3 572.3C618.6 571.8 621.5 573.7 624 574C626.5 574.3 629.8 574.7 632.3 574C634.8 573.3 637.3 571.5 639 569.8C640.7 568.2 640.9 565.8 642.3 564C643.7 562.2 645.7 560.5 647.3 559Z" fill="#ff3200"/>
<path d="M692.5 655C693.3 653.2 695.1 651.4 697 650.5C698.9 649.6 701.9 649.1 704 649.5C706.1 649.9 708.5 650.9 709.5 653C710.5 655.1 710.6 659.3 710 662C709.4 664.7 707.8 667.6 706 669C704.2 670.4 701 670.8 699 670.5C697 670.2 695.2 668.6 694 667C692.8 665.4 692.2 663 692 661C691.8 659 691.7 656.8 692.5 655Z" fill="#ff6000"/>
<path d="M699.4 659C699.8 657.8 701.4 656.6 702.5 656.5C703.6 656.4 705.4 657.4 706 658.5C706.6 659.6 706.8 661.8 706.3 663C705.8 664.2 704 665.3 703 665.5C702 665.7 700.6 665.1 700 664C699.4 662.9 699 660.2 699.4 659Z" fill="#ffa000"/>
<path d="M644 592.3C645 590.7 647.1 588.7 649 587.3C650.9 585.9 653.2 584.7 655.7 584C658.2 583.3 661.2 583.3 664 583.2C666.8 583 669.6 583.6 672.3 583.2C675.1 582.8 678.2 580.8 680.7 580.7C683.2 580.5 685.2 581.2 687.3 582.3C689.4 583.4 691.5 585.4 693.2 587.3C694.8 589.3 696.2 591.5 697.3 594C698.4 596.5 699.3 600.7 699.8 602.3C700.4 604 700.8 602.6 700.7 604C700.5 605.4 699.8 608.4 699 610.7C698.2 612.9 696.1 615.1 695.7 617.3C695.2 619.6 695.7 622.2 696.5 624C697.3 625.8 699.1 627.1 700.7 628.2C702.2 629.3 704.1 629.6 705.7 630.7C707.2 631.8 709.3 633.2 709.8 634.8C710.4 636.5 710 639.1 709 640.7C708 642.2 705.9 642.9 704 644C702.1 645.1 699.3 646.2 697.3 647.3C695.4 648.4 693.7 649.3 692.3 650.7C690.9 652.1 690.7 654.4 689 655.7C687.3 656.9 684.1 657.1 682.3 658.2C680.5 659.3 679.1 660.5 678.2 662.3C677.2 664.1 677.5 667.2 676.5 669C675.5 670.8 674.1 672.6 672.3 673.2C670.5 673.7 667.6 673.3 665.7 672.3C663.7 671.4 661.9 669.6 660.7 667.3C659.4 665.1 658.4 662.1 658.2 659C657.9 655.9 658.6 652.3 659 649C659.4 645.7 660.4 642.3 660.7 639C660.9 635.7 661.1 632.3 660.7 629C660.2 625.7 659.6 622.2 658.2 619C656.8 615.8 654.3 612.3 652.3 609.8C650.4 607.3 648 606.1 646.5 604C645 601.9 643.6 599.3 643.2 597.3C642.8 595.4 643 594 644 592.3Z" fill="#e11400"/>
<path d="M711 653C710.9 651.6 714 649.1 715.5 649C717 648.9 719.9 651.1 720 652.5C720.1 653.9 717.5 657.4 716 657.5C714.5 657.6 711.1 654.4 711 653Z" fill="#ff3200"/>
<path d="M670.7 602.3C671.9 600.7 673.9 599.8 675.7 599C677.5 598.2 680 596.8 681.5 597.3C683 597.9 684.3 601.2 684.8 602.3C685.4 603.4 685 602.3 684.8 604C684.7 605.7 684.6 609.6 684 612.3C683.4 615.1 682.2 617.9 681.5 620.7C680.8 623.4 679.8 626.2 679.8 629C679.8 631.8 681.4 634.8 681.5 637.3C681.6 639.8 681.6 642.1 680.7 644C679.7 645.9 677.6 647.6 675.7 649C673.7 650.4 671.1 651.9 669 652.3C666.9 652.8 664.6 652.6 663.2 651.5C661.7 650.4 660.9 648 660.3 645.7C659.8 643.3 659.5 639.8 659.8 637.3C660.2 634.8 661.2 632.9 662.3 630.7C663.4 628.4 665.4 626.5 666.5 624C667.6 621.5 668.7 618.2 669 615.7C669.3 613.2 667.9 611.2 668.2 609C668.4 606.8 669.4 604 670.7 602.3Z" fill="#cd4040"/>
<path d="M735 519C735.5 517.6 737.1 515.8 738.8 515.2C740.4 514.8 743.8 515.2 745 516C746.2 516.8 746.9 518.9 746.2 520.2C745.6 521.6 743 523.5 741.2 524C739.5 524.5 736.8 524.3 735.8 523.5C734.7 522.7 734.5 520.4 735 519Z" fill="#ff6000"/>
<path d="M810 491.5C803.8 493.4 807.3 499.6 807.5 502.8C807.7 505.9 809.2 508 811.2 510.2C813.3 512.5 816.9 514.8 820 516.5C823.1 518.2 827.1 520 830 520.2C832.9 520.5 835 518.9 837.5 517.8C840 516.6 843.8 517.9 845 513.5C846.2 509.1 850.8 495.2 845 491.5C839.2 487.8 816.2 489.6 810 491.5Z" fill="#ff6000"/>
<path d="M825 491.5C821.5 493 823.1 497.8 823.8 500.2C824.4 502.8 826.7 504.8 828.8 506.5C830.8 508.2 833.5 510 836.2 510.2C839 510.5 843.5 510.9 845 507.8C846.5 504.6 848.3 494.2 845 491.5C841.7 488.8 828.5 490 825 491.5Z" fill="#ff3200"/>
<path d="M734.8 519.8C734.9 518.4 736.4 516.4 737.3 515.7C738.3 514.9 740.1 513.8 740.7 515.3C741.2 516.9 741.3 523.3 740.7 524.8C740.1 526.3 738 525.2 737 524.3C736 523.5 734.8 521.3 734.8 519.8Z" fill="#ff6000"/>
<path d="M765 492C766 493 768.5 496.5 771.2 497.8C774 499 777.9 499.5 781.2 499.5C784.6 499.5 788 499 791.2 497.8C794.5 496.5 799 493 800.5 492Z" fill="#ffc03c"/>
<use href="#map" x="459" y="354.7"/>
<path d="M845 579.5C843.3 578.6 837.8 575.6 835 574C832.2 572.4 829.7 569.5 828 569.8C826.3 570 825.7 572.9 825 575.2C824.3 577.6 825.4 581.5 823.8 584C822.1 586.5 818.5 588.6 815 590.2C811.5 591.9 806.7 592.9 802.5 594C798.3 595.1 793.5 595.8 790 597C786.5 598.2 783.8 599.5 781.2 601.5C778.8 603.5 776.5 606.5 775 609C773.5 611.5 772.2 614 772.5 616.5C772.8 619 776.4 621.6 777 624C777.6 626.4 778.7 629.3 776.2 631C773.8 632.7 766.5 632.5 762.5 634C758.5 635.5 755.4 638.4 752.5 640.2C749.6 642.1 746.9 643 745 645.2C743.1 647.5 741.8 652.5 741.2 654C740.7 655.5 742 652.6 741.5 654C741 655.4 739.4 659.8 738.2 662.3C736.9 664.8 735.5 666.8 734 669C732.5 671.2 730.4 673.4 729 675.7C727.6 677.9 726.3 680 725.7 682.3C725.1 684.7 725.8 687.8 725.3 689.8C724.9 691.9 724.5 693.8 723.2 694.8C721.8 695.9 719.7 696 717.3 696C715 696 712.3 695 709 694.8C705.7 694.6 701.2 694.6 697.3 694.8C693.4 695 689.6 695.6 685.7 696C681.8 696.4 677.6 696.9 674 697.3C670.4 697.8 667 698.1 664 698.7C661 699.2 658.5 700.5 656 700.7C653.5 700.9 651.1 700.9 649 699.8C646.9 698.7 644.7 696.4 643.2 694C641.6 691.6 640.4 688.7 639.8 685.7C639.3 682.6 639.1 678.7 639.8 675.7C640.5 672.6 642.3 670.2 644 667.3C645.7 664.4 648.3 661.5 649.8 658.2C651.4 654.8 652.5 651.1 653.2 647.3C653.9 643.6 654.3 639.3 654 635.7C653.7 632.1 652.9 628.7 651.5 625.7C650.1 622.6 647.5 619.9 645.7 617.3C643.8 614.8 643.2 612.7 640.2 610.2C637.3 607.8 631.7 605.7 627.8 602.8C623.8 599.8 619.8 596.5 616.5 592.8C613.2 589 610 584 607.8 580.2C605.5 576.5 603.2 573.4 602.8 570.2C602.3 567.1 604 564.8 605.2 561.5C606.5 558.2 608 554 610.2 550.2C612.5 546.5 616.3 542.3 619 539C621.7 535.7 625.9 532.5 626.5 530.2C627.1 528 624.8 526 622.8 525.8C620.7 525.5 616.5 527 614 529C611.5 531 609.8 534.6 607.8 537.8C605.7 540.9 603.6 544.8 601.5 547.8C599.4 550.7 597.3 553.2 595.2 555.2C593.2 557.3 590.9 559.8 589 560.2C587.1 560.7 586.1 559.2 584 557.8C581.9 556.3 579.4 553.4 576.5 551.5C573.6 549.6 570.2 548 566.5 546.5C562.8 545 558.2 543.8 554 542.8C549.8 541.7 545.2 540.8 541.5 540.2C537.8 539.7 535 539 531.5 539.5C528 540 522.1 542.8 520.2 543.5" fill="none" stroke="#111" stroke-width="0.9"/>
<path d="M525.2 567.8C526 565.9 528 562.1 531.5 560.2C535 558.4 541.5 556.7 546.5 556.5C551.5 556.3 557.3 558 561.5 559C565.7 560 569.2 561.1 571.5 562.8C573.8 564.4 574 567.2 575.2 569C576.5 570.8 577.5 573.1 579 573.5C580.5 573.9 582.3 572.2 584 571.5C585.7 570.8 587.5 568.4 589 569C590.5 569.6 591.5 572.8 592.8 575.2C594 577.8 595 580.9 596.5 584C598 587.1 599.4 590.7 601.5 594C603.6 597.3 606.1 600.7 609 604C611.9 607.3 615.9 611.1 619 614C622.1 616.9 625.5 618.6 627.8 621.5C630 624.4 631.6 627.8 632.8 631.5C633.9 635.2 634.8 639.8 634.8 644C634.8 648.2 633.6 653.1 632.8 656.5C631.9 659.9 631 662.5 629.8 664.5C628.5 666.5 626.6 668.8 625.2 668.5C623.9 668.2 622.5 665.6 621.5 662.8C620.5 659.9 620 655 619 651.5C618 648 617.1 644.8 615.2 641.5C613.4 638.2 609.7 635 607.8 631.5C605.8 628 604.6 624.2 603.5 620.2C602.4 616.3 602 611.3 601 607.8C600 604.2 599.8 601.7 597.8 599C595.8 596.3 591.9 593.4 589 591.5C586.1 589.6 583.1 588.8 580.2 587.8C577.4 586.8 574.9 586.1 572 585.5C569.1 584.9 565.8 584.9 562.8 584C559.8 583.1 557.1 581.6 554 580.2C550.9 578.9 547.3 577 544 576C540.7 575 536.8 574.8 534 574C531.2 573.2 528.5 572.5 527 571.5C525.5 570.5 524.5 569.6 525.2 567.8Z" fill="none" stroke="#111" stroke-width="0.9"/>
<path d="M733.2 604C733.5 602.9 735.1 602.5 735.7 603.2C736.2 603.9 736.6 606.8 736.5 608.2C736.4 609.6 735.8 611.2 735.3 611.5C734.8 611.8 733.9 611.1 733.5 609.8C733.1 608.6 732.8 605.1 733.2 604Z" fill="none" stroke="#111" stroke-width="0.9"/>
<path d="M723.7 634.8C723.9 633.2 725.9 630.2 727.3 628.2C728.8 626.1 730.8 622.5 732.3 622.3C733.9 622.2 735.9 625.4 736.5 627.3C737.1 629.3 736.6 632.3 735.7 634C734.7 635.7 732.3 637.1 730.7 637.7C729 638.3 726.8 638.1 725.7 637.7C724.5 637.2 723.4 636.4 723.7 634.8Z" fill="none" stroke="#111" stroke-width="0.9"/>
<path d="M520.2 690C522.5 690.1 529.6 690.5 534 690.8C538.4 691 542.3 691.3 546.5 691.5C550.7 691.7 554.8 691.7 559 692C563.2 692.3 567.8 692.5 571.5 693.2C575.2 694 578.2 695.1 581.5 696.5C584.8 697.9 588.2 700.1 591.5 701.5C594.8 702.9 598.1 704.2 601.5 705C604.9 705.8 608.7 706.2 612 706.2C615.3 706.2 618.7 704.9 621.5 705C624.3 705.1 626.5 705.8 629 707C631.5 708.2 634 710.2 636.5 712C639 713.8 641.5 715.8 644 717.5C646.5 719.2 648.6 720.4 651.5 722C654.4 723.6 658.2 725.8 661.5 727C664.8 728.2 668.6 729.7 671.5 729.5C674.4 729.3 676.9 727.4 679 725.8C681.1 724.1 681.9 721.2 684 719.5C686.1 717.8 688.4 716.4 691.5 715.8C694.6 715.1 698.6 715.3 702.5 715.8C706.4 716.2 710.8 717.3 715 718.2C719.2 719.2 723.3 720.7 727.5 721.5C731.7 722.3 736.5 723 740 723.2C743.5 723.5 745.4 722.8 748.8 722.8C752.1 722.8 756.2 723.4 760 723.2C763.8 723.1 768.3 723 771.2 722C774.2 721 775.6 718.7 777.5 717C779.4 715.3 780 713.2 782.5 712C785 710.8 788.8 710.1 792.5 709.5C796.2 708.9 800.4 708.5 805 708.2C809.6 708 813.3 707.8 820 707.8C826.7 707.8 840.8 708.2 845 708.2" fill="none" stroke="#111" stroke-width="0.9"/>
<path d="M520.2 773.5C522.5 774.3 529.6 776.6 534 778.2C538.4 779.9 542.3 781.4 546.5 783.2C550.7 785.1 556.3 788 559 789.5C561.7 791 562.1 792 562.8 792.5" fill="none" stroke="#111" stroke-width="0.9"/>
<path d="M604 792.5C604.6 792.1 605.7 791.4 607.8 790.2C609.8 789.1 613.4 787.3 616.5 785.8C619.6 784.2 623.2 782.2 626.5 780.8C629.8 779.3 632.8 778 636.5 777C640.2 776 644.8 775.1 649 774.5C653.2 773.9 657.3 773.3 661.5 773.2C665.7 773.2 669.8 773.8 674 774C678.2 774.2 682.6 774.4 686.5 774.5C690.4 774.6 693.6 774.7 697.5 774.5C701.4 774.3 705.8 774.1 710 773.2C714.2 772.4 718.3 771.2 722.5 769.5C726.7 767.8 731.2 765.1 735 763.2C738.8 761.4 741 759.5 745 758.2C749 757 755 755.8 758.8 755.8C762.5 755.8 764.8 757 767.5 758.2C770.2 759.5 772.7 761.6 775 763.2C777.3 764.9 778.8 767.3 781.2 768.2C783.8 769.2 786.5 769.2 790 769C793.5 768.8 798.3 767.8 802.5 767C806.7 766.2 811.2 765.2 815 764C818.8 762.8 821.7 761.5 825 759.5C828.3 757.5 831.7 754.6 835 752C838.3 749.4 843.3 745.3 845 744" fill="none" stroke="#111" stroke-width="0.9"/>
<path d="M765 492C766 493 768.5 496.5 771.2 497.8C774 499 777.9 499.5 781.2 499.5C784.6 499.5 788 499 791.2 497.8C794.5 496.5 799 493 800.5 492" fill="none" stroke="#111" stroke-width="0.9"/>
<rect x="615.8" y="520.4" width="12.4" height="9.4" fill="#fff"/>
<text class="cl" x="622" y="528.9" text-anchor="middle">18</text>
<rect x="565.8" y="580.9" width="12.4" height="9.4" fill="#fff"/>
<text class="cl" x="572" y="589.4" text-anchor="middle">18</text>
<rect x="619.5" y="663.4" width="12.4" height="9.4" fill="#fff"/>
<text class="cl" x="625.8" y="671.9" text-anchor="middle">18</text>
<rect x="649.5" y="697.1" width="12.4" height="9.4" fill="#fff"/>
<text class="cl" x="655.8" y="705.6" text-anchor="middle">18</text>
<rect x="769.3" y="627.6" width="12.4" height="9.4" fill="#fff"/>
<text class="cl" x="775.5" y="636.1" text-anchor="middle">18</text>
<rect x="608.5" y="701.9" width="6.9" height="9.4" fill="#fff"/>
<text class="cl" x="612" y="710.4" text-anchor="middle">9</text>
<rect x="745.3" y="718.4" width="6.9" height="9.4" fill="#fff"/>
<text class="cl" x="748.8" y="726.9" text-anchor="middle">9</text>
<rect x="755.3" y="751.4" width="6.9" height="9.4" fill="#fff"/>
<text class="cl" x="758.8" y="759.9" text-anchor="middle">0</text>
</g>
<rect x="522.1" y="493.8" width="320.7" height="297.1" fill="none" stroke="#000" stroke-width="1.8"/>
<text class="tk" x="500.8" y="497.9" textLength="16.3" lengthAdjust="spacingAndGlyphs">15N</text>
<text class="tk" x="500.8" y="517.7" textLength="16.3" lengthAdjust="spacingAndGlyphs">10N</text>
<text class="tk" x="506.1" y="537.5" textLength="11.1" lengthAdjust="spacingAndGlyphs">5N</text>
<text class="tk" x="506.1" y="557.3" textLength="11" lengthAdjust="spacingAndGlyphs">EQ</text>
<text class="tk" x="506.4" y="577.1" textLength="10.8" lengthAdjust="spacingAndGlyphs">5S</text>
<text class="tk" x="501.1" y="596.9" textLength="16" lengthAdjust="spacingAndGlyphs">10S</text>
<text class="tk" x="501.1" y="616.7" textLength="16" lengthAdjust="spacingAndGlyphs">15S</text>
<text class="tk" x="501.1" y="636.5" textLength="16" lengthAdjust="spacingAndGlyphs">20S</text>
<text class="tk" x="501.1" y="656.4" textLength="16" lengthAdjust="spacingAndGlyphs">25S</text>
<text class="tk" x="501.1" y="676.2" textLength="16" lengthAdjust="spacingAndGlyphs">30S</text>
<text class="tk" x="501.1" y="696" textLength="16" lengthAdjust="spacingAndGlyphs">35S</text>
<text class="tk" x="501.1" y="715.8" textLength="16" lengthAdjust="spacingAndGlyphs">40S</text>
<text class="tk" x="501.1" y="735.6" textLength="16" lengthAdjust="spacingAndGlyphs">45S</text>
<text class="tk" x="501.1" y="755.4" textLength="16" lengthAdjust="spacingAndGlyphs">50S</text>
<text class="tk" x="501.1" y="775.2" textLength="16" lengthAdjust="spacingAndGlyphs">55S</text>
<text class="tk" x="501.1" y="795" textLength="16" lengthAdjust="spacingAndGlyphs">60S</text>
<text class="tk" x="516.5" y="802.4" textLength="21.8" lengthAdjust="spacingAndGlyphs">100W</text>
<text class="tk" x="553.9" y="802.4" textLength="16.5" lengthAdjust="spacingAndGlyphs">90W</text>
<text class="tk" x="589.6" y="802.4" textLength="16.5" lengthAdjust="spacingAndGlyphs">80W</text>
<text class="tk" x="625.2" y="802.4" textLength="16.5" lengthAdjust="spacingAndGlyphs">70W</text>
<text class="tk" x="660.8" y="802.4" textLength="16.5" lengthAdjust="spacingAndGlyphs">60W</text>
<text class="tk" x="696.5" y="802.4" textLength="16.5" lengthAdjust="spacingAndGlyphs">50W</text>
<text class="tk" x="732.1" y="802.4" textLength="16.5" lengthAdjust="spacingAndGlyphs">40W</text>
<text class="tk" x="767.7" y="802.4" textLength="16.5" lengthAdjust="spacingAndGlyphs">30W</text>
<text class="tk" x="803.4" y="802.4" textLength="16.5" lengthAdjust="spacingAndGlyphs">20W</text>
<path d="M522.1 493.8h-3.1M522.1 513.6h-3.1M522.1 533.4h-3.1M522.1 553.2h-3.1M522.1 573h-3.1M522.1 592.8h-3.1M522.1 612.6h-3.1M522.1 632.4h-3.1M522.1 652.3h-3.1M522.1 672.1h-3.1M522.1 691.9h-3.1M522.1 711.7h-3.1M522.1 731.5h-3.1M522.1 751.3h-3.1M522.1 771.1h-3.1M522.1 790.9h-3.1M526.6 790.9v3.2M562.2 790.9v3.2M597.8 790.9v3.2M633.5 790.9v3.2M669.1 790.9v3.2M704.7 790.9v3.2M740.4 790.9v3.2M776 790.9v3.2M811.6 790.9v3.2" stroke="#000" stroke-width="1.3" fill="none"/>
<text class="tt" x="566.37" y="484.3" font-size="19.5" textLength="69.48" lengthAdjust="spacing">cluster:</text>
<text class="tt" x="681.3" y="484.3" font-size="19.5" textLength="94.4" lengthAdjust="spacing">membros:</text>
<text class="tt" x="647.4" y="484.3" font-size="19.5">4</text>
<text class="tt" x="788.1" y="484.3" font-size="19.5">1</text>
<g stroke="#000" stroke-width="1.1" stroke-linejoin="miter">
<path d="M427 150.5 L433.5 134.5 L440 150.5 Z" fill="#a52a32"/>
<rect x="427" y="150.5" width="13" height="15.3" fill="#c00000"/>
<rect x="427" y="165.8" width="13" height="15.3" fill="#cd4040"/>
<rect x="427" y="181.1" width="13" height="15.3" fill="#e11400"/>
<rect x="427" y="196.4" width="13" height="15.3" fill="#ff3200"/>
<rect x="427" y="211.7" width="13" height="15.3" fill="#ff6000"/>
<rect x="427" y="227" width="13" height="15.3" fill="#ffa000"/>
<rect x="427" y="242.3" width="13" height="15.3" fill="#ffc03c"/>
<rect x="427" y="257.6" width="13" height="15.3" fill="#ffe878"/>
<rect x="427" y="272.9" width="13" height="15.3" fill="#78b9fa"/>
<rect x="427" y="288.2" width="13" height="15.3" fill="#3c96f5"/>
<rect x="427" y="303.5" width="13" height="15.3" fill="#1e6eeb"/>
<rect x="427" y="318.8" width="13" height="15.3" fill="#1464d2"/>
<rect x="427" y="334.1" width="13" height="15.3" fill="#1e50d2"/>
<rect x="427" y="349.4" width="13" height="15.3" fill="#4b37c8"/>
<rect x="427" y="364.7" width="13" height="15.3" fill="#695ae1"/>
<rect x="427" y="380" width="13" height="15.3" fill="#826ef0"/>
<rect x="427" y="395.3" width="13" height="15.3" fill="#a08cff"/>
<rect x="427" y="410.6" width="13" height="15.3" fill="#c3b4ff"/>
<path d="M427 425.9 L433.5 440.4 L440 425.9 Z" fill="#dcdcff"/>
</g>
<text class="cb" x="443.3" y="154.4" textLength="13.3" lengthAdjust="spacing">36</text>
<text class="cb" x="443.3" y="169.7" textLength="13.3" lengthAdjust="spacing">33</text>
<text class="cb" x="443.3" y="185" textLength="13.3" lengthAdjust="spacing">30</text>
<text class="cb" x="443.3" y="200.3" textLength="13.3" lengthAdjust="spacing">27</text>
<text class="cb" x="443.3" y="215.6" textLength="13.3" lengthAdjust="spacing">24</text>
<text class="cb" x="443.3" y="230.9" textLength="13.3" lengthAdjust="spacing">21</text>
<text class="cb" x="443.3" y="246.2" textLength="13.3" lengthAdjust="spacing">18</text>
<text class="cb" x="443.3" y="261.5" textLength="13.3" lengthAdjust="spacing">15</text>
<text class="cb" x="443.3" y="276.8" textLength="13.3" lengthAdjust="spacing">12</text>
<text class="cb" x="443.3" y="292.1">9</text>
<text class="cb" x="443.3" y="307.4">6</text>
<text class="cb" x="443.3" y="322.7">3</text>
<text class="cb" x="443.3" y="338">0</text>
<text class="cb" x="443.3" y="353.3" textLength="15.3" lengthAdjust="spacing">−3</text>
<text class="cb" x="443.3" y="368.6" textLength="15.3" lengthAdjust="spacing">−6</text>
<text class="cb" x="443.3" y="383.9" textLength="15.3" lengthAdjust="spacing">−9</text>
<text class="cb" x="443.3" y="399.2" textLength="22.3" lengthAdjust="spacing">−12</text>
<text class="cb" x="443.3" y="414.5" textLength="22.3" lengthAdjust="spacing">−15</text>
<text class="cb" x="443.3" y="429.8" textLength="22.3" lengthAdjust="spacing">−18</text>
</svg></body></html>
